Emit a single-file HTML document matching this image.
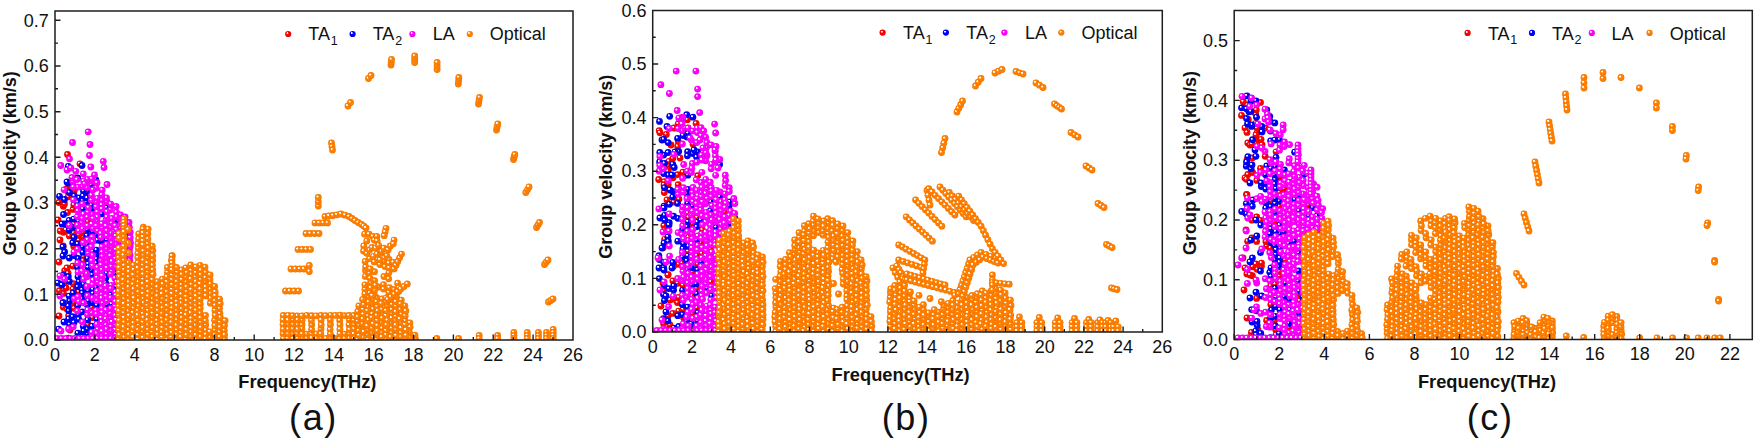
<!DOCTYPE html>
<html><head><meta charset="utf-8"><title>Group velocity</title><style>
html,body{margin:0;padding:0;background:#fff;}
svg{display:block}
.r{fill:url(#gr)} .b{fill:url(#gb)} .m{fill:url(#gm)} .o{fill:url(#go)}
.Lr{fill:url(#gr)} .Lb{fill:url(#gb)} .Lm{fill:url(#gm)} .Lo{fill:url(#go)}
text{font-family:'Liberation Sans',Arial,sans-serif;fill:#111}
.t{font-size:18px}
.ax{font-size:18.3px;font-weight:bold} .ay{font-size:18px;font-weight:bold}
.lg{font-size:18px}
.sub{font-size:12.5px}
.pl{font-size:36px;letter-spacing:1.6px}
</style></head>
<body><svg width="1756" height="441" viewBox="0 0 1756 441">
<defs><radialGradient id="gr" cx=".5" cy=".5" r=".5" fx=".32" fy=".3"><stop offset="0" stop-color="#fff"/><stop offset=".18" stop-color="#fff"/><stop offset=".4" stop-color="#ff0000"/><stop offset=".78" stop-color="#ff0000"/><stop offset="1" stop-color="#d80000"/></radialGradient><radialGradient id="gb" cx=".5" cy=".5" r=".5" fx=".32" fy=".3"><stop offset="0" stop-color="#fff"/><stop offset=".18" stop-color="#fff"/><stop offset=".4" stop-color="#0000ff"/><stop offset=".78" stop-color="#0000ff"/><stop offset="1" stop-color="#0000cc"/></radialGradient><radialGradient id="gm" cx=".5" cy=".5" r=".5" fx=".32" fy=".3"><stop offset="0" stop-color="#fff"/><stop offset=".18" stop-color="#fff"/><stop offset=".4" stop-color="#ff00ff"/><stop offset=".78" stop-color="#ff00ff"/><stop offset="1" stop-color="#dd00dd"/></radialGradient><radialGradient id="go" cx=".5" cy=".5" r=".5" fx=".32" fy=".3"><stop offset="0" stop-color="#fff"/><stop offset=".18" stop-color="#fff"/><stop offset=".4" stop-color="#ff8000"/><stop offset=".78" stop-color="#ff8000"/><stop offset="1" stop-color="#ec7000"/></radialGradient><clipPath id="c0"><rect x="55" y="11" width="518.0" height="329.0"/></clipPath><clipPath id="c1"><rect x="652.7" y="10.5" width="509.6" height="321.5"/></clipPath><clipPath id="c2"><rect x="1234.2" y="10.5" width="518.1" height="329.1"/></clipPath></defs>
<g clip-path="url(#c0)"><g class="r"><circle cx="91.6" cy="307.5" r="3.4"/><circle cx="92.4" cy="317.6" r="3.4"/><circle cx="82.7" cy="275.6" r="3.4"/><circle cx="69.3" cy="235.9" r="3.4"/><circle cx="72.9" cy="289.2" r="3.4"/><circle cx="68.3" cy="196.8" r="3.4"/><circle cx="63.4" cy="293.4" r="3.4"/><circle cx="64.7" cy="270.7" r="3.4"/><circle cx="82.5" cy="237.2" r="3.4"/><circle cx="73.3" cy="283.6" r="3.4"/><circle cx="83.6" cy="256.5" r="3.4"/><circle cx="64.0" cy="283.7" r="3.4"/><circle cx="73.1" cy="209.4" r="3.4"/><circle cx="74.1" cy="308.3" r="3.4"/><circle cx="68.1" cy="192.0" r="3.4"/><circle cx="63.3" cy="307.2" r="3.4"/><circle cx="69.2" cy="187.7" r="3.4"/><circle cx="73.8" cy="246.4" r="3.4"/><circle cx="63.2" cy="302.4" r="3.4"/><circle cx="78.9" cy="235.1" r="3.4"/><circle cx="88.1" cy="324.5" r="3.4"/><circle cx="73.9" cy="224.2" r="3.4"/><circle cx="88.0" cy="221.5" r="3.4"/><circle cx="73.8" cy="204.9" r="3.4"/><circle cx="68.7" cy="315.4" r="3.4"/><circle cx="83.3" cy="232.3" r="3.4"/><circle cx="63.5" cy="232.3" r="3.4"/><circle cx="60.2" cy="231.0" r="3.4"/><circle cx="59.4" cy="290.7" r="3.4"/><circle cx="63.2" cy="246.0" r="3.4"/><circle cx="78.8" cy="240.5" r="3.4"/><circle cx="73.5" cy="232.8" r="3.4"/><circle cx="67.5" cy="154.5" r="3.4"/><circle cx="83.2" cy="260.6" r="3.4"/><circle cx="59.0" cy="202.5" r="3.4"/><circle cx="72.8" cy="266.1" r="3.4"/><circle cx="66.5" cy="188.8" r="3.4"/><circle cx="58.0" cy="220.0" r="3.4"/><circle cx="68.1" cy="273.1" r="3.4"/><circle cx="63.3" cy="206.3" r="3.4"/><circle cx="64.5" cy="204.0" r="3.4"/><circle cx="78.6" cy="291.8" r="3.4"/><circle cx="80.0" cy="163.8" r="3.4"/><circle cx="74.3" cy="190.4" r="3.4"/><circle cx="73.4" cy="302.6" r="3.4"/><circle cx="67.5" cy="212.5" r="3.4"/><circle cx="60.0" cy="240.0" r="3.4"/><circle cx="66.0" cy="230.0" r="3.4"/><circle cx="59.0" cy="262.0" r="3.4"/><circle cx="67.0" cy="268.0" r="3.4"/><circle cx="66.0" cy="288.0" r="3.4"/><circle cx="59.0" cy="316.0" r="3.4"/><circle cx="67.0" cy="309.0" r="3.4"/><circle cx="70.0" cy="330.0" r="3.4"/></g><g class="b"><circle cx="87.3" cy="305.1" r="3.4"/><circle cx="87.1" cy="334.0" r="3.4"/><circle cx="92.9" cy="289.7" r="3.4"/><circle cx="69.5" cy="324.4" r="3.4"/><circle cx="92.5" cy="208.5" r="3.4"/><circle cx="91.5" cy="205.3" r="3.4"/><circle cx="87.0" cy="192.4" r="3.4"/><circle cx="78.3" cy="314.7" r="3.4"/><circle cx="58.6" cy="329.1" r="3.4"/><circle cx="69.4" cy="281.4" r="3.4"/><circle cx="73.8" cy="219.1" r="3.4"/><circle cx="77.5" cy="267.4" r="3.4"/><circle cx="87.5" cy="229.7" r="3.4"/><circle cx="107.1" cy="304.8" r="3.4"/><circle cx="83.5" cy="191.2" r="3.4"/><circle cx="115.0" cy="220.9" r="3.4"/><circle cx="96.6" cy="259.0" r="3.4"/><circle cx="68.6" cy="319.1" r="3.4"/><circle cx="87.1" cy="235.6" r="3.4"/><circle cx="83.3" cy="326.4" r="3.4"/><circle cx="96.3" cy="263.2" r="3.4"/><circle cx="91.4" cy="270.4" r="3.4"/><circle cx="111.6" cy="304.1" r="3.4"/><circle cx="87.2" cy="329.4" r="3.4"/><circle cx="87.8" cy="338.0" r="3.4"/><circle cx="73.0" cy="227.3" r="3.4"/><circle cx="82.3" cy="336.7" r="3.4"/><circle cx="83.7" cy="331.1" r="3.4"/><circle cx="92.7" cy="251.5" r="3.4"/><circle cx="79.0" cy="197.8" r="3.4"/><circle cx="83.0" cy="209.0" r="3.4"/><circle cx="68.8" cy="310.8" r="3.4"/><circle cx="82.8" cy="252.4" r="3.4"/><circle cx="72.6" cy="316.7" r="3.4"/><circle cx="68.3" cy="338.1" r="3.4"/><circle cx="96.2" cy="287.5" r="3.4"/><circle cx="96.5" cy="253.6" r="3.4"/><circle cx="82.0" cy="298.8" r="3.4"/><circle cx="78.0" cy="258.4" r="3.4"/><circle cx="69.3" cy="258.0" r="3.4"/><circle cx="74.0" cy="322.4" r="3.4"/><circle cx="120.5" cy="293.6" r="3.4"/><circle cx="64.6" cy="252.0" r="3.4"/><circle cx="83.4" cy="284.3" r="3.4"/><circle cx="96.2" cy="234.6" r="3.4"/><circle cx="88.2" cy="263.9" r="3.4"/><circle cx="88.1" cy="267.4" r="3.4"/><circle cx="69.1" cy="220.3" r="3.4"/><circle cx="78.1" cy="337.6" r="3.4"/><circle cx="77.7" cy="202.4" r="3.4"/><circle cx="101.2" cy="241.5" r="3.4"/><circle cx="73.2" cy="293.0" r="3.4"/><circle cx="88.3" cy="290.8" r="3.4"/><circle cx="69.5" cy="300.8" r="3.4"/><circle cx="67.9" cy="183.0" r="3.4"/><circle cx="78.5" cy="221.3" r="3.4"/><circle cx="106.7" cy="207.6" r="3.4"/><circle cx="79.0" cy="281.7" r="3.4"/><circle cx="92.0" cy="302.5" r="3.4"/><circle cx="111.0" cy="294.7" r="3.4"/><circle cx="72.7" cy="242.8" r="3.4"/><circle cx="106.7" cy="273.3" r="3.4"/><circle cx="97.5" cy="240.2" r="3.4"/><circle cx="93.0" cy="293.4" r="3.4"/><circle cx="87.2" cy="244.4" r="3.4"/><circle cx="77.7" cy="177.9" r="3.4"/><circle cx="87.6" cy="320.0" r="3.4"/><circle cx="115.3" cy="273.3" r="3.4"/><circle cx="101.7" cy="213.9" r="3.4"/><circle cx="105.6" cy="282.8" r="3.4"/><circle cx="87.6" cy="258.4" r="3.4"/><circle cx="77.5" cy="286.7" r="3.4"/><circle cx="92.9" cy="231.9" r="3.4"/><circle cx="73.8" cy="237.4" r="3.4"/><circle cx="68.3" cy="306.1" r="3.4"/><circle cx="125.4" cy="254.5" r="3.4"/><circle cx="105.9" cy="277.8" r="3.4"/><circle cx="92.3" cy="274.9" r="3.4"/><circle cx="68.3" cy="166.3" r="3.4"/><circle cx="59.5" cy="196.3" r="3.4"/><circle cx="82.7" cy="246.8" r="3.4"/><circle cx="82.7" cy="200.7" r="3.4"/><circle cx="83.1" cy="196.0" r="3.4"/><circle cx="97.0" cy="319.2" r="3.4"/><circle cx="92.1" cy="326.2" r="3.4"/><circle cx="74.3" cy="195.9" r="3.4"/><circle cx="82.2" cy="290.0" r="3.4"/><circle cx="74.0" cy="255.6" r="3.4"/><circle cx="67.0" cy="182.0" r="3.4"/><circle cx="77.8" cy="333.2" r="3.4"/><circle cx="91.5" cy="185.2" r="3.4"/><circle cx="116.1" cy="286.6" r="3.4"/><circle cx="64.5" cy="199.5" r="3.4"/><circle cx="88.3" cy="300.8" r="3.4"/><circle cx="86.8" cy="201.9" r="3.4"/><circle cx="68.3" cy="276.6" r="3.4"/><circle cx="82.2" cy="311.8" r="3.4"/><circle cx="78.0" cy="276.8" r="3.4"/><circle cx="64.3" cy="223.9" r="3.4"/><circle cx="69.3" cy="230.0" r="3.4"/><circle cx="69.5" cy="192.5" r="3.4"/><circle cx="87.1" cy="198.1" r="3.4"/><circle cx="125.0" cy="235.3" r="3.4"/><circle cx="62.0" cy="224.0" r="3.4"/><circle cx="69.1" cy="296.1" r="3.4"/><circle cx="96.9" cy="305.3" r="3.4"/><circle cx="72.9" cy="185.9" r="3.4"/><circle cx="77.7" cy="244.0" r="3.4"/><circle cx="82.3" cy="293.0" r="3.4"/><circle cx="77.7" cy="305.6" r="3.4"/><circle cx="96.4" cy="250.1" r="3.4"/><circle cx="82.0" cy="165.5" r="3.4"/><circle cx="63.5" cy="214.5" r="3.4"/><circle cx="106.9" cy="239.9" r="3.4"/><circle cx="63.4" cy="275.1" r="3.4"/><circle cx="78.9" cy="319.3" r="3.4"/><circle cx="63.0" cy="247.0" r="3.4"/><circle cx="70.0" cy="226.0" r="3.4"/><circle cx="63.0" cy="256.0" r="3.4"/><circle cx="58.0" cy="283.0" r="3.4"/><circle cx="62.0" cy="285.0" r="3.4"/><circle cx="95.8" cy="180.0" r="3.4"/><circle cx="95.8" cy="185.0" r="3.4"/><circle cx="63.0" cy="303.0" r="3.4"/><circle cx="64.0" cy="322.0" r="3.4"/></g><g class="m"><circle cx="121.3" cy="222.8" r="3.4"/><circle cx="110.5" cy="251.1" r="3.4"/><circle cx="101.4" cy="326.0" r="3.4"/><circle cx="106.9" cy="301.0" r="3.4"/><circle cx="110.4" cy="317.5" r="3.4"/><circle cx="97.4" cy="338.0" r="3.4"/><circle cx="130.5" cy="242.8" r="3.4"/><circle cx="83.6" cy="279.2" r="3.4"/><circle cx="97.8" cy="329.1" r="3.4"/><circle cx="88.3" cy="253.1" r="3.4"/><circle cx="93.0" cy="280.2" r="3.4"/><circle cx="111.2" cy="326.6" r="3.4"/><circle cx="116.1" cy="262.6" r="3.4"/><circle cx="115.0" cy="315.4" r="3.4"/><circle cx="101.9" cy="279.5" r="3.4"/><circle cx="121.3" cy="284.1" r="3.4"/><circle cx="102.3" cy="227.8" r="3.4"/><circle cx="115.2" cy="329.6" r="3.4"/><circle cx="87.4" cy="225.7" r="3.4"/><circle cx="105.8" cy="324.7" r="3.4"/><circle cx="114.9" cy="278.2" r="3.4"/><circle cx="86.9" cy="286.4" r="3.4"/><circle cx="96.6" cy="300.4" r="3.4"/><circle cx="115.1" cy="258.6" r="3.4"/><circle cx="129.5" cy="250.8" r="3.4"/><circle cx="92.4" cy="298.0" r="3.4"/><circle cx="115.6" cy="334.5" r="3.4"/><circle cx="110.8" cy="233.3" r="3.4"/><circle cx="110.5" cy="227.3" r="3.4"/><circle cx="82.4" cy="321.9" r="3.4"/><circle cx="115.6" cy="253.2" r="3.4"/><circle cx="106.2" cy="290.8" r="3.4"/><circle cx="101.4" cy="260.3" r="3.4"/><circle cx="92.4" cy="265.7" r="3.4"/><circle cx="96.1" cy="310.3" r="3.4"/><circle cx="115.1" cy="337.6" r="3.4"/><circle cx="73.4" cy="199.8" r="3.4"/><circle cx="116.0" cy="320.1" r="3.4"/><circle cx="115.0" cy="324.6" r="3.4"/><circle cx="102.2" cy="336.2" r="3.4"/><circle cx="92.1" cy="214.4" r="3.4"/><circle cx="130.0" cy="274.8" r="3.4"/><circle cx="77.5" cy="249.2" r="3.4"/><circle cx="92.3" cy="237.0" r="3.4"/><circle cx="101.2" cy="317.8" r="3.4"/><circle cx="111.4" cy="246.3" r="3.4"/><circle cx="120.7" cy="298.5" r="3.4"/><circle cx="102.2" cy="308.2" r="3.4"/><circle cx="96.8" cy="221.1" r="3.4"/><circle cx="97.7" cy="282.1" r="3.4"/><circle cx="106.9" cy="201.7" r="3.4"/><circle cx="125.3" cy="226.5" r="3.4"/><circle cx="78.9" cy="231.0" r="3.4"/><circle cx="77.4" cy="310.9" r="3.4"/><circle cx="101.4" cy="294.5" r="3.4"/><circle cx="106.5" cy="197.8" r="3.4"/><circle cx="106.1" cy="315.6" r="3.4"/><circle cx="82.6" cy="265.2" r="3.4"/><circle cx="102.1" cy="246.7" r="3.4"/><circle cx="82.5" cy="228.9" r="3.4"/><circle cx="101.5" cy="321.9" r="3.4"/><circle cx="116.4" cy="212.3" r="3.4"/><circle cx="125.5" cy="272.2" r="3.4"/><circle cx="114.9" cy="306.3" r="3.4"/><circle cx="124.8" cy="249.6" r="3.4"/><circle cx="130.5" cy="269.7" r="3.4"/><circle cx="111.7" cy="222.9" r="3.4"/><circle cx="101.5" cy="288.6" r="3.4"/><circle cx="121.1" cy="288.7" r="3.4"/><circle cx="92.8" cy="181.3" r="3.4"/><circle cx="83.5" cy="214.2" r="3.4"/><circle cx="129.0" cy="222.5" r="3.4"/><circle cx="125.8" cy="230.1" r="3.4"/><circle cx="125.4" cy="281.3" r="3.4"/><circle cx="74.3" cy="298.6" r="3.4"/><circle cx="130.3" cy="265.4" r="3.4"/><circle cx="87.4" cy="314.6" r="3.4"/><circle cx="111.7" cy="218.4" r="3.4"/><circle cx="96.5" cy="333.4" r="3.4"/><circle cx="115.1" cy="291.9" r="3.4"/><circle cx="129.7" cy="260.2" r="3.4"/><circle cx="82.4" cy="203.9" r="3.4"/><circle cx="83.3" cy="242.7" r="3.4"/><circle cx="93.1" cy="228.5" r="3.4"/><circle cx="116.5" cy="240.3" r="3.4"/><circle cx="73.3" cy="326.8" r="3.4"/><circle cx="125.1" cy="216.8" r="3.4"/><circle cx="110.5" cy="330.9" r="3.4"/><circle cx="115.2" cy="301.5" r="3.4"/><circle cx="82.3" cy="186.6" r="3.4"/><circle cx="120.9" cy="241.8" r="3.4"/><circle cx="77.5" cy="206.1" r="3.4"/><circle cx="115.5" cy="244.4" r="3.4"/><circle cx="101.7" cy="200.4" r="3.4"/><circle cx="96.5" cy="202.1" r="3.4"/><circle cx="77.8" cy="187.2" r="3.4"/><circle cx="68.5" cy="329.0" r="3.4"/><circle cx="101.7" cy="205.0" r="3.4"/><circle cx="106.3" cy="253.1" r="3.4"/><circle cx="121.1" cy="279.6" r="3.4"/><circle cx="92.5" cy="284.6" r="3.4"/><circle cx="120.1" cy="238.0" r="3.4"/><circle cx="82.1" cy="222.6" r="3.4"/><circle cx="111.8" cy="242.8" r="3.4"/><circle cx="111.3" cy="285.3" r="3.4"/><circle cx="124.4" cy="245.2" r="3.4"/><circle cx="78.1" cy="272.2" r="3.4"/><circle cx="78.2" cy="296.6" r="3.4"/><circle cx="110.3" cy="238.2" r="3.4"/><circle cx="121.1" cy="247.0" r="3.4"/><circle cx="97.5" cy="230.7" r="3.4"/><circle cx="92.6" cy="255.4" r="3.4"/><circle cx="101.9" cy="209.0" r="3.4"/><circle cx="106.1" cy="296.4" r="3.4"/><circle cx="110.3" cy="210.0" r="3.4"/><circle cx="110.3" cy="255.9" r="3.4"/><circle cx="87.0" cy="276.7" r="3.4"/><circle cx="87.5" cy="239.7" r="3.4"/><circle cx="88.0" cy="212.2" r="3.4"/><circle cx="116.3" cy="310.0" r="3.4"/><circle cx="130.1" cy="255.5" r="3.4"/><circle cx="115.9" cy="295.3" r="3.4"/><circle cx="115.2" cy="267.1" r="3.4"/><circle cx="64.6" cy="279.1" r="3.4"/><circle cx="102.2" cy="252.2" r="3.4"/><circle cx="115.3" cy="225.6" r="3.4"/><circle cx="116.6" cy="282.1" r="3.4"/><circle cx="120.7" cy="302.7" r="3.4"/><circle cx="110.9" cy="288.5" r="3.4"/><circle cx="110.2" cy="313.5" r="3.4"/><circle cx="69.3" cy="225.3" r="3.4"/><circle cx="97.4" cy="267.4" r="3.4"/><circle cx="119.9" cy="232.4" r="3.4"/><circle cx="119.8" cy="256.9" r="3.4"/><circle cx="125.5" cy="276.5" r="3.4"/><circle cx="102.2" cy="190.1" r="3.4"/><circle cx="106.0" cy="220.1" r="3.4"/><circle cx="111.8" cy="336.8" r="3.4"/><circle cx="106.5" cy="334.1" r="3.4"/><circle cx="119.8" cy="270.1" r="3.4"/><circle cx="86.7" cy="273.5" r="3.4"/><circle cx="116.1" cy="206.5" r="3.4"/><circle cx="88.2" cy="248.5" r="3.4"/><circle cx="97.3" cy="211.9" r="3.4"/><circle cx="130.2" cy="232.3" r="3.4"/><circle cx="96.2" cy="206.8" r="3.4"/><circle cx="87.0" cy="183.9" r="3.4"/><circle cx="101.2" cy="284.1" r="3.4"/><circle cx="87.5" cy="295.6" r="3.4"/><circle cx="106.0" cy="310.2" r="3.4"/><circle cx="106.7" cy="248.6" r="3.4"/><circle cx="77.3" cy="216.8" r="3.4"/><circle cx="96.9" cy="277.5" r="3.4"/><circle cx="64.1" cy="189.8" r="3.4"/><circle cx="101.7" cy="194.7" r="3.4"/><circle cx="105.8" cy="318.9" r="3.4"/><circle cx="101.9" cy="269.5" r="3.4"/><circle cx="130.2" cy="237.7" r="3.4"/><circle cx="96.7" cy="272.4" r="3.4"/><circle cx="91.8" cy="224.1" r="3.4"/><circle cx="100.8" cy="233.4" r="3.4"/><circle cx="106.6" cy="329.3" r="3.4"/><circle cx="101.9" cy="223.6" r="3.4"/><circle cx="74.0" cy="252.1" r="3.4"/><circle cx="120.5" cy="214.8" r="3.4"/><circle cx="60.8" cy="165.5" r="3.4"/><circle cx="77.8" cy="210.9" r="3.4"/><circle cx="72.8" cy="181.6" r="3.4"/><circle cx="96.8" cy="324.3" r="3.4"/><circle cx="111.8" cy="271.0" r="3.4"/><circle cx="129.3" cy="227.4" r="3.4"/><circle cx="97.0" cy="182.7" r="3.4"/><circle cx="91.4" cy="200.2" r="3.4"/><circle cx="120.9" cy="274.3" r="3.4"/><circle cx="121.1" cy="266.2" r="3.4"/><circle cx="83.6" cy="302.9" r="3.4"/><circle cx="82.4" cy="218.5" r="3.4"/><circle cx="77.7" cy="262.9" r="3.4"/><circle cx="111.3" cy="266.5" r="3.4"/><circle cx="72.5" cy="142.5" r="3.4"/><circle cx="111.8" cy="261.3" r="3.4"/><circle cx="125.3" cy="263.1" r="3.4"/><circle cx="91.8" cy="332.3" r="3.4"/><circle cx="110.6" cy="308.5" r="3.4"/><circle cx="119.6" cy="218.8" r="3.4"/><circle cx="130.2" cy="246.5" r="3.4"/><circle cx="101.2" cy="264.9" r="3.4"/><circle cx="102.2" cy="312.5" r="3.4"/><circle cx="97.3" cy="198.3" r="3.4"/><circle cx="69.5" cy="158.8" r="3.4"/><circle cx="91.9" cy="260.6" r="3.4"/><circle cx="120.4" cy="252.4" r="3.4"/><circle cx="97.2" cy="295.4" r="3.4"/><circle cx="111.9" cy="321.8" r="3.4"/><circle cx="92.6" cy="241.7" r="3.4"/><circle cx="67.0" cy="170.0" r="3.4"/><circle cx="91.5" cy="337.0" r="3.4"/><circle cx="107.0" cy="211.7" r="3.4"/><circle cx="106.1" cy="226.0" r="3.4"/><circle cx="116.6" cy="216.8" r="3.4"/><circle cx="106.9" cy="217.0" r="3.4"/><circle cx="115.6" cy="236.0" r="3.4"/><circle cx="102.5" cy="303.0" r="3.4"/><circle cx="106.7" cy="262.4" r="3.4"/><circle cx="91.5" cy="195.3" r="3.4"/><circle cx="124.4" cy="257.9" r="3.4"/><circle cx="102.2" cy="275.8" r="3.4"/><circle cx="101.6" cy="298.2" r="3.4"/><circle cx="70.8" cy="168.0" r="3.4"/><circle cx="119.7" cy="228.8" r="3.4"/><circle cx="91.4" cy="246.6" r="3.4"/><circle cx="97.3" cy="217.0" r="3.4"/><circle cx="93.1" cy="218.6" r="3.4"/><circle cx="105.6" cy="258.3" r="3.4"/><circle cx="101.0" cy="237.4" r="3.4"/><circle cx="110.5" cy="297.8" r="3.4"/><circle cx="125.0" cy="221.4" r="3.4"/><circle cx="87.3" cy="179.4" r="3.4"/><circle cx="72.0" cy="177.5" r="3.4"/><circle cx="106.9" cy="230.6" r="3.4"/><circle cx="97.2" cy="291.2" r="3.4"/><circle cx="102.4" cy="256.4" r="3.4"/><circle cx="87.0" cy="187.5" r="3.4"/><circle cx="91.6" cy="312.9" r="3.4"/><circle cx="82.1" cy="271.1" r="3.4"/><circle cx="110.5" cy="274.2" r="3.4"/><circle cx="96.3" cy="225.9" r="3.4"/><circle cx="75.8" cy="171.3" r="3.4"/><circle cx="120.9" cy="260.9" r="3.4"/><circle cx="88.2" cy="131.8" r="3.4"/><circle cx="105.5" cy="338.1" r="3.4"/><circle cx="88.4" cy="207.6" r="3.4"/><circle cx="116.4" cy="229.6" r="3.4"/><circle cx="115.9" cy="249.6" r="3.4"/><circle cx="73.3" cy="187.0" r="3.4"/><circle cx="96.1" cy="188.2" r="3.4"/><circle cx="78.8" cy="301.5" r="3.4"/><circle cx="77.4" cy="225.1" r="3.4"/><circle cx="93.0" cy="189.7" r="3.4"/><circle cx="106.6" cy="244.4" r="3.4"/><circle cx="83.5" cy="181.0" r="3.4"/><circle cx="77.0" cy="179.5" r="3.4"/><circle cx="124.9" cy="239.0" r="3.4"/><circle cx="106.7" cy="267.9" r="3.4"/><circle cx="105.5" cy="285.9" r="3.4"/><circle cx="106.7" cy="235.7" r="3.4"/><circle cx="96.4" cy="314.1" r="3.4"/><circle cx="102.0" cy="331.3" r="3.4"/><circle cx="110.7" cy="204.1" r="3.4"/><circle cx="90.0" cy="144.5" r="3.4"/><circle cx="124.6" cy="287.0" r="3.4"/><circle cx="87.3" cy="217.1" r="3.4"/><circle cx="87.7" cy="310.0" r="3.4"/><circle cx="83.3" cy="173.8" r="3.4"/><circle cx="89.5" cy="155.5" r="3.4"/><circle cx="84.5" cy="183.8" r="3.4"/><circle cx="90.8" cy="167.0" r="3.4"/><circle cx="60.0" cy="276.0" r="3.4"/><circle cx="92.0" cy="178.8" r="3.4"/><circle cx="94.5" cy="175.0" r="3.4"/><circle cx="60.0" cy="296.0" r="3.4"/><circle cx="103.3" cy="161.3" r="3.4"/><circle cx="104.0" cy="167.5" r="3.4"/><circle cx="57.0" cy="338.5" r="3.4"/><circle cx="61.0" cy="331.0" r="3.4"/><circle cx="107.0" cy="184.5" r="3.4"/><circle cx="61.5" cy="338.5" r="3.4"/><circle cx="66.0" cy="338.5" r="3.4"/><circle cx="70.5" cy="338.5" r="3.4"/><circle cx="75.0" cy="338.5" r="3.4"/><circle cx="79.5" cy="338.5" r="3.4"/><circle cx="84.0" cy="338.5" r="3.4"/><circle cx="88.5" cy="338.5" r="3.4"/><circle cx="93.0" cy="338.5" r="3.4"/><circle cx="97.5" cy="338.5" r="3.4"/><circle cx="102.0" cy="338.5" r="3.4"/><circle cx="106.5" cy="338.5" r="3.4"/><circle cx="111.0" cy="338.5" r="3.4"/><circle cx="115.5" cy="338.5" r="3.4"/></g><g class="o"><circle cx="219.7" cy="332.0" r="3.4"/><circle cx="147.8" cy="257.7" r="3.4"/><circle cx="185.8" cy="267.8" r="3.4"/><circle cx="133.5" cy="308.2" r="3.4"/><circle cx="224.6" cy="339.7" r="3.4"/><circle cx="210.3" cy="303.2" r="3.4"/><circle cx="167.4" cy="272.3" r="3.4"/><circle cx="128.2" cy="296.0" r="3.4"/><circle cx="147.5" cy="339.4" r="3.4"/><circle cx="219.7" cy="336.9" r="3.4"/><circle cx="191.0" cy="336.6" r="3.4"/><circle cx="167.3" cy="315.6" r="3.4"/><circle cx="176.9" cy="319.9" r="3.4"/><circle cx="161.9" cy="303.1" r="3.4"/><circle cx="191.1" cy="270.4" r="3.4"/><circle cx="157.5" cy="291.5" r="3.4"/><circle cx="219.6" cy="299.1" r="3.4"/><circle cx="157.6" cy="315.7" r="3.4"/><circle cx="157.0" cy="320.6" r="3.4"/><circle cx="138.1" cy="282.1" r="3.4"/><circle cx="152.1" cy="288.8" r="3.4"/><circle cx="143.1" cy="298.6" r="3.4"/><circle cx="142.6" cy="331.8" r="3.4"/><circle cx="191.4" cy="284.5" r="3.4"/><circle cx="143.4" cy="303.1" r="3.4"/><circle cx="138.5" cy="325.0" r="3.4"/><circle cx="195.3" cy="320.7" r="3.4"/><circle cx="119.0" cy="248.2" r="3.4"/><circle cx="133.3" cy="323.1" r="3.4"/><circle cx="138.0" cy="335.1" r="3.4"/><circle cx="214.7" cy="330.3" r="3.4"/><circle cx="176.9" cy="330.0" r="3.4"/><circle cx="123.5" cy="289.0" r="3.4"/><circle cx="171.9" cy="299.0" r="3.4"/><circle cx="162.3" cy="279.2" r="3.4"/><circle cx="161.8" cy="318.3" r="3.4"/><circle cx="157.1" cy="324.7" r="3.4"/><circle cx="128.2" cy="311.2" r="3.4"/><circle cx="152.2" cy="317.6" r="3.4"/><circle cx="205.8" cy="330.2" r="3.4"/><circle cx="143.5" cy="245.7" r="3.4"/><circle cx="128.3" cy="339.9" r="3.4"/><circle cx="128.2" cy="262.7" r="3.4"/><circle cx="157.5" cy="330.2" r="3.4"/><circle cx="148.3" cy="334.5" r="3.4"/><circle cx="220.0" cy="322.3" r="3.4"/><circle cx="195.7" cy="305.5" r="3.4"/><circle cx="186.5" cy="291.6" r="3.4"/><circle cx="167.0" cy="310.3" r="3.4"/><circle cx="186.2" cy="320.5" r="3.4"/><circle cx="195.7" cy="335.0" r="3.4"/><circle cx="181.7" cy="313.4" r="3.4"/><circle cx="167.3" cy="296.7" r="3.4"/><circle cx="143.5" cy="240.6" r="3.4"/><circle cx="124.2" cy="298.7" r="3.4"/><circle cx="142.8" cy="265.1" r="3.4"/><circle cx="191.1" cy="274.5" r="3.4"/><circle cx="167.0" cy="286.3" r="3.4"/><circle cx="128.7" cy="282.3" r="3.4"/><circle cx="119.3" cy="272.3" r="3.4"/><circle cx="176.3" cy="296.3" r="3.4"/><circle cx="147.8" cy="329.5" r="3.4"/><circle cx="128.1" cy="243.1" r="3.4"/><circle cx="181.3" cy="299.2" r="3.4"/><circle cx="138.6" cy="296.1" r="3.4"/><circle cx="190.7" cy="303.4" r="3.4"/><circle cx="123.7" cy="260.4" r="3.4"/><circle cx="118.7" cy="257.5" r="3.4"/><circle cx="191.2" cy="298.7" r="3.4"/><circle cx="167.0" cy="281.9" r="3.4"/><circle cx="171.5" cy="317.7" r="3.4"/><circle cx="147.9" cy="272.2" r="3.4"/><circle cx="172.2" cy="303.8" r="3.4"/><circle cx="181.3" cy="284.8" r="3.4"/><circle cx="214.6" cy="320.3" r="3.4"/><circle cx="205.2" cy="281.4" r="3.4"/><circle cx="118.7" cy="339.1" r="3.4"/><circle cx="143.1" cy="279.3" r="3.4"/><circle cx="128.4" cy="329.9" r="3.4"/><circle cx="195.4" cy="276.8" r="3.4"/><circle cx="172.1" cy="264.9" r="3.4"/><circle cx="224.3" cy="330.4" r="3.4"/><circle cx="219.9" cy="313.5" r="3.4"/><circle cx="143.4" cy="227.2" r="3.4"/><circle cx="214.6" cy="335.1" r="3.4"/><circle cx="166.9" cy="276.8" r="3.4"/><circle cx="124.2" cy="337.3" r="3.4"/><circle cx="166.6" cy="329.7" r="3.4"/><circle cx="210.1" cy="289.1" r="3.4"/><circle cx="205.6" cy="286.9" r="3.4"/><circle cx="177.0" cy="291.5" r="3.4"/><circle cx="210.4" cy="293.5" r="3.4"/><circle cx="147.3" cy="277.2" r="3.4"/><circle cx="138.2" cy="320.7" r="3.4"/><circle cx="118.5" cy="306.1" r="3.4"/><circle cx="133.2" cy="293.7" r="3.4"/><circle cx="143.1" cy="288.8" r="3.4"/><circle cx="148.0" cy="310.5" r="3.4"/><circle cx="147.8" cy="233.6" r="3.4"/><circle cx="185.8" cy="282.0" r="3.4"/><circle cx="157.4" cy="300.6" r="3.4"/><circle cx="186.4" cy="286.9" r="3.4"/><circle cx="118.9" cy="330.1" r="3.4"/><circle cx="142.8" cy="270.2" r="3.4"/><circle cx="124.1" cy="265.5" r="3.4"/><circle cx="181.1" cy="303.3" r="3.4"/><circle cx="167.2" cy="324.8" r="3.4"/><circle cx="118.9" cy="282.3" r="3.4"/><circle cx="205.6" cy="272.4" r="3.4"/><circle cx="181.2" cy="294.3" r="3.4"/><circle cx="142.8" cy="308.6" r="3.4"/><circle cx="152.3" cy="284.5" r="3.4"/><circle cx="119.2" cy="253.0" r="3.4"/><circle cx="137.8" cy="262.8" r="3.4"/><circle cx="152.8" cy="250.6" r="3.4"/><circle cx="166.7" cy="300.8" r="3.4"/><circle cx="119.4" cy="276.7" r="3.4"/><circle cx="157.7" cy="306.3" r="3.4"/><circle cx="138.1" cy="276.6" r="3.4"/><circle cx="191.2" cy="308.5" r="3.4"/><circle cx="123.8" cy="236.4" r="3.4"/><circle cx="200.2" cy="304.0" r="3.4"/><circle cx="176.6" cy="334.5" r="3.4"/><circle cx="137.9" cy="330.0" r="3.4"/><circle cx="143.4" cy="255.2" r="3.4"/><circle cx="119.3" cy="262.3" r="3.4"/><circle cx="205.0" cy="267.1" r="3.4"/><circle cx="133.7" cy="279.6" r="3.4"/><circle cx="210.6" cy="298.3" r="3.4"/><circle cx="205.7" cy="324.9" r="3.4"/><circle cx="123.6" cy="313.0" r="3.4"/><circle cx="123.7" cy="226.3" r="3.4"/><circle cx="195.3" cy="329.6" r="3.4"/><circle cx="162.7" cy="284.2" r="3.4"/><circle cx="152.3" cy="293.8" r="3.4"/><circle cx="209.9" cy="279.2" r="3.4"/><circle cx="152.7" cy="260.6" r="3.4"/><circle cx="147.6" cy="286.6" r="3.4"/><circle cx="172.2" cy="255.7" r="3.4"/><circle cx="181.3" cy="288.7" r="3.4"/><circle cx="148.3" cy="291.9" r="3.4"/><circle cx="186.6" cy="310.9" r="3.4"/><circle cx="171.3" cy="327.9" r="3.4"/><circle cx="200.7" cy="279.5" r="3.4"/><circle cx="205.5" cy="315.5" r="3.4"/><circle cx="152.5" cy="265.3" r="3.4"/><circle cx="147.4" cy="305.4" r="3.4"/><circle cx="219.5" cy="308.4" r="3.4"/><circle cx="224.5" cy="325.6" r="3.4"/><circle cx="118.7" cy="295.9" r="3.4"/><circle cx="161.8" cy="313.4" r="3.4"/><circle cx="119.0" cy="315.1" r="3.4"/><circle cx="200.2" cy="308.5" r="3.4"/><circle cx="200.1" cy="265.3" r="3.4"/><circle cx="119.1" cy="233.5" r="3.4"/><circle cx="128.2" cy="320.2" r="3.4"/><circle cx="152.7" cy="269.8" r="3.4"/><circle cx="176.8" cy="276.7" r="3.4"/><circle cx="152.5" cy="313.4" r="3.4"/><circle cx="190.6" cy="313.1" r="3.4"/><circle cx="200.1" cy="313.4" r="3.4"/><circle cx="133.5" cy="303.3" r="3.4"/><circle cx="152.3" cy="332.0" r="3.4"/><circle cx="138.2" cy="272.4" r="3.4"/><circle cx="195.3" cy="325.4" r="3.4"/><circle cx="132.9" cy="312.8" r="3.4"/><circle cx="195.6" cy="315.6" r="3.4"/><circle cx="171.5" cy="260.3" r="3.4"/><circle cx="166.6" cy="291.9" r="3.4"/><circle cx="148.0" cy="324.7" r="3.4"/><circle cx="186.0" cy="315.1" r="3.4"/><circle cx="191.2" cy="327.6" r="3.4"/><circle cx="123.7" cy="274.5" r="3.4"/><circle cx="119.2" cy="286.4" r="3.4"/><circle cx="152.2" cy="298.9" r="3.4"/><circle cx="148.2" cy="229.1" r="3.4"/><circle cx="220.3" cy="317.5" r="3.4"/><circle cx="138.7" cy="233.9" r="3.4"/><circle cx="152.2" cy="246.2" r="3.4"/><circle cx="147.7" cy="243.7" r="3.4"/><circle cx="129.0" cy="334.5" r="3.4"/><circle cx="205.4" cy="320.8" r="3.4"/><circle cx="186.0" cy="324.8" r="3.4"/><circle cx="157.2" cy="281.6" r="3.4"/><circle cx="137.8" cy="253.4" r="3.4"/><circle cx="119.0" cy="301.6" r="3.4"/><circle cx="181.2" cy="332.6" r="3.4"/><circle cx="200.9" cy="322.3" r="3.4"/><circle cx="133.4" cy="265.2" r="3.4"/><circle cx="166.6" cy="320.4" r="3.4"/><circle cx="201.0" cy="331.8" r="3.4"/><circle cx="191.2" cy="293.6" r="3.4"/><circle cx="219.9" cy="327.3" r="3.4"/><circle cx="123.9" cy="221.8" r="3.4"/><circle cx="124.1" cy="308.0" r="3.4"/><circle cx="167.4" cy="267.5" r="3.4"/><circle cx="181.6" cy="317.7" r="3.4"/><circle cx="143.2" cy="260.4" r="3.4"/><circle cx="162.5" cy="298.5" r="3.4"/><circle cx="128.7" cy="324.7" r="3.4"/><circle cx="133.2" cy="317.6" r="3.4"/><circle cx="205.2" cy="277.6" r="3.4"/><circle cx="148.0" cy="253.5" r="3.4"/><circle cx="200.9" cy="327.5" r="3.4"/><circle cx="166.7" cy="339.9" r="3.4"/><circle cx="195.8" cy="281.5" r="3.4"/><circle cx="138.3" cy="248.4" r="3.4"/><circle cx="137.9" cy="310.6" r="3.4"/><circle cx="129.0" cy="267.7" r="3.4"/><circle cx="176.2" cy="339.8" r="3.4"/><circle cx="215.0" cy="300.8" r="3.4"/><circle cx="176.5" cy="310.4" r="3.4"/><circle cx="119.2" cy="320.5" r="3.4"/><circle cx="147.9" cy="238.9" r="3.4"/><circle cx="191.0" cy="332.2" r="3.4"/><circle cx="177.1" cy="272.2" r="3.4"/><circle cx="195.7" cy="272.6" r="3.4"/><circle cx="186.0" cy="339.6" r="3.4"/><circle cx="142.7" cy="313.6" r="3.4"/><circle cx="152.3" cy="279.8" r="3.4"/><circle cx="195.5" cy="301.1" r="3.4"/><circle cx="181.8" cy="279.5" r="3.4"/><circle cx="180.9" cy="337.0" r="3.4"/><circle cx="147.3" cy="262.9" r="3.4"/><circle cx="224.6" cy="334.9" r="3.4"/><circle cx="124.0" cy="219.0" r="3.4"/><circle cx="137.9" cy="286.5" r="3.4"/><circle cx="215.0" cy="310.4" r="3.4"/><circle cx="167.5" cy="334.5" r="3.4"/><circle cx="124.0" cy="222.2" r="3.4"/><circle cx="176.4" cy="325.3" r="3.4"/><circle cx="167.1" cy="305.8" r="3.4"/><circle cx="124.0" cy="225.5" r="3.4"/><circle cx="123.7" cy="269.7" r="3.4"/><circle cx="157.4" cy="339.5" r="3.4"/><circle cx="209.9" cy="337.5" r="3.4"/><circle cx="133.9" cy="298.2" r="3.4"/><circle cx="195.4" cy="291.5" r="3.4"/><circle cx="162.3" cy="327.8" r="3.4"/><circle cx="124.0" cy="228.8" r="3.4"/><circle cx="185.9" cy="276.8" r="3.4"/><circle cx="123.9" cy="246.2" r="3.4"/><circle cx="124.2" cy="231.0" r="3.4"/><circle cx="171.4" cy="322.4" r="3.4"/><circle cx="132.9" cy="332.0" r="3.4"/><circle cx="157.6" cy="334.6" r="3.4"/><circle cx="128.8" cy="276.9" r="3.4"/><circle cx="124.0" cy="232.0" r="3.4"/><circle cx="143.2" cy="235.9" r="3.4"/><circle cx="162.4" cy="308.1" r="3.4"/><circle cx="205.9" cy="291.2" r="3.4"/><circle cx="123.6" cy="294.0" r="3.4"/><circle cx="147.9" cy="301.0" r="3.4"/><circle cx="128.2" cy="229.5" r="3.4"/><circle cx="148.0" cy="296.3" r="3.4"/><circle cx="196.0" cy="286.4" r="3.4"/><circle cx="200.1" cy="283.9" r="3.4"/><circle cx="119.4" cy="334.9" r="3.4"/><circle cx="152.2" cy="308.2" r="3.4"/><circle cx="186.7" cy="272.6" r="3.4"/><circle cx="137.7" cy="315.2" r="3.4"/><circle cx="118.7" cy="291.3" r="3.4"/><circle cx="128.7" cy="291.2" r="3.4"/><circle cx="181.6" cy="322.6" r="3.4"/><circle cx="138.0" cy="243.7" r="3.4"/><circle cx="205.8" cy="295.8" r="3.4"/><circle cx="142.6" cy="231.3" r="3.4"/><circle cx="200.9" cy="270.3" r="3.4"/><circle cx="190.7" cy="279.0" r="3.4"/><circle cx="123.3" cy="284.2" r="3.4"/><circle cx="196.0" cy="296.2" r="3.4"/><circle cx="214.8" cy="325.5" r="3.4"/><circle cx="196.2" cy="340.0" r="3.4"/><circle cx="200.7" cy="274.8" r="3.4"/><circle cx="138.6" cy="306.0" r="3.4"/><circle cx="225.1" cy="320.7" r="3.4"/><circle cx="128.9" cy="271.9" r="3.4"/><circle cx="142.9" cy="322.3" r="3.4"/><circle cx="181.4" cy="308.7" r="3.4"/><circle cx="133.6" cy="269.7" r="3.4"/><circle cx="215.0" cy="305.4" r="3.4"/><circle cx="186.2" cy="296.7" r="3.4"/><circle cx="148.3" cy="248.0" r="3.4"/><circle cx="200.4" cy="317.8" r="3.4"/><circle cx="181.4" cy="270.0" r="3.4"/><circle cx="186.5" cy="300.8" r="3.4"/><circle cx="142.9" cy="337.6" r="3.4"/><circle cx="129.0" cy="315.6" r="3.4"/><circle cx="181.7" cy="274.5" r="3.4"/><circle cx="152.5" cy="303.5" r="3.4"/><circle cx="142.9" cy="284.0" r="3.4"/><circle cx="119.0" cy="311.1" r="3.4"/><circle cx="200.2" cy="293.8" r="3.4"/><circle cx="210.5" cy="284.1" r="3.4"/><circle cx="119.2" cy="267.6" r="3.4"/><circle cx="137.8" cy="257.6" r="3.4"/><circle cx="200.2" cy="289.2" r="3.4"/><circle cx="138.5" cy="239.0" r="3.4"/><circle cx="205.8" cy="334.5" r="3.4"/><circle cx="128.7" cy="301.4" r="3.4"/><circle cx="143.4" cy="317.6" r="3.4"/><circle cx="172.1" cy="308.3" r="3.4"/><circle cx="123.3" cy="279.8" r="3.4"/><circle cx="186.3" cy="305.7" r="3.4"/><circle cx="153.0" cy="274.4" r="3.4"/><circle cx="162.0" cy="289.4" r="3.4"/><circle cx="133.1" cy="337.1" r="3.4"/><circle cx="190.7" cy="265.0" r="3.4"/><circle cx="181.3" cy="328.0" r="3.4"/><circle cx="186.4" cy="329.7" r="3.4"/><circle cx="138.7" cy="301.2" r="3.4"/><circle cx="152.6" cy="337.1" r="3.4"/><circle cx="171.3" cy="337.2" r="3.4"/><circle cx="152.1" cy="322.6" r="3.4"/><circle cx="172.1" cy="279.6" r="3.4"/><circle cx="124.0" cy="317.7" r="3.4"/><circle cx="172.0" cy="289.3" r="3.4"/><circle cx="124.2" cy="322.4" r="3.4"/><circle cx="176.6" cy="301.6" r="3.4"/><circle cx="172.2" cy="284.7" r="3.4"/><circle cx="128.4" cy="252.8" r="3.4"/><circle cx="162.4" cy="322.5" r="3.4"/><circle cx="123.4" cy="331.8" r="3.4"/><circle cx="143.0" cy="229.0" r="3.4"/><circle cx="133.3" cy="327.5" r="3.4"/><circle cx="123.6" cy="327.2" r="3.4"/><circle cx="200.2" cy="298.9" r="3.4"/><circle cx="143.0" cy="233.0" r="3.4"/><circle cx="157.2" cy="287.1" r="3.4"/><circle cx="215.1" cy="339.9" r="3.4"/><circle cx="157.2" cy="296.1" r="3.4"/><circle cx="176.5" cy="286.3" r="3.4"/><circle cx="162.1" cy="337.2" r="3.4"/><circle cx="143.3" cy="251.1" r="3.4"/><circle cx="143.0" cy="237.0" r="3.4"/><circle cx="152.7" cy="327.8" r="3.4"/><circle cx="143.1" cy="274.4" r="3.4"/><circle cx="210.1" cy="274.8" r="3.4"/><circle cx="128.5" cy="287.1" r="3.4"/><circle cx="132.9" cy="284.4" r="3.4"/><circle cx="143.0" cy="241.0" r="3.4"/><circle cx="147.6" cy="315.2" r="3.4"/><circle cx="143.0" cy="245.0" r="3.4"/><circle cx="205.3" cy="339.0" r="3.4"/><circle cx="200.6" cy="336.7" r="3.4"/><circle cx="176.6" cy="281.8" r="3.4"/><circle cx="214.7" cy="286.4" r="3.4"/><circle cx="215.2" cy="291.9" r="3.4"/><circle cx="210.0" cy="331.8" r="3.4"/><circle cx="123.9" cy="303.8" r="3.4"/><circle cx="195.9" cy="310.4" r="3.4"/><circle cx="176.5" cy="267.5" r="3.4"/><circle cx="147.4" cy="267.8" r="3.4"/><circle cx="162.0" cy="294.0" r="3.4"/><circle cx="147.4" cy="320.2" r="3.4"/><circle cx="171.6" cy="332.6" r="3.4"/><circle cx="161.8" cy="332.4" r="3.4"/><circle cx="138.2" cy="291.9" r="3.4"/><circle cx="118.6" cy="325.5" r="3.4"/><circle cx="138.0" cy="339.7" r="3.4"/><circle cx="133.2" cy="275.0" r="3.4"/><circle cx="143.0" cy="327.6" r="3.4"/><circle cx="186.4" cy="335.0" r="3.4"/><circle cx="143.1" cy="293.8" r="3.4"/><circle cx="215.2" cy="295.9" r="3.4"/><circle cx="191.2" cy="289.6" r="3.4"/><circle cx="123.9" cy="240.9" r="3.4"/><circle cx="177.0" cy="305.8" r="3.4"/><circle cx="220.2" cy="303.7" r="3.4"/><circle cx="176.9" cy="315.2" r="3.4"/><circle cx="128.9" cy="305.8" r="3.4"/><circle cx="172.1" cy="275.1" r="3.4"/><circle cx="124.2" cy="251.1" r="3.4"/><circle cx="172.0" cy="293.7" r="3.4"/><circle cx="171.8" cy="270.3" r="3.4"/><circle cx="123.4" cy="255.3" r="3.4"/><circle cx="152.7" cy="255.9" r="3.4"/><circle cx="196.0" cy="267.0" r="3.4"/><circle cx="119.3" cy="238.3" r="3.4"/><circle cx="215.2" cy="315.4" r="3.4"/><circle cx="191.3" cy="318.4" r="3.4"/><circle cx="137.7" cy="267.9" r="3.4"/><circle cx="133.5" cy="289.1" r="3.4"/><circle cx="191.1" cy="322.4" r="3.4"/><circle cx="171.5" cy="312.9" r="3.4"/><circle cx="157.6" cy="310.6" r="3.4"/><circle cx="147.7" cy="281.8" r="3.4"/><circle cx="172.0" cy="256.0" r="3.4"/><circle cx="172.0" cy="259.5" r="3.4"/><circle cx="172.0" cy="263.0" r="3.4"/><circle cx="172.0" cy="266.5" r="3.4"/><circle cx="172.0" cy="270.0" r="3.4"/><circle cx="283.1" cy="333.7" r="3.4"/><circle cx="353.9" cy="324.7" r="3.4"/><circle cx="283.3" cy="315.5" r="3.4"/><circle cx="297.3" cy="324.6" r="3.4"/><circle cx="283.4" cy="338.6" r="3.4"/><circle cx="306.8" cy="315.3" r="3.4"/><circle cx="311.7" cy="324.7" r="3.4"/><circle cx="339.7" cy="320.4" r="3.4"/><circle cx="306.6" cy="334.2" r="3.4"/><circle cx="292.5" cy="334.0" r="3.4"/><circle cx="349.2" cy="333.9" r="3.4"/><circle cx="311.3" cy="333.7" r="3.4"/><circle cx="311.6" cy="329.5" r="3.4"/><circle cx="349.0" cy="338.4" r="3.4"/><circle cx="288.2" cy="315.3" r="3.4"/><circle cx="316.4" cy="334.0" r="3.4"/><circle cx="344.4" cy="315.6" r="3.4"/><circle cx="349.4" cy="320.0" r="3.4"/><circle cx="292.9" cy="319.8" r="3.4"/><circle cx="344.6" cy="334.1" r="3.4"/><circle cx="320.9" cy="315.4" r="3.4"/><circle cx="292.9" cy="338.7" r="3.4"/><circle cx="353.8" cy="320.2" r="3.4"/><circle cx="358.8" cy="315.4" r="3.4"/><circle cx="330.6" cy="315.3" r="3.4"/><circle cx="311.4" cy="320.4" r="3.4"/><circle cx="358.7" cy="334.0" r="3.4"/><circle cx="306.6" cy="338.5" r="3.4"/><circle cx="339.7" cy="338.7" r="3.4"/><circle cx="302.0" cy="324.8" r="3.4"/><circle cx="283.1" cy="320.0" r="3.4"/><circle cx="320.8" cy="338.3" r="3.4"/><circle cx="340.0" cy="324.8" r="3.4"/><circle cx="302.1" cy="320.2" r="3.4"/><circle cx="321.1" cy="320.0" r="3.4"/><circle cx="339.9" cy="329.3" r="3.4"/><circle cx="353.9" cy="329.2" r="3.4"/><circle cx="353.6" cy="334.0" r="3.4"/><circle cx="340.0" cy="315.2" r="3.4"/><circle cx="297.2" cy="315.8" r="3.4"/><circle cx="316.5" cy="338.6" r="3.4"/><circle cx="311.7" cy="315.7" r="3.4"/><circle cx="301.9" cy="329.0" r="3.4"/><circle cx="297.5" cy="319.9" r="3.4"/><circle cx="302.0" cy="338.3" r="3.4"/><circle cx="344.6" cy="338.5" r="3.4"/><circle cx="292.6" cy="324.6" r="3.4"/><circle cx="330.4" cy="324.4" r="3.4"/><circle cx="354.1" cy="338.5" r="3.4"/><circle cx="340.0" cy="333.9" r="3.4"/><circle cx="353.7" cy="315.5" r="3.4"/><circle cx="321.0" cy="329.0" r="3.4"/><circle cx="292.6" cy="315.6" r="3.4"/><circle cx="302.1" cy="315.8" r="3.4"/><circle cx="287.8" cy="338.3" r="3.4"/><circle cx="292.6" cy="329.3" r="3.4"/><circle cx="358.7" cy="319.9" r="3.4"/><circle cx="297.7" cy="338.3" r="3.4"/><circle cx="330.1" cy="329.6" r="3.4"/><circle cx="288.1" cy="324.4" r="3.4"/><circle cx="358.8" cy="338.3" r="3.4"/><circle cx="288.2" cy="333.8" r="3.4"/><circle cx="349.0" cy="324.9" r="3.4"/><circle cx="311.8" cy="338.2" r="3.4"/><circle cx="297.3" cy="333.7" r="3.4"/><circle cx="302.1" cy="334.0" r="3.4"/><circle cx="330.3" cy="320.0" r="3.4"/><circle cx="297.6" cy="329.4" r="3.4"/><circle cx="349.4" cy="329.6" r="3.4"/><circle cx="334.8" cy="338.4" r="3.4"/><circle cx="358.5" cy="324.5" r="3.4"/><circle cx="288.0" cy="320.2" r="3.4"/><circle cx="330.1" cy="338.5" r="3.4"/><circle cx="325.5" cy="315.6" r="3.4"/><circle cx="321.2" cy="325.0" r="3.4"/><circle cx="316.2" cy="315.8" r="3.4"/><circle cx="320.8" cy="333.9" r="3.4"/><circle cx="330.3" cy="334.1" r="3.4"/><circle cx="325.9" cy="338.4" r="3.4"/><circle cx="335.3" cy="315.4" r="3.4"/><circle cx="348.9" cy="315.5" r="3.4"/><circle cx="288.0" cy="329.3" r="3.4"/><circle cx="373.1" cy="309.1" r="3.4"/><circle cx="377.2" cy="306.5" r="3.4"/><circle cx="405.2" cy="320.9" r="3.4"/><circle cx="358.8" cy="329.6" r="3.4"/><circle cx="367.6" cy="316.1" r="3.4"/><circle cx="391.6" cy="332.6" r="3.4"/><circle cx="283.1" cy="324.5" r="3.4"/><circle cx="382.1" cy="299.0" r="3.4"/><circle cx="373.2" cy="336.7" r="3.4"/><circle cx="283.2" cy="329.2" r="3.4"/><circle cx="358.9" cy="305.9" r="3.4"/><circle cx="381.2" cy="322.4" r="3.4"/><circle cx="392.0" cy="313.6" r="3.4"/><circle cx="376.7" cy="297.7" r="3.4"/><circle cx="363.1" cy="309.5" r="3.4"/><circle cx="372.0" cy="303.7" r="3.4"/><circle cx="376.5" cy="340.0" r="3.4"/><circle cx="409.9" cy="322.8" r="3.4"/><circle cx="369.5" cy="292.7" r="3.4"/><circle cx="383.6" cy="261.4" r="3.4"/><circle cx="391.6" cy="309.5" r="3.4"/><circle cx="365.5" cy="270.4" r="3.4"/><circle cx="365.0" cy="289.3" r="3.4"/><circle cx="368.0" cy="339.6" r="3.4"/><circle cx="379.8" cy="264.5" r="3.4"/><circle cx="381.9" cy="328.4" r="3.4"/><circle cx="396.5" cy="297.2" r="3.4"/><circle cx="384.9" cy="266.6" r="3.4"/><circle cx="364.9" cy="284.8" r="3.4"/><circle cx="385.9" cy="330.7" r="3.4"/><circle cx="415.5" cy="338.8" r="3.4"/><circle cx="374.2" cy="261.9" r="3.4"/><circle cx="365.3" cy="276.4" r="3.4"/><circle cx="401.1" cy="332.8" r="3.4"/><circle cx="357.8" cy="311.5" r="3.4"/><circle cx="291.0" cy="269.0" r="3.4"/><circle cx="377.2" cy="320.5" r="3.4"/><circle cx="367.2" cy="334.8" r="3.4"/><circle cx="374.6" cy="280.6" r="3.4"/><circle cx="378.9" cy="287.0" r="3.4"/><circle cx="285.5" cy="291.0" r="3.4"/><circle cx="298.0" cy="249.4" r="3.4"/><circle cx="393.7" cy="289.5" r="3.4"/><circle cx="391.6" cy="318.1" r="3.4"/><circle cx="374.5" cy="271.7" r="3.4"/><circle cx="397.6" cy="283.2" r="3.4"/><circle cx="406.1" cy="339.0" r="3.4"/><circle cx="370.7" cy="282.6" r="3.4"/><circle cx="331.5" cy="143.0" r="3.4"/><circle cx="368.0" cy="297.0" r="3.4"/><circle cx="382.5" cy="313.2" r="3.4"/><circle cx="332.0" cy="146.5" r="3.4"/><circle cx="410.1" cy="327.1" r="3.4"/><circle cx="375.4" cy="285.3" r="3.4"/><circle cx="332.5" cy="150.0" r="3.4"/><circle cx="409.6" cy="337.3" r="3.4"/><circle cx="391.6" cy="328.2" r="3.4"/><circle cx="295.3" cy="269.0" r="3.4"/><circle cx="306.0" cy="233.5" r="3.4"/><circle cx="365.7" cy="267.0" r="3.4"/><circle cx="362.4" cy="327.2" r="3.4"/><circle cx="401.4" cy="314.1" r="3.4"/><circle cx="302.2" cy="249.4" r="3.4"/><circle cx="289.8" cy="291.0" r="3.4"/><circle cx="388.9" cy="272.8" r="3.4"/><circle cx="363.0" cy="337.5" r="3.4"/><circle cx="383.9" cy="276.5" r="3.4"/><circle cx="365.2" cy="261.4" r="3.4"/><circle cx="318.3" cy="206.0" r="3.4"/><circle cx="390.5" cy="323.2" r="3.4"/><circle cx="318.3" cy="201.8" r="3.4"/><circle cx="318.3" cy="197.5" r="3.4"/><circle cx="391.5" cy="298.8" r="3.4"/><circle cx="389.1" cy="259.4" r="3.4"/><circle cx="400.6" cy="336.9" r="3.4"/><circle cx="388.9" cy="263.2" r="3.4"/><circle cx="401.0" cy="322.7" r="3.4"/><circle cx="367.9" cy="307.3" r="3.4"/><circle cx="377.5" cy="334.4" r="3.4"/><circle cx="348.0" cy="106.0" r="3.4"/><circle cx="357.9" cy="339.7" r="3.4"/><circle cx="405.2" cy="315.8" r="3.4"/><circle cx="388.9" cy="292.4" r="3.4"/><circle cx="391.8" cy="304.6" r="3.4"/><circle cx="299.7" cy="269.0" r="3.4"/><circle cx="310.3" cy="233.5" r="3.4"/><circle cx="393.7" cy="265.8" r="3.4"/><circle cx="306.3" cy="249.4" r="3.4"/><circle cx="350.5" cy="102.5" r="3.4"/><circle cx="374.0" cy="294.2" r="3.4"/><circle cx="294.2" cy="291.0" r="3.4"/><circle cx="372.2" cy="313.8" r="3.4"/><circle cx="315.0" cy="222.9" r="3.4"/><circle cx="359.0" cy="335.5" r="3.4"/><circle cx="381.6" cy="309.6" r="3.4"/><circle cx="374.5" cy="290.4" r="3.4"/><circle cx="386.1" cy="315.8" r="3.4"/><circle cx="401.3" cy="300.1" r="3.4"/><circle cx="405.1" cy="324.8" r="3.4"/><circle cx="381.4" cy="332.7" r="3.4"/><circle cx="398.7" cy="291.6" r="3.4"/><circle cx="358.5" cy="330.6" r="3.4"/><circle cx="304.0" cy="269.0" r="3.4"/><circle cx="314.7" cy="233.5" r="3.4"/><circle cx="358.9" cy="325.2" r="3.4"/><circle cx="310.5" cy="249.4" r="3.4"/><circle cx="386.2" cy="297.9" r="3.4"/><circle cx="383.5" cy="284.6" r="3.4"/><circle cx="298.5" cy="291.0" r="3.4"/><circle cx="364.9" cy="294.0" r="3.4"/><circle cx="396.1" cy="329.6" r="3.4"/><circle cx="319.2" cy="222.9" r="3.4"/><circle cx="400.0" cy="309.4" r="3.4"/><circle cx="387.2" cy="306.0" r="3.4"/><circle cx="370.6" cy="287.8" r="3.4"/><circle cx="383.5" cy="289.0" r="3.4"/><circle cx="395.5" cy="320.3" r="3.4"/><circle cx="371.7" cy="332.5" r="3.4"/><circle cx="385.9" cy="339.9" r="3.4"/><circle cx="396.0" cy="306.2" r="3.4"/><circle cx="382.1" cy="318.2" r="3.4"/><circle cx="373.1" cy="299.2" r="3.4"/><circle cx="309.3" cy="265.5" r="3.4"/><circle cx="395.8" cy="316.3" r="3.4"/><circle cx="319.0" cy="233.5" r="3.4"/><circle cx="325.0" cy="216.5" r="3.4"/><circle cx="414.9" cy="335.2" r="3.4"/><circle cx="323.3" cy="222.9" r="3.4"/><circle cx="309.3" cy="271.5" r="3.4"/><circle cx="368.5" cy="78.5" r="3.4"/><circle cx="377.6" cy="310.8" r="3.4"/><circle cx="389.2" cy="267.9" r="3.4"/><circle cx="369.5" cy="273.1" r="3.4"/><circle cx="395.7" cy="325.2" r="3.4"/><circle cx="376.6" cy="315.5" r="3.4"/><circle cx="367.5" cy="330.2" r="3.4"/><circle cx="369.5" cy="258.6" r="3.4"/><circle cx="409.3" cy="332.2" r="3.4"/><circle cx="371.0" cy="75.5" r="3.4"/><circle cx="329.0" cy="216.0" r="3.4"/><circle cx="404.9" cy="305.8" r="3.4"/><circle cx="327.5" cy="222.9" r="3.4"/><circle cx="405.8" cy="311.0" r="3.4"/><circle cx="367.3" cy="310.7" r="3.4"/><circle cx="363.2" cy="314.4" r="3.4"/><circle cx="401.1" cy="328.0" r="3.4"/><circle cx="389.3" cy="287.6" r="3.4"/><circle cx="388.7" cy="278.8" r="3.4"/><circle cx="386.0" cy="335.1" r="3.4"/><circle cx="393.2" cy="262.3" r="3.4"/><circle cx="398.9" cy="287.6" r="3.4"/><circle cx="399.9" cy="319.1" r="3.4"/><circle cx="387.3" cy="320.4" r="3.4"/><circle cx="333.0" cy="215.5" r="3.4"/><circle cx="370.2" cy="268.9" r="3.4"/><circle cx="370.1" cy="278.3" r="3.4"/><circle cx="357.7" cy="321.1" r="3.4"/><circle cx="371.8" cy="328.3" r="3.4"/><circle cx="390.7" cy="337.1" r="3.4"/><circle cx="386.4" cy="324.9" r="3.4"/><circle cx="380.0" cy="259.7" r="3.4"/><circle cx="372.2" cy="295.6" r="3.4"/><circle cx="395.8" cy="301.6" r="3.4"/><circle cx="400.4" cy="303.9" r="3.4"/><circle cx="373.1" cy="323.8" r="3.4"/><circle cx="377.3" cy="325.6" r="3.4"/><circle cx="337.0" cy="214.8" r="3.4"/><circle cx="357.6" cy="316.8" r="3.4"/><circle cx="363.7" cy="304.7" r="3.4"/><circle cx="376.4" cy="301.8" r="3.4"/><circle cx="381.8" cy="337.0" r="3.4"/><circle cx="406.0" cy="330.0" r="3.4"/><circle cx="395.6" cy="311.7" r="3.4"/><circle cx="362.5" cy="323.7" r="3.4"/><circle cx="341.0" cy="214.0" r="3.4"/><circle cx="386.1" cy="302.2" r="3.4"/><circle cx="363.7" cy="331.9" r="3.4"/><circle cx="381.3" cy="303.5" r="3.4"/><circle cx="406.0" cy="335.4" r="3.4"/><circle cx="391.0" cy="65.0" r="3.4"/><circle cx="391.2" cy="62.2" r="3.4"/><circle cx="391.5" cy="59.5" r="3.4"/><circle cx="368.5" cy="302.1" r="3.4"/><circle cx="345.0" cy="215.2" r="3.4"/><circle cx="395.7" cy="340.2" r="3.4"/><circle cx="362.7" cy="319.0" r="3.4"/><circle cx="349.0" cy="216.5" r="3.4"/><circle cx="396.1" cy="335.6" r="3.4"/><circle cx="367.2" cy="326.0" r="3.4"/><circle cx="362.6" cy="299.5" r="3.4"/><circle cx="368.5" cy="320.1" r="3.4"/><circle cx="371.7" cy="317.6" r="3.4"/><circle cx="386.0" cy="310.6" r="3.4"/><circle cx="352.0" cy="218.5" r="3.4"/><circle cx="377.4" cy="330.8" r="3.4"/><circle cx="355.0" cy="220.5" r="3.4"/><circle cx="358.2" cy="222.5" r="3.4"/><circle cx="361.5" cy="224.5" r="3.4"/><circle cx="414.7" cy="62.5" r="3.4"/><circle cx="414.7" cy="59.2" r="3.4"/><circle cx="414.7" cy="56.0" r="3.4"/><circle cx="363.8" cy="226.2" r="3.4"/><circle cx="366.0" cy="228.0" r="3.4"/><circle cx="364.6" cy="234.2" r="3.4"/><circle cx="363.8" cy="246.0" r="3.4"/><circle cx="363.5" cy="251.0" r="3.4"/><circle cx="366.8" cy="240.9" r="3.4"/><circle cx="369.0" cy="234.2" r="3.4"/><circle cx="366.8" cy="253.4" r="3.4"/><circle cx="372.7" cy="236.4" r="3.4"/><circle cx="369.5" cy="250.0" r="3.4"/><circle cx="374.2" cy="240.1" r="3.4"/><circle cx="372.0" cy="247.5" r="3.4"/><circle cx="376.8" cy="236.4" r="3.4"/><circle cx="377.1" cy="240.9" r="3.4"/><circle cx="375.6" cy="248.2" r="3.4"/><circle cx="373.4" cy="256.3" r="3.4"/><circle cx="378.6" cy="245.3" r="3.4"/><circle cx="377.1" cy="254.1" r="3.4"/><circle cx="386.0" cy="228.3" r="3.4"/><circle cx="385.1" cy="232.0" r="3.4"/><circle cx="384.2" cy="235.7" r="3.4"/><circle cx="437.1" cy="69.5" r="3.4"/><circle cx="437.1" cy="66.0" r="3.4"/><circle cx="437.1" cy="62.5" r="3.4"/><circle cx="380.8" cy="253.4" r="3.4"/><circle cx="381.5" cy="251.2" r="3.4"/><circle cx="383.8" cy="248.2" r="3.4"/><circle cx="388.2" cy="249.7" r="3.4"/><circle cx="386.7" cy="255.6" r="3.4"/><circle cx="390.4" cy="246.0" r="3.4"/><circle cx="394.0" cy="240.1" r="3.4"/><circle cx="393.3" cy="243.8" r="3.4"/><circle cx="394.1" cy="268.9" r="3.4"/><circle cx="396.0" cy="265.2" r="3.4"/><circle cx="397.8" cy="261.5" r="3.4"/><circle cx="399.6" cy="257.8" r="3.4"/><circle cx="387.7" cy="299.4" r="3.4"/><circle cx="401.5" cy="254.1" r="3.4"/><circle cx="391.0" cy="296.8" r="3.4"/><circle cx="458.3" cy="84.0" r="3.4"/><circle cx="458.6" cy="80.8" r="3.4"/><circle cx="458.8" cy="77.5" r="3.4"/><circle cx="394.2" cy="294.2" r="3.4"/><circle cx="397.5" cy="291.6" r="3.4"/><circle cx="400.8" cy="289.1" r="3.4"/><circle cx="404.0" cy="286.5" r="3.4"/><circle cx="407.3" cy="283.9" r="3.4"/><circle cx="478.5" cy="104.0" r="3.4"/><circle cx="479.0" cy="100.8" r="3.4"/><circle cx="479.5" cy="97.5" r="3.4"/><circle cx="496.5" cy="130.0" r="3.4"/><circle cx="497.1" cy="127.0" r="3.4"/><circle cx="497.8" cy="124.0" r="3.4"/><circle cx="436.8" cy="338.5" r="3.4"/><circle cx="513.5" cy="159.5" r="3.4"/><circle cx="458.6" cy="338.5" r="3.4"/><circle cx="514.1" cy="157.0" r="3.4"/><circle cx="514.8" cy="154.5" r="3.4"/><circle cx="479.2" cy="335.5" r="3.4"/><circle cx="479.2" cy="338.5" r="3.4"/><circle cx="525.8" cy="192.5" r="3.4"/><circle cx="527.4" cy="189.8" r="3.4"/><circle cx="529.0" cy="187.0" r="3.4"/><circle cx="497.6" cy="335.5" r="3.4"/><circle cx="497.6" cy="338.5" r="3.4"/><circle cx="536.5" cy="227.5" r="3.4"/><circle cx="538.0" cy="225.0" r="3.4"/><circle cx="539.5" cy="222.5" r="3.4"/><circle cx="513.9" cy="332.5" r="3.4"/><circle cx="513.9" cy="335.5" r="3.4"/><circle cx="513.9" cy="338.5" r="3.4"/><circle cx="544.5" cy="264.5" r="3.4"/><circle cx="546.2" cy="262.2" r="3.4"/><circle cx="548.0" cy="260.0" r="3.4"/><circle cx="527.3" cy="332.5" r="3.4"/><circle cx="527.3" cy="335.5" r="3.4"/><circle cx="527.3" cy="338.5" r="3.4"/><circle cx="538.4" cy="332.5" r="3.4"/><circle cx="548.5" cy="302.0" r="3.4"/><circle cx="538.4" cy="335.5" r="3.4"/><circle cx="538.4" cy="338.5" r="3.4"/><circle cx="550.8" cy="300.5" r="3.4"/><circle cx="553.0" cy="299.0" r="3.4"/><circle cx="546.5" cy="332.5" r="3.4"/><circle cx="546.5" cy="335.5" r="3.4"/><circle cx="546.5" cy="338.5" r="3.4"/><circle cx="553.2" cy="329.5" r="3.4"/><circle cx="553.2" cy="332.5" r="3.4"/><circle cx="553.2" cy="335.5" r="3.4"/><circle cx="553.2" cy="338.5" r="3.4"/></g></g><g clip-path="url(#c1)"><g class="r"><circle cx="664.6" cy="239.3" r="3.4"/><circle cx="720.9" cy="322.8" r="3.4"/><circle cx="697.7" cy="175.7" r="3.4"/><circle cx="724.5" cy="212.5" r="3.4"/><circle cx="672.9" cy="280.9" r="3.4"/><circle cx="710.4" cy="248.9" r="3.4"/><circle cx="679.0" cy="199.1" r="3.4"/><circle cx="663.9" cy="225.5" r="3.4"/><circle cx="663.2" cy="247.8" r="3.4"/><circle cx="696.8" cy="255.5" r="3.4"/><circle cx="668.0" cy="274.6" r="3.4"/><circle cx="687.8" cy="213.2" r="3.4"/><circle cx="692.4" cy="224.0" r="3.4"/><circle cx="692.3" cy="313.5" r="3.4"/><circle cx="663.5" cy="291.2" r="3.4"/><circle cx="678.4" cy="142.1" r="3.4"/><circle cx="734.9" cy="236.0" r="3.4"/><circle cx="668.1" cy="315.9" r="3.4"/><circle cx="687.3" cy="119.7" r="3.4"/><circle cx="678.2" cy="123.9" r="3.4"/><circle cx="702.3" cy="229.9" r="3.4"/><circle cx="692.3" cy="272.3" r="3.4"/><circle cx="701.0" cy="242.7" r="3.4"/><circle cx="693.1" cy="144.3" r="3.4"/><circle cx="664.3" cy="192.5" r="3.4"/><circle cx="672.7" cy="158.6" r="3.4"/><circle cx="678.8" cy="297.4" r="3.4"/><circle cx="697.4" cy="331.4" r="3.4"/><circle cx="711.0" cy="281.9" r="3.4"/><circle cx="688.4" cy="217.4" r="3.4"/><circle cx="672.9" cy="299.2" r="3.4"/><circle cx="678.2" cy="184.7" r="3.4"/><circle cx="678.8" cy="264.3" r="3.4"/><circle cx="659.2" cy="130.6" r="3.4"/><circle cx="697.6" cy="264.2" r="3.4"/><circle cx="683.7" cy="317.9" r="3.4"/><circle cx="663.6" cy="323.7" r="3.4"/><circle cx="688.3" cy="237.3" r="3.4"/><circle cx="688.1" cy="251.3" r="3.4"/><circle cx="664.3" cy="181.6" r="3.4"/><circle cx="673.6" cy="266.2" r="3.4"/><circle cx="735.3" cy="301.6" r="3.4"/><circle cx="666.3" cy="134.4" r="3.4"/><circle cx="677.4" cy="302.6" r="3.4"/><circle cx="691.9" cy="295.9" r="3.4"/><circle cx="674.0" cy="128.0" r="3.4"/><circle cx="668.3" cy="165.6" r="3.4"/><circle cx="668.0" cy="326.6" r="3.4"/><circle cx="668.2" cy="184.5" r="3.4"/><circle cx="671.0" cy="145.0" r="3.4"/><circle cx="660.0" cy="132.8" r="3.4"/><circle cx="677.7" cy="146.4" r="3.4"/><circle cx="677.5" cy="283.3" r="3.4"/><circle cx="697.2" cy="217.6" r="3.4"/><circle cx="683.0" cy="285.3" r="3.4"/><circle cx="664.6" cy="230.3" r="3.4"/><circle cx="682.9" cy="309.8" r="3.4"/><circle cx="677.6" cy="174.6" r="3.4"/><circle cx="668.0" cy="170.0" r="3.4"/><circle cx="664.0" cy="185.0" r="3.4"/><circle cx="673.0" cy="177.8" r="3.4"/><circle cx="682.9" cy="172.2" r="3.4"/><circle cx="673.8" cy="202.1" r="3.4"/><circle cx="688.0" cy="128.0" r="3.4"/><circle cx="678.7" cy="311.1" r="3.4"/><circle cx="667.0" cy="200.0" r="3.4"/><circle cx="680.0" cy="158.0" r="3.4"/><circle cx="662.0" cy="218.0" r="3.4"/><circle cx="682.0" cy="263.0" r="3.4"/><circle cx="658.7" cy="179.5" r="3.4"/><circle cx="696.5" cy="288.6" r="3.4"/><circle cx="697.0" cy="307.8" r="3.4"/><circle cx="672.8" cy="313.4" r="3.4"/><circle cx="667.9" cy="171.4" r="3.4"/><circle cx="668.9" cy="161.3" r="3.4"/><circle cx="696.1" cy="123.4" r="3.4"/><circle cx="701.8" cy="253.5" r="3.4"/><circle cx="692.6" cy="327.8" r="3.4"/><circle cx="668.0" cy="240.0" r="3.4"/><circle cx="663.0" cy="283.0" r="3.4"/><circle cx="668.0" cy="275.0" r="3.4"/><circle cx="661.0" cy="306.0" r="3.4"/><circle cx="670.0" cy="300.0" r="3.4"/><circle cx="670.0" cy="325.0" r="3.4"/></g><g class="b"><circle cx="720.7" cy="276.5" r="3.4"/><circle cx="687.5" cy="269.6" r="3.4"/><circle cx="667.9" cy="320.9" r="3.4"/><circle cx="659.9" cy="218.0" r="3.4"/><circle cx="688.4" cy="246.3" r="3.4"/><circle cx="696.2" cy="283.9" r="3.4"/><circle cx="729.9" cy="201.8" r="3.4"/><circle cx="697.3" cy="222.1" r="3.4"/><circle cx="716.1" cy="227.4" r="3.4"/><circle cx="682.4" cy="257.1" r="3.4"/><circle cx="692.8" cy="153.5" r="3.4"/><circle cx="683.4" cy="243.7" r="3.4"/><circle cx="678.3" cy="330.1" r="3.4"/><circle cx="663.5" cy="294.5" r="3.4"/><circle cx="658.9" cy="255.6" r="3.4"/><circle cx="668.9" cy="288.6" r="3.4"/><circle cx="668.1" cy="142.6" r="3.4"/><circle cx="711.6" cy="295.6" r="3.4"/><circle cx="663.7" cy="155.1" r="3.4"/><circle cx="687.9" cy="255.8" r="3.4"/><circle cx="663.5" cy="318.6" r="3.4"/><circle cx="686.8" cy="260.7" r="3.4"/><circle cx="692.9" cy="117.2" r="3.4"/><circle cx="710.4" cy="210.6" r="3.4"/><circle cx="687.6" cy="151.6" r="3.4"/><circle cx="701.1" cy="261.9" r="3.4"/><circle cx="674.0" cy="328.1" r="3.4"/><circle cx="701.0" cy="220.1" r="3.4"/><circle cx="696.5" cy="157.1" r="3.4"/><circle cx="687.6" cy="307.2" r="3.4"/><circle cx="677.6" cy="138.4" r="3.4"/><circle cx="664.0" cy="243.1" r="3.4"/><circle cx="668.3" cy="175.2" r="3.4"/><circle cx="691.6" cy="285.2" r="3.4"/><circle cx="673.6" cy="290.1" r="3.4"/><circle cx="687.0" cy="193.5" r="3.4"/><circle cx="659.8" cy="152.5" r="3.4"/><circle cx="696.6" cy="226.8" r="3.4"/><circle cx="672.7" cy="262.4" r="3.4"/><circle cx="719.9" cy="196.9" r="3.4"/><circle cx="686.7" cy="320.8" r="3.4"/><circle cx="691.4" cy="323.7" r="3.4"/><circle cx="687.1" cy="226.8" r="3.4"/><circle cx="664.2" cy="285.3" r="3.4"/><circle cx="659.3" cy="278.6" r="3.4"/><circle cx="659.6" cy="162.0" r="3.4"/><circle cx="677.8" cy="315.7" r="3.4"/><circle cx="677.8" cy="241.2" r="3.4"/><circle cx="677.9" cy="218.3" r="3.4"/><circle cx="707.1" cy="330.4" r="3.4"/><circle cx="669.4" cy="204.3" r="3.4"/><circle cx="659.5" cy="121.4" r="3.4"/><circle cx="664.5" cy="163.4" r="3.4"/><circle cx="725.1" cy="311.7" r="3.4"/><circle cx="669.2" cy="222.7" r="3.4"/><circle cx="734.8" cy="218.2" r="3.4"/><circle cx="686.9" cy="137.0" r="3.4"/><circle cx="673.0" cy="191.6" r="3.4"/><circle cx="691.5" cy="267.7" r="3.4"/><circle cx="673.6" cy="216.2" r="3.4"/><circle cx="697.4" cy="269.7" r="3.4"/><circle cx="696.8" cy="293.7" r="3.4"/><circle cx="696.7" cy="240.3" r="3.4"/><circle cx="662.0" cy="140.0" r="3.4"/><circle cx="669.7" cy="116.3" r="3.4"/><circle cx="667.0" cy="126.5" r="3.4"/><circle cx="697.6" cy="151.9" r="3.4"/><circle cx="682.6" cy="229.4" r="3.4"/><circle cx="663.7" cy="267.5" r="3.4"/><circle cx="668.0" cy="236.8" r="3.4"/><circle cx="678.7" cy="151.5" r="3.4"/><circle cx="664.4" cy="187.6" r="3.4"/><circle cx="682.3" cy="304.6" r="3.4"/><circle cx="678.8" cy="326.5" r="3.4"/><circle cx="663.8" cy="262.3" r="3.4"/><circle cx="720.4" cy="257.5" r="3.4"/><circle cx="659.3" cy="259.5" r="3.4"/><circle cx="711.0" cy="201.9" r="3.4"/><circle cx="668.6" cy="331.2" r="3.4"/><circle cx="668.3" cy="241.4" r="3.4"/><circle cx="682.5" cy="290.3" r="3.4"/><circle cx="707.2" cy="288.3" r="3.4"/><circle cx="719.6" cy="164.5" r="3.4"/><circle cx="664.9" cy="220.1" r="3.4"/><circle cx="688.0" cy="189.3" r="3.4"/><circle cx="735.3" cy="222.3" r="3.4"/><circle cx="687.6" cy="203.2" r="3.4"/><circle cx="682.6" cy="314.5" r="3.4"/><circle cx="729.2" cy="205.7" r="3.4"/><circle cx="672.7" cy="197.1" r="3.4"/><circle cx="729.1" cy="328.7" r="3.4"/><circle cx="675.0" cy="152.0" r="3.4"/><circle cx="663.7" cy="173.6" r="3.4"/><circle cx="668.1" cy="152.5" r="3.4"/><circle cx="686.7" cy="114.6" r="3.4"/><circle cx="687.4" cy="155.8" r="3.4"/><circle cx="725.5" cy="284.1" r="3.4"/><circle cx="684.0" cy="132.0" r="3.4"/><circle cx="725.6" cy="330.6" r="3.4"/><circle cx="672.0" cy="175.0" r="3.4"/><circle cx="664.0" cy="206.1" r="3.4"/><circle cx="663.7" cy="139.4" r="3.4"/><circle cx="734.0" cy="231.5" r="3.4"/><circle cx="664.0" cy="208.0" r="3.4"/><circle cx="720.4" cy="271.0" r="3.4"/><circle cx="687.9" cy="175.2" r="3.4"/><circle cx="670.0" cy="190.0" r="3.4"/><circle cx="730.1" cy="305.0" r="3.4"/><circle cx="677.6" cy="203.4" r="3.4"/><circle cx="664.6" cy="215.3" r="3.4"/><circle cx="733.8" cy="292.9" r="3.4"/><circle cx="682.9" cy="248.7" r="3.4"/><circle cx="672.8" cy="164.3" r="3.4"/><circle cx="674.2" cy="167.5" r="3.4"/><circle cx="688.1" cy="221.8" r="3.4"/><circle cx="683.1" cy="135.6" r="3.4"/><circle cx="664.4" cy="300.5" r="3.4"/><circle cx="692.7" cy="205.8" r="3.4"/><circle cx="697.7" cy="320.8" r="3.4"/><circle cx="730.7" cy="224.1" r="3.4"/><circle cx="688.1" cy="133.3" r="3.4"/><circle cx="673.7" cy="285.9" r="3.4"/><circle cx="697.8" cy="312.5" r="3.4"/><circle cx="662.0" cy="248.0" r="3.4"/><circle cx="669.0" cy="225.0" r="3.4"/><circle cx="694.0" cy="150.0" r="3.4"/><circle cx="659.0" cy="268.0" r="3.4"/><circle cx="664.0" cy="270.0" r="3.4"/><circle cx="672.0" cy="268.0" r="3.4"/><circle cx="666.0" cy="296.0" r="3.4"/><circle cx="666.0" cy="312.0" r="3.4"/></g><g class="m"><circle cx="729.9" cy="294.8" r="3.4"/><circle cx="692.4" cy="192.4" r="3.4"/><circle cx="720.8" cy="229.2" r="3.4"/><circle cx="683.0" cy="271.3" r="3.4"/><circle cx="697.8" cy="298.3" r="3.4"/><circle cx="693.0" cy="304.6" r="3.4"/><circle cx="701.3" cy="234.0" r="3.4"/><circle cx="734.4" cy="279.1" r="3.4"/><circle cx="663.4" cy="168.8" r="3.4"/><circle cx="720.2" cy="328.3" r="3.4"/><circle cx="706.6" cy="293.1" r="3.4"/><circle cx="691.9" cy="233.4" r="3.4"/><circle cx="682.7" cy="225.6" r="3.4"/><circle cx="668.6" cy="306.6" r="3.4"/><circle cx="707.1" cy="198.4" r="3.4"/><circle cx="733.8" cy="264.7" r="3.4"/><circle cx="700.9" cy="280.4" r="3.4"/><circle cx="706.3" cy="259.6" r="3.4"/><circle cx="706.4" cy="325.5" r="3.4"/><circle cx="714.9" cy="316.9" r="3.4"/><circle cx="707.2" cy="273.4" r="3.4"/><circle cx="716.6" cy="282.7" r="3.4"/><circle cx="730.5" cy="323.7" r="3.4"/><circle cx="711.9" cy="205.5" r="3.4"/><circle cx="692.3" cy="281.2" r="3.4"/><circle cx="715.5" cy="204.4" r="3.4"/><circle cx="715.6" cy="208.5" r="3.4"/><circle cx="663.5" cy="328.6" r="3.4"/><circle cx="721.2" cy="253.4" r="3.4"/><circle cx="706.7" cy="188.7" r="3.4"/><circle cx="683.3" cy="192.0" r="3.4"/><circle cx="682.0" cy="130.6" r="3.4"/><circle cx="711.2" cy="244.4" r="3.4"/><circle cx="725.5" cy="235.8" r="3.4"/><circle cx="697.8" cy="236.0" r="3.4"/><circle cx="725.2" cy="296.7" r="3.4"/><circle cx="721.2" cy="210.6" r="3.4"/><circle cx="735.4" cy="326.0" r="3.4"/><circle cx="706.2" cy="269.9" r="3.4"/><circle cx="730.5" cy="281.2" r="3.4"/><circle cx="687.4" cy="231.3" r="3.4"/><circle cx="734.9" cy="203.5" r="3.4"/><circle cx="683.4" cy="214.6" r="3.4"/><circle cx="691.9" cy="299.3" r="3.4"/><circle cx="716.3" cy="264.6" r="3.4"/><circle cx="729.6" cy="263.0" r="3.4"/><circle cx="716.5" cy="217.2" r="3.4"/><circle cx="682.0" cy="121.7" r="3.4"/><circle cx="701.1" cy="182.5" r="3.4"/><circle cx="693.0" cy="187.5" r="3.4"/><circle cx="705.7" cy="256.0" r="3.4"/><circle cx="691.4" cy="214.5" r="3.4"/><circle cx="730.6" cy="211.2" r="3.4"/><circle cx="686.9" cy="198.5" r="3.4"/><circle cx="734.6" cy="330.9" r="3.4"/><circle cx="729.0" cy="215.4" r="3.4"/><circle cx="682.4" cy="219.4" r="3.4"/><circle cx="669.3" cy="246.0" r="3.4"/><circle cx="716.3" cy="293.5" r="3.4"/><circle cx="720.9" cy="201.5" r="3.4"/><circle cx="711.3" cy="196.5" r="3.4"/><circle cx="719.7" cy="248.3" r="3.4"/><circle cx="697.1" cy="259.4" r="3.4"/><circle cx="720.9" cy="244.1" r="3.4"/><circle cx="682.3" cy="295.3" r="3.4"/><circle cx="664.1" cy="281.8" r="3.4"/><circle cx="700.9" cy="206.4" r="3.4"/><circle cx="688.0" cy="312.2" r="3.4"/><circle cx="721.3" cy="224.4" r="3.4"/><circle cx="687.3" cy="171.1" r="3.4"/><circle cx="688.3" cy="325.8" r="3.4"/><circle cx="719.9" cy="304.5" r="3.4"/><circle cx="735.3" cy="287.9" r="3.4"/><circle cx="711.0" cy="214.9" r="3.4"/><circle cx="724.7" cy="307.2" r="3.4"/><circle cx="715.2" cy="151.3" r="3.4"/><circle cx="706.5" cy="240.4" r="3.4"/><circle cx="669.2" cy="213.9" r="3.4"/><circle cx="730.3" cy="220.6" r="3.4"/><circle cx="701.4" cy="238.3" r="3.4"/><circle cx="710.6" cy="310.0" r="3.4"/><circle cx="688.0" cy="128.1" r="3.4"/><circle cx="724.3" cy="246.4" r="3.4"/><circle cx="729.2" cy="187.6" r="3.4"/><circle cx="716.4" cy="259.2" r="3.4"/><circle cx="707.0" cy="155.7" r="3.4"/><circle cx="725.6" cy="180.4" r="3.4"/><circle cx="725.9" cy="302.1" r="3.4"/><circle cx="682.2" cy="280.4" r="3.4"/><circle cx="715.6" cy="175.3" r="3.4"/><circle cx="716.0" cy="274.0" r="3.4"/><circle cx="700.9" cy="192.4" r="3.4"/><circle cx="659.9" cy="156.5" r="3.4"/><circle cx="711.1" cy="286.6" r="3.4"/><circle cx="692.6" cy="131.1" r="3.4"/><circle cx="715.5" cy="287.9" r="3.4"/><circle cx="729.4" cy="276.1" r="3.4"/><circle cx="714.9" cy="241.5" r="3.4"/><circle cx="682.6" cy="178.3" r="3.4"/><circle cx="720.2" cy="238.9" r="3.4"/><circle cx="668.3" cy="180.7" r="3.4"/><circle cx="725.4" cy="287.4" r="3.4"/><circle cx="682.3" cy="252.5" r="3.4"/><circle cx="719.6" cy="214.9" r="3.4"/><circle cx="701.5" cy="291.0" r="3.4"/><circle cx="720.5" cy="206.2" r="3.4"/><circle cx="724.9" cy="199.8" r="3.4"/><circle cx="692.8" cy="290.4" r="3.4"/><circle cx="691.4" cy="172.4" r="3.4"/><circle cx="688.2" cy="265.5" r="3.4"/><circle cx="701.7" cy="318.3" r="3.4"/><circle cx="715.9" cy="321.1" r="3.4"/><circle cx="724.3" cy="316.6" r="3.4"/><circle cx="701.6" cy="295.6" r="3.4"/><circle cx="682.3" cy="211.1" r="3.4"/><circle cx="696.7" cy="326.0" r="3.4"/><circle cx="715.1" cy="221.8" r="3.4"/><circle cx="711.6" cy="252.2" r="3.4"/><circle cx="700.9" cy="305.1" r="3.4"/><circle cx="692.4" cy="163.5" r="3.4"/><circle cx="682.4" cy="328.5" r="3.4"/><circle cx="705.6" cy="193.4" r="3.4"/><circle cx="711.1" cy="313.6" r="3.4"/><circle cx="719.8" cy="159.4" r="3.4"/><circle cx="711.5" cy="164.3" r="3.4"/><circle cx="733.8" cy="198.5" r="3.4"/><circle cx="710.8" cy="299.8" r="3.4"/><circle cx="706.1" cy="283.8" r="3.4"/><circle cx="706.9" cy="306.1" r="3.4"/><circle cx="730.6" cy="253.7" r="3.4"/><circle cx="660.9" cy="84.7" r="3.4"/><circle cx="669.3" cy="128.5" r="3.4"/><circle cx="687.7" cy="278.6" r="3.4"/><circle cx="691.9" cy="257.0" r="3.4"/><circle cx="701.9" cy="215.7" r="3.4"/><circle cx="683.3" cy="323.6" r="3.4"/><circle cx="734.7" cy="250.2" r="3.4"/><circle cx="734.6" cy="241.7" r="3.4"/><circle cx="701.2" cy="196.7" r="3.4"/><circle cx="669.1" cy="231.0" r="3.4"/><circle cx="702.2" cy="272.0" r="3.4"/><circle cx="688.4" cy="273.4" r="3.4"/><circle cx="734.7" cy="245.2" r="3.4"/><circle cx="715.6" cy="255.8" r="3.4"/><circle cx="734.6" cy="268.6" r="3.4"/><circle cx="725.2" cy="326.0" r="3.4"/><circle cx="692.8" cy="229.5" r="3.4"/><circle cx="720.0" cy="266.4" r="3.4"/><circle cx="683.4" cy="187.6" r="3.4"/><circle cx="678.2" cy="194.3" r="3.4"/><circle cx="682.9" cy="117.2" r="3.4"/><circle cx="696.9" cy="208.3" r="3.4"/><circle cx="730.1" cy="229.5" r="3.4"/><circle cx="705.5" cy="203.8" r="3.4"/><circle cx="715.0" cy="326.6" r="3.4"/><circle cx="687.7" cy="282.8" r="3.4"/><circle cx="692.8" cy="196.3" r="3.4"/><circle cx="711.2" cy="238.3" r="3.4"/><circle cx="705.7" cy="236.5" r="3.4"/><circle cx="688.0" cy="240.4" r="3.4"/><circle cx="720.4" cy="310.0" r="3.4"/><circle cx="729.0" cy="247.7" r="3.4"/><circle cx="678.6" cy="259.4" r="3.4"/><circle cx="721.1" cy="234.0" r="3.4"/><circle cx="692.8" cy="201.6" r="3.4"/><circle cx="705.9" cy="279.5" r="3.4"/><circle cx="710.3" cy="230.1" r="3.4"/><circle cx="706.0" cy="311.4" r="3.4"/><circle cx="716.0" cy="146.4" r="3.4"/><circle cx="725.3" cy="269.8" r="3.4"/><circle cx="715.8" cy="269.4" r="3.4"/><circle cx="673.8" cy="154.4" r="3.4"/><circle cx="729.9" cy="291.2" r="3.4"/><circle cx="715.3" cy="193.7" r="3.4"/><circle cx="711.0" cy="319.0" r="3.4"/><circle cx="669.4" cy="93.5" r="3.4"/><circle cx="716.2" cy="199.6" r="3.4"/><circle cx="676.2" cy="71.1" r="3.4"/><circle cx="719.7" cy="219.5" r="3.4"/><circle cx="658.9" cy="208.9" r="3.4"/><circle cx="733.9" cy="274.7" r="3.4"/><circle cx="725.5" cy="226.5" r="3.4"/><circle cx="701.9" cy="172.3" r="3.4"/><circle cx="705.8" cy="321.0" r="3.4"/><circle cx="697.2" cy="128.1" r="3.4"/><circle cx="716.6" cy="278.5" r="3.4"/><circle cx="710.3" cy="225.1" r="3.4"/><circle cx="720.6" cy="262.4" r="3.4"/><circle cx="701.4" cy="155.1" r="3.4"/><circle cx="696.8" cy="162.1" r="3.4"/><circle cx="711.2" cy="168.8" r="3.4"/><circle cx="725.9" cy="241.0" r="3.4"/><circle cx="711.2" cy="261.5" r="3.4"/><circle cx="705.6" cy="137.1" r="3.4"/><circle cx="716.3" cy="298.1" r="3.4"/><circle cx="659.8" cy="165.5" r="3.4"/><circle cx="711.1" cy="187.5" r="3.4"/><circle cx="715.3" cy="161.9" r="3.4"/><circle cx="715.6" cy="232.2" r="3.4"/><circle cx="691.5" cy="140.2" r="3.4"/><circle cx="724.9" cy="217.0" r="3.4"/><circle cx="702.3" cy="286.3" r="3.4"/><circle cx="711.4" cy="191.2" r="3.4"/><circle cx="687.1" cy="330.0" r="3.4"/><circle cx="734.7" cy="316.9" r="3.4"/><circle cx="725.3" cy="175.2" r="3.4"/><circle cx="677.9" cy="189.4" r="3.4"/><circle cx="711.5" cy="271.0" r="3.4"/><circle cx="697.6" cy="245.3" r="3.4"/><circle cx="669.6" cy="256.1" r="3.4"/><circle cx="706.5" cy="147.4" r="3.4"/><circle cx="725.7" cy="203.3" r="3.4"/><circle cx="705.7" cy="160.8" r="3.4"/><circle cx="696.2" cy="179.8" r="3.4"/><circle cx="705.7" cy="179.4" r="3.4"/><circle cx="701.7" cy="257.6" r="3.4"/><circle cx="677.6" cy="278.5" r="3.4"/><circle cx="678.1" cy="232.6" r="3.4"/><circle cx="734.8" cy="306.6" r="3.4"/><circle cx="710.4" cy="258.0" r="3.4"/><circle cx="706.8" cy="142.5" r="3.4"/><circle cx="693.0" cy="318.3" r="3.4"/><circle cx="702.2" cy="247.6" r="3.4"/><circle cx="719.8" cy="319.0" r="3.4"/><circle cx="729.0" cy="313.3" r="3.4"/><circle cx="725.5" cy="260.3" r="3.4"/><circle cx="683.3" cy="300.2" r="3.4"/><circle cx="715.6" cy="236.2" r="3.4"/><circle cx="711.1" cy="144.8" r="3.4"/><circle cx="678.0" cy="128.5" r="3.4"/><circle cx="697.3" cy="132.5" r="3.4"/><circle cx="677.2" cy="110.5" r="3.4"/><circle cx="716.1" cy="213.1" r="3.4"/><circle cx="721.3" cy="286.7" r="3.4"/><circle cx="710.3" cy="304.9" r="3.4"/><circle cx="729.2" cy="243.8" r="3.4"/><circle cx="730.0" cy="286.0" r="3.4"/><circle cx="725.0" cy="193.9" r="3.4"/><circle cx="724.4" cy="223.0" r="3.4"/><circle cx="706.5" cy="184.7" r="3.4"/><circle cx="683.5" cy="277.2" r="3.4"/><circle cx="686.7" cy="317.2" r="3.4"/><circle cx="729.3" cy="191.5" r="3.4"/><circle cx="701.1" cy="131.1" r="3.4"/><circle cx="733.9" cy="255.4" r="3.4"/><circle cx="711.8" cy="220.0" r="3.4"/><circle cx="720.8" cy="299.4" r="3.4"/><circle cx="710.5" cy="328.3" r="3.4"/><circle cx="715.2" cy="245.2" r="3.4"/><circle cx="702.0" cy="276.9" r="3.4"/><circle cx="734.7" cy="311.1" r="3.4"/><circle cx="691.8" cy="309.4" r="3.4"/><circle cx="683.7" cy="164.5" r="3.4"/><circle cx="730.4" cy="257.5" r="3.4"/><circle cx="697.1" cy="317.0" r="3.4"/><circle cx="697.1" cy="198.6" r="3.4"/><circle cx="715.2" cy="307.2" r="3.4"/><circle cx="682.4" cy="144.0" r="3.4"/><circle cx="705.6" cy="222.2" r="3.4"/><circle cx="720.1" cy="191.8" r="3.4"/><circle cx="686.9" cy="297.1" r="3.4"/><circle cx="680.6" cy="118.0" r="3.4"/><circle cx="725.1" cy="207.6" r="3.4"/><circle cx="725.5" cy="321.3" r="3.4"/><circle cx="701.9" cy="187.4" r="3.4"/><circle cx="729.0" cy="319.6" r="3.4"/><circle cx="730.4" cy="300.0" r="3.4"/><circle cx="734.7" cy="320.9" r="3.4"/><circle cx="687.8" cy="288.5" r="3.4"/><circle cx="697.3" cy="212.8" r="3.4"/><circle cx="692.0" cy="243.9" r="3.4"/><circle cx="695.9" cy="71.1" r="3.4"/><circle cx="691.9" cy="277.2" r="3.4"/><circle cx="710.2" cy="234.4" r="3.4"/><circle cx="734.0" cy="259.2" r="3.4"/><circle cx="673.3" cy="296.1" r="3.4"/><circle cx="701.1" cy="135.6" r="3.4"/><circle cx="678.8" cy="118.1" r="3.4"/><circle cx="706.3" cy="212.3" r="3.4"/><circle cx="725.2" cy="185.4" r="3.4"/><circle cx="682.0" cy="124.0" r="3.4"/><circle cx="701.0" cy="328.6" r="3.4"/><circle cx="721.1" cy="281.7" r="3.4"/><circle cx="692.3" cy="238.6" r="3.4"/><circle cx="700.8" cy="314.9" r="3.4"/><circle cx="659.2" cy="171.2" r="3.4"/><circle cx="692.0" cy="252.3" r="3.4"/><circle cx="715.4" cy="155.8" r="3.4"/><circle cx="710.2" cy="323.5" r="3.4"/><circle cx="724.6" cy="250.5" r="3.4"/><circle cx="701.0" cy="322.6" r="3.4"/><circle cx="705.7" cy="232.2" r="3.4"/><circle cx="682.0" cy="234.5" r="3.4"/><circle cx="711.3" cy="267.1" r="3.4"/><circle cx="716.6" cy="190.3" r="3.4"/><circle cx="691.8" cy="168.3" r="3.4"/><circle cx="733.8" cy="227.9" r="3.4"/><circle cx="725.2" cy="264.2" r="3.4"/><circle cx="697.6" cy="89.1" r="3.4"/><circle cx="715.3" cy="331.3" r="3.4"/><circle cx="697.3" cy="249.9" r="3.4"/><circle cx="696.8" cy="190.3" r="3.4"/><circle cx="734.6" cy="296.8" r="3.4"/><circle cx="730.2" cy="308.9" r="3.4"/><circle cx="729.5" cy="238.0" r="3.4"/><circle cx="697.6" cy="96.6" r="3.4"/><circle cx="691.5" cy="262.7" r="3.4"/><circle cx="692.0" cy="247.9" r="3.4"/><circle cx="683.5" cy="239.0" r="3.4"/><circle cx="707.1" cy="217.0" r="3.4"/><circle cx="682.7" cy="206.8" r="3.4"/><circle cx="707.1" cy="264.4" r="3.4"/><circle cx="702.4" cy="224.7" r="3.4"/><circle cx="721.3" cy="294.9" r="3.4"/><circle cx="705.9" cy="152.6" r="3.4"/><circle cx="682.5" cy="266.7" r="3.4"/><circle cx="687.7" cy="207.7" r="3.4"/><circle cx="692.3" cy="211.1" r="3.4"/><circle cx="724.7" cy="279.3" r="3.4"/><circle cx="700.9" cy="209.8" r="3.4"/><circle cx="721.0" cy="291.0" r="3.4"/><circle cx="710.2" cy="182.2" r="3.4"/><circle cx="725.2" cy="292.9" r="3.4"/><circle cx="687.8" cy="293.4" r="3.4"/><circle cx="706.3" cy="250.5" r="3.4"/><circle cx="710.6" cy="289.7" r="3.4"/><circle cx="730.7" cy="272.2" r="3.4"/><circle cx="710.5" cy="276.7" r="3.4"/><circle cx="692.6" cy="220.3" r="3.4"/><circle cx="701.2" cy="266.4" r="3.4"/><circle cx="696.5" cy="302.4" r="3.4"/><circle cx="702.3" cy="201.8" r="3.4"/><circle cx="690.0" cy="138.0" r="3.4"/><circle cx="734.4" cy="283.9" r="3.4"/><circle cx="706.8" cy="245.9" r="3.4"/><circle cx="663.0" cy="232.0" r="3.4"/><circle cx="701.8" cy="310.2" r="3.4"/><circle cx="729.5" cy="233.7" r="3.4"/><circle cx="699.7" cy="112.6" r="3.4"/><circle cx="734.7" cy="213.3" r="3.4"/><circle cx="697.8" cy="279.3" r="3.4"/><circle cx="706.1" cy="315.7" r="3.4"/><circle cx="715.0" cy="312.4" r="3.4"/><circle cx="697.7" cy="274.2" r="3.4"/><circle cx="696.8" cy="142.5" r="3.4"/><circle cx="658.0" cy="258.0" r="3.4"/><circle cx="696.4" cy="203.5" r="3.4"/><circle cx="702.5" cy="299.2" r="3.4"/><circle cx="701.0" cy="127.6" r="3.4"/><circle cx="700.0" cy="140.0" r="3.4"/><circle cx="703.7" cy="131.0" r="3.4"/><circle cx="666.0" cy="262.0" r="3.4"/><circle cx="660.0" cy="290.0" r="3.4"/><circle cx="703.0" cy="148.0" r="3.4"/><circle cx="702.0" cy="160.0" r="3.4"/><circle cx="714.6" cy="124.1" r="3.4"/><circle cx="715.6" cy="133.0" r="3.4"/><circle cx="657.0" cy="330.5" r="3.4"/><circle cx="662.0" cy="320.0" r="3.4"/><circle cx="715.0" cy="150.0" r="3.4"/><circle cx="661.5" cy="330.5" r="3.4"/><circle cx="716.0" cy="160.0" r="3.4"/><circle cx="666.0" cy="330.5" r="3.4"/><circle cx="718.0" cy="168.0" r="3.4"/><circle cx="670.5" cy="330.5" r="3.4"/><circle cx="675.0" cy="330.5" r="3.4"/><circle cx="679.5" cy="330.5" r="3.4"/><circle cx="684.0" cy="330.5" r="3.4"/><circle cx="688.5" cy="330.5" r="3.4"/><circle cx="693.0" cy="330.5" r="3.4"/><circle cx="697.5" cy="330.5" r="3.4"/><circle cx="702.0" cy="330.5" r="3.4"/><circle cx="706.5" cy="330.5" r="3.4"/><circle cx="711.0" cy="330.5" r="3.4"/><circle cx="715.5" cy="330.5" r="3.4"/></g><g class="o"><circle cx="724.2" cy="252.0" r="3.4"/><circle cx="738.5" cy="274.1" r="3.4"/><circle cx="729.4" cy="273.6" r="3.4"/><circle cx="719.8" cy="302.2" r="3.4"/><circle cx="729.0" cy="307.8" r="3.4"/><circle cx="747.8" cy="302.9" r="3.4"/><circle cx="748.6" cy="259.4" r="3.4"/><circle cx="738.9" cy="259.8" r="3.4"/><circle cx="719.4" cy="287.9" r="3.4"/><circle cx="748.1" cy="240.9" r="3.4"/><circle cx="743.1" cy="247.2" r="3.4"/><circle cx="757.7" cy="292.9" r="3.4"/><circle cx="757.4" cy="269.6" r="3.4"/><circle cx="743.6" cy="319.1" r="3.4"/><circle cx="734.3" cy="329.3" r="3.4"/><circle cx="723.6" cy="248.1" r="3.4"/><circle cx="753.6" cy="252.8" r="3.4"/><circle cx="763.0" cy="290.8" r="3.4"/><circle cx="734.0" cy="271.7" r="3.4"/><circle cx="752.6" cy="291.2" r="3.4"/><circle cx="757.7" cy="326.3" r="3.4"/><circle cx="762.4" cy="266.7" r="3.4"/><circle cx="738.4" cy="230.4" r="3.4"/><circle cx="758.1" cy="321.6" r="3.4"/><circle cx="743.1" cy="286.0" r="3.4"/><circle cx="752.5" cy="266.4" r="3.4"/><circle cx="742.9" cy="329.2" r="3.4"/><circle cx="719.0" cy="283.5" r="3.4"/><circle cx="747.6" cy="317.5" r="3.4"/><circle cx="752.6" cy="243.0" r="3.4"/><circle cx="757.6" cy="331.7" r="3.4"/><circle cx="729.6" cy="249.5" r="3.4"/><circle cx="738.3" cy="225.9" r="3.4"/><circle cx="738.8" cy="332.1" r="3.4"/><circle cx="757.3" cy="288.7" r="3.4"/><circle cx="743.2" cy="295.4" r="3.4"/><circle cx="763.0" cy="305.0" r="3.4"/><circle cx="719.8" cy="263.8" r="3.4"/><circle cx="729.1" cy="297.9" r="3.4"/><circle cx="748.2" cy="292.5" r="3.4"/><circle cx="723.7" cy="305.2" r="3.4"/><circle cx="762.5" cy="272.1" r="3.4"/><circle cx="728.5" cy="259.2" r="3.4"/><circle cx="729.0" cy="317.5" r="3.4"/><circle cx="762.6" cy="299.9" r="3.4"/><circle cx="738.9" cy="288.4" r="3.4"/><circle cx="733.6" cy="280.5" r="3.4"/><circle cx="747.8" cy="254.3" r="3.4"/><circle cx="728.5" cy="239.7" r="3.4"/><circle cx="763.0" cy="319.2" r="3.4"/><circle cx="724.0" cy="281.7" r="3.4"/><circle cx="753.1" cy="305.5" r="3.4"/><circle cx="743.1" cy="276.0" r="3.4"/><circle cx="748.3" cy="308.0" r="3.4"/><circle cx="758.2" cy="307.6" r="3.4"/><circle cx="738.4" cy="297.8" r="3.4"/><circle cx="734.3" cy="247.8" r="3.4"/><circle cx="729.0" cy="279.0" r="3.4"/><circle cx="738.3" cy="220.9" r="3.4"/><circle cx="724.1" cy="295.4" r="3.4"/><circle cx="738.4" cy="264.0" r="3.4"/><circle cx="743.9" cy="243.0" r="3.4"/><circle cx="738.9" cy="321.7" r="3.4"/><circle cx="728.8" cy="326.8" r="3.4"/><circle cx="738.8" cy="307.9" r="3.4"/><circle cx="743.9" cy="271.9" r="3.4"/><circle cx="762.1" cy="295.6" r="3.4"/><circle cx="734.4" cy="300.3" r="3.4"/><circle cx="747.7" cy="287.8" r="3.4"/><circle cx="763.1" cy="262.1" r="3.4"/><circle cx="738.7" cy="239.7" r="3.4"/><circle cx="753.3" cy="309.8" r="3.4"/><circle cx="748.0" cy="250.5" r="3.4"/><circle cx="762.5" cy="257.0" r="3.4"/><circle cx="723.9" cy="309.4" r="3.4"/><circle cx="747.8" cy="297.5" r="3.4"/><circle cx="758.1" cy="254.9" r="3.4"/><circle cx="757.9" cy="312.4" r="3.4"/><circle cx="743.2" cy="291.0" r="3.4"/><circle cx="747.7" cy="274.1" r="3.4"/><circle cx="734.2" cy="261.9" r="3.4"/><circle cx="728.8" cy="293.3" r="3.4"/><circle cx="718.8" cy="322.2" r="3.4"/><circle cx="729.4" cy="269.0" r="3.4"/><circle cx="738.9" cy="283.9" r="3.4"/><circle cx="719.8" cy="307.9" r="3.4"/><circle cx="743.7" cy="310.1" r="3.4"/><circle cx="748.7" cy="264.7" r="3.4"/><circle cx="758.3" cy="302.2" r="3.4"/><circle cx="734.1" cy="223.2" r="3.4"/><circle cx="728.7" cy="288.4" r="3.4"/><circle cx="757.6" cy="283.0" r="3.4"/><circle cx="719.3" cy="316.5" r="3.4"/><circle cx="738.3" cy="311.7" r="3.4"/><circle cx="729.2" cy="322.4" r="3.4"/><circle cx="733.8" cy="285.8" r="3.4"/><circle cx="724.1" cy="271.2" r="3.4"/><circle cx="719.5" cy="240.3" r="3.4"/><circle cx="753.4" cy="257.4" r="3.4"/><circle cx="738.4" cy="269.2" r="3.4"/><circle cx="752.6" cy="319.0" r="3.4"/><circle cx="733.7" cy="242.8" r="3.4"/><circle cx="753.5" cy="272.0" r="3.4"/><circle cx="723.6" cy="256.7" r="3.4"/><circle cx="734.2" cy="267.0" r="3.4"/><circle cx="738.9" cy="326.6" r="3.4"/><circle cx="762.2" cy="329.4" r="3.4"/><circle cx="752.8" cy="276.8" r="3.4"/><circle cx="734.3" cy="237.4" r="3.4"/><circle cx="718.9" cy="259.2" r="3.4"/><circle cx="747.9" cy="321.9" r="3.4"/><circle cx="748.6" cy="331.3" r="3.4"/><circle cx="762.9" cy="309.7" r="3.4"/><circle cx="724.7" cy="314.8" r="3.4"/><circle cx="758.4" cy="264.2" r="3.4"/><circle cx="719.0" cy="331.4" r="3.4"/><circle cx="728.8" cy="264.0" r="3.4"/><circle cx="758.0" cy="317.3" r="3.4"/><circle cx="719.0" cy="244.8" r="3.4"/><circle cx="724.2" cy="266.5" r="3.4"/><circle cx="738.3" cy="278.4" r="3.4"/><circle cx="729.6" cy="231.3" r="3.4"/><circle cx="752.4" cy="300.5" r="3.4"/><circle cx="729.3" cy="283.6" r="3.4"/><circle cx="753.5" cy="247.0" r="3.4"/><circle cx="723.7" cy="320.0" r="3.4"/><circle cx="762.2" cy="281.2" r="3.4"/><circle cx="757.9" cy="273.4" r="3.4"/><circle cx="743.4" cy="280.7" r="3.4"/><circle cx="739.0" cy="254.8" r="3.4"/><circle cx="762.9" cy="324.8" r="3.4"/><circle cx="743.2" cy="257.1" r="3.4"/><circle cx="724.5" cy="291.2" r="3.4"/><circle cx="728.5" cy="331.5" r="3.4"/><circle cx="733.7" cy="305.0" r="3.4"/><circle cx="728.6" cy="235.4" r="3.4"/><circle cx="753.5" cy="329.0" r="3.4"/><circle cx="747.8" cy="283.5" r="3.4"/><circle cx="757.3" cy="259.3" r="3.4"/><circle cx="748.6" cy="312.4" r="3.4"/><circle cx="743.4" cy="252.7" r="3.4"/><circle cx="734.4" cy="233.4" r="3.4"/><circle cx="719.3" cy="293.1" r="3.4"/><circle cx="733.7" cy="295.9" r="3.4"/><circle cx="753.2" cy="323.7" r="3.4"/><circle cx="723.9" cy="285.3" r="3.4"/><circle cx="734.1" cy="257.4" r="3.4"/><circle cx="734.3" cy="275.7" r="3.4"/><circle cx="733.9" cy="323.7" r="3.4"/><circle cx="733.9" cy="314.5" r="3.4"/><circle cx="724.7" cy="300.4" r="3.4"/><circle cx="748.1" cy="327.1" r="3.4"/><circle cx="753.4" cy="295.9" r="3.4"/><circle cx="753.2" cy="261.7" r="3.4"/><circle cx="739.2" cy="302.6" r="3.4"/><circle cx="743.6" cy="305.1" r="3.4"/><circle cx="724.4" cy="242.7" r="3.4"/><circle cx="757.7" cy="297.3" r="3.4"/><circle cx="738.7" cy="235.9" r="3.4"/><circle cx="742.9" cy="261.8" r="3.4"/><circle cx="719.2" cy="312.9" r="3.4"/><circle cx="718.8" cy="273.6" r="3.4"/><circle cx="762.4" cy="285.3" r="3.4"/><circle cx="724.5" cy="262.1" r="3.4"/><circle cx="733.7" cy="227.8" r="3.4"/><circle cx="763.1" cy="314.8" r="3.4"/><circle cx="728.9" cy="244.8" r="3.4"/><circle cx="738.7" cy="245.0" r="3.4"/><circle cx="733.7" cy="252.5" r="3.4"/><circle cx="748.7" cy="268.7" r="3.4"/><circle cx="742.9" cy="314.5" r="3.4"/><circle cx="724.5" cy="276.7" r="3.4"/><circle cx="724.4" cy="238.4" r="3.4"/><circle cx="723.7" cy="233.5" r="3.4"/><circle cx="724.6" cy="324.1" r="3.4"/><circle cx="719.1" cy="326.4" r="3.4"/><circle cx="742.9" cy="324.5" r="3.4"/><circle cx="719.0" cy="254.4" r="3.4"/><circle cx="719.1" cy="279.0" r="3.4"/><circle cx="719.4" cy="297.8" r="3.4"/><circle cx="752.6" cy="286.1" r="3.4"/><circle cx="752.7" cy="281.1" r="3.4"/><circle cx="728.8" cy="254.8" r="3.4"/><circle cx="747.7" cy="244.9" r="3.4"/><circle cx="743.3" cy="266.3" r="3.4"/><circle cx="734.0" cy="291.1" r="3.4"/><circle cx="743.2" cy="300.2" r="3.4"/><circle cx="748.7" cy="278.5" r="3.4"/><circle cx="763.0" cy="276.7" r="3.4"/><circle cx="738.7" cy="250.4" r="3.4"/><circle cx="718.9" cy="269.3" r="3.4"/><circle cx="724.8" cy="329.2" r="3.4"/><circle cx="719.7" cy="249.9" r="3.4"/><circle cx="728.9" cy="312.5" r="3.4"/><circle cx="728.9" cy="302.8" r="3.4"/><circle cx="733.6" cy="218.7" r="3.4"/><circle cx="738.5" cy="293.5" r="3.4"/><circle cx="752.5" cy="315.1" r="3.4"/><circle cx="734.4" cy="309.7" r="3.4"/><circle cx="738.9" cy="317.1" r="3.4"/><circle cx="758.1" cy="278.7" r="3.4"/><circle cx="733.6" cy="318.9" r="3.4"/><circle cx="809.4" cy="271.6" r="3.4"/><circle cx="813.2" cy="221.1" r="3.4"/><circle cx="862.2" cy="316.7" r="3.4"/><circle cx="842.6" cy="255.4" r="3.4"/><circle cx="847.6" cy="275.7" r="3.4"/><circle cx="785.6" cy="302.6" r="3.4"/><circle cx="861.4" cy="268.7" r="3.4"/><circle cx="857.6" cy="324.1" r="3.4"/><circle cx="785.5" cy="297.9" r="3.4"/><circle cx="856.6" cy="267.3" r="3.4"/><circle cx="851.5" cy="288.2" r="3.4"/><circle cx="804.3" cy="231.3" r="3.4"/><circle cx="784.4" cy="292.4" r="3.4"/><circle cx="857.2" cy="304.5" r="3.4"/><circle cx="799.8" cy="272.1" r="3.4"/><circle cx="818.7" cy="286.0" r="3.4"/><circle cx="852.4" cy="326.9" r="3.4"/><circle cx="861.4" cy="274.0" r="3.4"/><circle cx="794.6" cy="288.3" r="3.4"/><circle cx="857.4" cy="251.6" r="3.4"/><circle cx="857.5" cy="310.1" r="3.4"/><circle cx="862.2" cy="264.8" r="3.4"/><circle cx="789.3" cy="294.9" r="3.4"/><circle cx="846.9" cy="285.7" r="3.4"/><circle cx="861.8" cy="287.8" r="3.4"/><circle cx="837.7" cy="228.4" r="3.4"/><circle cx="813.6" cy="283.1" r="3.4"/><circle cx="809.5" cy="304.8" r="3.4"/><circle cx="785.2" cy="283.7" r="3.4"/><circle cx="775.9" cy="306.9" r="3.4"/><circle cx="866.1" cy="309.4" r="3.4"/><circle cx="813.1" cy="326.5" r="3.4"/><circle cx="837.5" cy="242.6" r="3.4"/><circle cx="823.3" cy="250.3" r="3.4"/><circle cx="813.5" cy="235.7" r="3.4"/><circle cx="818.3" cy="300.3" r="3.4"/><circle cx="862.0" cy="302.6" r="3.4"/><circle cx="780.4" cy="314.1" r="3.4"/><circle cx="779.6" cy="286.1" r="3.4"/><circle cx="813.4" cy="258.8" r="3.4"/><circle cx="847.4" cy="271.0" r="3.4"/><circle cx="813.7" cy="269.5" r="3.4"/><circle cx="823.7" cy="297.8" r="3.4"/><circle cx="847.4" cy="281.6" r="3.4"/><circle cx="842.8" cy="249.4" r="3.4"/><circle cx="803.8" cy="245.6" r="3.4"/><circle cx="871.8" cy="326.3" r="3.4"/><circle cx="804.8" cy="327.2" r="3.4"/><circle cx="847.7" cy="256.5" r="3.4"/><circle cx="799.0" cy="299.9" r="3.4"/><circle cx="790.4" cy="309.7" r="3.4"/><circle cx="803.6" cy="283.0" r="3.4"/><circle cx="794.7" cy="298.2" r="3.4"/><circle cx="789.7" cy="314.7" r="3.4"/><circle cx="799.3" cy="237.4" r="3.4"/><circle cx="833.1" cy="255.1" r="3.4"/><circle cx="843.2" cy="284.0" r="3.4"/><circle cx="847.8" cy="310.6" r="3.4"/><circle cx="842.0" cy="326.8" r="3.4"/><circle cx="823.1" cy="312.1" r="3.4"/><circle cx="809.6" cy="281.0" r="3.4"/><circle cx="813.4" cy="302.1" r="3.4"/><circle cx="846.8" cy="296.0" r="3.4"/><circle cx="862.1" cy="327.2" r="3.4"/><circle cx="775.2" cy="312.4" r="3.4"/><circle cx="837.3" cy="314.1" r="3.4"/><circle cx="828.0" cy="290.9" r="3.4"/><circle cx="808.4" cy="251.9" r="3.4"/><circle cx="775.9" cy="297.6" r="3.4"/><circle cx="856.4" cy="315.0" r="3.4"/><circle cx="799.8" cy="252.2" r="3.4"/><circle cx="852.6" cy="302.2" r="3.4"/><circle cx="828.1" cy="276.1" r="3.4"/><circle cx="803.5" cy="317.1" r="3.4"/><circle cx="784.7" cy="278.1" r="3.4"/><circle cx="857.1" cy="257.3" r="3.4"/><circle cx="828.7" cy="285.8" r="3.4"/><circle cx="861.4" cy="307.4" r="3.4"/><circle cx="784.8" cy="288.3" r="3.4"/><circle cx="794.8" cy="321.4" r="3.4"/><circle cx="774.8" cy="316.9" r="3.4"/><circle cx="798.9" cy="329.3" r="3.4"/><circle cx="794.0" cy="254.8" r="3.4"/><circle cx="832.8" cy="321.8" r="3.4"/><circle cx="842.1" cy="269.6" r="3.4"/><circle cx="804.1" cy="322.4" r="3.4"/><circle cx="871.4" cy="330.9" r="3.4"/><circle cx="818.8" cy="295.8" r="3.4"/><circle cx="789.8" cy="261.7" r="3.4"/><circle cx="842.6" cy="260.1" r="3.4"/><circle cx="857.0" cy="285.5" r="3.4"/><circle cx="857.4" cy="328.5" r="3.4"/><circle cx="866.2" cy="285.9" r="3.4"/><circle cx="842.5" cy="264.6" r="3.4"/><circle cx="833.7" cy="308.1" r="3.4"/><circle cx="817.9" cy="252.9" r="3.4"/><circle cx="780.5" cy="261.4" r="3.4"/><circle cx="827.6" cy="309.9" r="3.4"/><circle cx="828.8" cy="319.8" r="3.4"/><circle cx="795.0" cy="249.6" r="3.4"/><circle cx="803.6" cy="331.2" r="3.4"/><circle cx="837.2" cy="309.3" r="3.4"/><circle cx="809.6" cy="257.5" r="3.4"/><circle cx="790.0" cy="286.4" r="3.4"/><circle cx="828.3" cy="223.0" r="3.4"/><circle cx="867.2" cy="324.7" r="3.4"/><circle cx="808.7" cy="329.7" r="3.4"/><circle cx="867.0" cy="280.9" r="3.4"/><circle cx="852.9" cy="240.9" r="3.4"/><circle cx="819.3" cy="310.3" r="3.4"/><circle cx="794.3" cy="312.2" r="3.4"/><circle cx="856.3" cy="276.7" r="3.4"/><circle cx="838.5" cy="251.7" r="3.4"/><circle cx="813.8" cy="322.0" r="3.4"/><circle cx="828.0" cy="233.2" r="3.4"/><circle cx="833.6" cy="250.5" r="3.4"/><circle cx="780.8" cy="271.8" r="3.4"/><circle cx="813.7" cy="331.6" r="3.4"/><circle cx="847.3" cy="305.8" r="3.4"/><circle cx="780.0" cy="276.4" r="3.4"/><circle cx="799.3" cy="305.7" r="3.4"/><circle cx="861.1" cy="260.0" r="3.4"/><circle cx="866.7" cy="329.5" r="3.4"/><circle cx="814.0" cy="307.3" r="3.4"/><circle cx="866.7" cy="314.7" r="3.4"/><circle cx="780.6" cy="295.5" r="3.4"/><circle cx="808.6" cy="324.6" r="3.4"/><circle cx="799.0" cy="285.2" r="3.4"/><circle cx="780.2" cy="266.5" r="3.4"/><circle cx="842.6" cy="245.8" r="3.4"/><circle cx="808.7" cy="262.5" r="3.4"/><circle cx="798.9" cy="266.9" r="3.4"/><circle cx="813.9" cy="264.0" r="3.4"/><circle cx="789.8" cy="276.2" r="3.4"/><circle cx="833.5" cy="245.3" r="3.4"/><circle cx="790.3" cy="323.9" r="3.4"/><circle cx="842.7" cy="317.6" r="3.4"/><circle cx="832.7" cy="259.1" r="3.4"/><circle cx="779.7" cy="324.4" r="3.4"/><circle cx="828.5" cy="271.2" r="3.4"/><circle cx="775.9" cy="293.2" r="3.4"/><circle cx="819.0" cy="266.6" r="3.4"/><circle cx="852.1" cy="264.8" r="3.4"/><circle cx="827.6" cy="315.1" r="3.4"/><circle cx="804.3" cy="225.7" r="3.4"/><circle cx="828.9" cy="262.2" r="3.4"/><circle cx="813.5" cy="231.2" r="3.4"/><circle cx="871.0" cy="316.6" r="3.4"/><circle cx="785.0" cy="312.7" r="3.4"/><circle cx="814.5" cy="293.1" r="3.4"/><circle cx="851.7" cy="331.5" r="3.4"/><circle cx="828.1" cy="267.4" r="3.4"/><circle cx="828.0" cy="247.7" r="3.4"/><circle cx="794.6" cy="279.4" r="3.4"/><circle cx="789.4" cy="252.6" r="3.4"/><circle cx="813.5" cy="255.3" r="3.4"/><circle cx="852.5" cy="297.6" r="3.4"/><circle cx="818.0" cy="290.7" r="3.4"/><circle cx="842.7" cy="273.5" r="3.4"/><circle cx="847.4" cy="318.8" r="3.4"/><circle cx="775.8" cy="331.2" r="3.4"/><circle cx="813.5" cy="297.6" r="3.4"/><circle cx="799.7" cy="261.5" r="3.4"/><circle cx="794.9" cy="264.3" r="3.4"/><circle cx="866.6" cy="299.9" r="3.4"/><circle cx="851.8" cy="284.2" r="3.4"/><circle cx="861.5" cy="331.8" r="3.4"/><circle cx="866.6" cy="290.6" r="3.4"/><circle cx="785.5" cy="264.5" r="3.4"/><circle cx="809.5" cy="309.3" r="3.4"/><circle cx="818.2" cy="305.0" r="3.4"/><circle cx="828.0" cy="228.6" r="3.4"/><circle cx="789.3" cy="305.2" r="3.4"/><circle cx="818.6" cy="281.7" r="3.4"/><circle cx="847.7" cy="247.3" r="3.4"/><circle cx="838.4" cy="328.8" r="3.4"/><circle cx="867.3" cy="305.2" r="3.4"/><circle cx="794.4" cy="273.8" r="3.4"/><circle cx="804.0" cy="293.2" r="3.4"/><circle cx="808.3" cy="238.0" r="3.4"/><circle cx="799.3" cy="291.0" r="3.4"/><circle cx="818.0" cy="256.8" r="3.4"/><circle cx="823.9" cy="279.1" r="3.4"/><circle cx="824.0" cy="283.9" r="3.4"/><circle cx="842.6" cy="230.7" r="3.4"/><circle cx="779.8" cy="309.6" r="3.4"/><circle cx="790.5" cy="266.6" r="3.4"/><circle cx="818.7" cy="315.4" r="3.4"/><circle cx="785.5" cy="259.5" r="3.4"/><circle cx="837.9" cy="247.2" r="3.4"/><circle cx="832.3" cy="231.1" r="3.4"/><circle cx="785.6" cy="322.1" r="3.4"/><circle cx="846.8" cy="290.7" r="3.4"/><circle cx="775.7" cy="326.4" r="3.4"/><circle cx="775.0" cy="321.8" r="3.4"/><circle cx="823.8" cy="332.1" r="3.4"/><circle cx="837.9" cy="256.9" r="3.4"/><circle cx="813.9" cy="288.7" r="3.4"/><circle cx="794.9" cy="269.8" r="3.4"/><circle cx="852.4" cy="245.2" r="3.4"/><circle cx="857.7" cy="280.8" r="3.4"/><circle cx="827.7" cy="218.7" r="3.4"/><circle cx="823.6" cy="269.0" r="3.4"/><circle cx="832.6" cy="220.7" r="3.4"/><circle cx="780.1" cy="281.6" r="3.4"/><circle cx="832.9" cy="311.8" r="3.4"/><circle cx="843.0" cy="226.0" r="3.4"/><circle cx="804.0" cy="254.0" r="3.4"/><circle cx="799.1" cy="281.7" r="3.4"/><circle cx="804.3" cy="288.0" r="3.4"/><circle cx="799.6" cy="323.8" r="3.4"/><circle cx="804.8" cy="269.2" r="3.4"/><circle cx="808.5" cy="319.6" r="3.4"/><circle cx="808.8" cy="242.0" r="3.4"/><circle cx="794.6" cy="239.9" r="3.4"/><circle cx="795.2" cy="260.2" r="3.4"/><circle cx="803.9" cy="302.1" r="3.4"/><circle cx="798.9" cy="247.8" r="3.4"/><circle cx="861.3" cy="283.3" r="3.4"/><circle cx="833.4" cy="317.6" r="3.4"/><circle cx="814.0" cy="317.7" r="3.4"/><circle cx="823.7" cy="221.0" r="3.4"/><circle cx="804.7" cy="307.4" r="3.4"/><circle cx="813.5" cy="278.1" r="3.4"/><circle cx="808.6" cy="285.7" r="3.4"/><circle cx="818.8" cy="232.5" r="3.4"/><circle cx="818.5" cy="324.9" r="3.4"/><circle cx="785.4" cy="269.5" r="3.4"/><circle cx="784.4" cy="317.6" r="3.4"/><circle cx="862.0" cy="293.5" r="3.4"/><circle cx="828.5" cy="305.5" r="3.4"/><circle cx="828.2" cy="280.7" r="3.4"/><circle cx="852.3" cy="273.9" r="3.4"/><circle cx="827.6" cy="252.3" r="3.4"/><circle cx="843.2" cy="322.1" r="3.4"/><circle cx="784.7" cy="307.7" r="3.4"/><circle cx="799.0" cy="295.8" r="3.4"/><circle cx="852.8" cy="322.2" r="3.4"/><circle cx="813.2" cy="225.3" r="3.4"/><circle cx="846.9" cy="299.8" r="3.4"/><circle cx="866.6" cy="319.4" r="3.4"/><circle cx="828.0" cy="242.1" r="3.4"/><circle cx="813.3" cy="274.3" r="3.4"/><circle cx="780.8" cy="304.5" r="3.4"/><circle cx="828.2" cy="295.3" r="3.4"/><circle cx="775.5" cy="302.8" r="3.4"/><circle cx="818.9" cy="329.0" r="3.4"/><circle cx="794.7" cy="307.7" r="3.4"/><circle cx="789.2" cy="281.4" r="3.4"/><circle cx="837.1" cy="318.9" r="3.4"/><circle cx="852.4" cy="317.6" r="3.4"/><circle cx="780.6" cy="290.6" r="3.4"/><circle cx="827.8" cy="256.6" r="3.4"/><circle cx="823.2" cy="235.2" r="3.4"/><circle cx="856.7" cy="295.9" r="3.4"/><circle cx="847.1" cy="324.1" r="3.4"/><circle cx="828.2" cy="324.2" r="3.4"/><circle cx="847.4" cy="251.9" r="3.4"/><circle cx="823.0" cy="292.9" r="3.4"/><circle cx="824.1" cy="322.5" r="3.4"/><circle cx="852.4" cy="255.3" r="3.4"/><circle cx="818.8" cy="319.5" r="3.4"/><circle cx="838.3" cy="324.7" r="3.4"/><circle cx="780.2" cy="319.2" r="3.4"/><circle cx="838.4" cy="237.3" r="3.4"/><circle cx="803.6" cy="235.0" r="3.4"/><circle cx="784.7" cy="332.2" r="3.4"/><circle cx="813.6" cy="312.5" r="3.4"/><circle cx="789.4" cy="300.6" r="3.4"/><circle cx="828.6" cy="329.5" r="3.4"/><circle cx="823.3" cy="259.9" r="3.4"/><circle cx="832.6" cy="326.0" r="3.4"/><circle cx="866.1" cy="276.7" r="3.4"/><circle cx="817.9" cy="261.5" r="3.4"/><circle cx="818.4" cy="270.9" r="3.4"/><circle cx="847.8" cy="232.6" r="3.4"/><circle cx="804.1" cy="263.8" r="3.4"/><circle cx="871.4" cy="321.6" r="3.4"/><circle cx="861.4" cy="322.3" r="3.4"/><circle cx="842.2" cy="307.2" r="3.4"/><circle cx="804.6" cy="249.5" r="3.4"/><circle cx="852.7" cy="279.3" r="3.4"/><circle cx="794.5" cy="303.2" r="3.4"/><circle cx="800.0" cy="319.7" r="3.4"/><circle cx="837.8" cy="223.8" r="3.4"/><circle cx="813.5" cy="216.2" r="3.4"/><circle cx="847.6" cy="238.5" r="3.4"/><circle cx="823.5" cy="273.2" r="3.4"/><circle cx="857.6" cy="319.7" r="3.4"/><circle cx="784.3" cy="274.3" r="3.4"/><circle cx="824.1" cy="303.1" r="3.4"/><circle cx="790.1" cy="328.6" r="3.4"/><circle cx="794.5" cy="330.9" r="3.4"/><circle cx="852.9" cy="268.7" r="3.4"/><circle cx="799.6" cy="314.5" r="3.4"/><circle cx="799.2" cy="242.4" r="3.4"/><circle cx="856.3" cy="272.1" r="3.4"/><circle cx="818.3" cy="275.8" r="3.4"/><circle cx="848.0" cy="242.8" r="3.4"/><circle cx="842.5" cy="331.5" r="3.4"/><circle cx="794.4" cy="292.9" r="3.4"/><circle cx="823.2" cy="263.7" r="3.4"/><circle cx="799.0" cy="232.6" r="3.4"/><circle cx="823.0" cy="287.9" r="3.4"/><circle cx="803.9" cy="312.5" r="3.4"/><circle cx="808.8" cy="223.6" r="3.4"/><circle cx="832.9" cy="225.3" r="3.4"/><circle cx="775.7" cy="279.3" r="3.4"/><circle cx="833.3" cy="240.4" r="3.4"/><circle cx="861.6" cy="312.4" r="3.4"/><circle cx="824.0" cy="317.0" r="3.4"/><circle cx="798.9" cy="257.5" r="3.4"/><circle cx="843.2" cy="279.1" r="3.4"/><circle cx="823.1" cy="231.0" r="3.4"/><circle cx="848.0" cy="266.2" r="3.4"/><circle cx="847.9" cy="328.9" r="3.4"/><circle cx="790.1" cy="290.8" r="3.4"/><circle cx="847.3" cy="262.0" r="3.4"/><circle cx="809.2" cy="314.0" r="3.4"/><circle cx="798.9" cy="276.2" r="3.4"/><circle cx="790.5" cy="256.7" r="3.4"/><circle cx="862.3" cy="278.4" r="3.4"/><circle cx="809.2" cy="233.2" r="3.4"/><circle cx="852.7" cy="250.4" r="3.4"/><circle cx="794.7" cy="245.5" r="3.4"/><circle cx="847.0" cy="314.5" r="3.4"/><circle cx="852.0" cy="307.1" r="3.4"/><circle cx="851.6" cy="311.6" r="3.4"/><circle cx="852.3" cy="260.2" r="3.4"/><circle cx="862.0" cy="298.4" r="3.4"/><circle cx="818.5" cy="227.9" r="3.4"/><circle cx="794.1" cy="283.8" r="3.4"/><circle cx="780.1" cy="329.1" r="3.4"/><circle cx="818.8" cy="223.2" r="3.4"/><circle cx="804.4" cy="274.3" r="3.4"/><circle cx="809.1" cy="247.2" r="3.4"/><circle cx="795.0" cy="317.0" r="3.4"/><circle cx="851.8" cy="293.0" r="3.4"/><circle cx="804.3" cy="278.8" r="3.4"/><circle cx="779.9" cy="300.1" r="3.4"/><circle cx="857.7" cy="262.2" r="3.4"/><circle cx="794.3" cy="326.3" r="3.4"/><circle cx="789.3" cy="272.1" r="3.4"/><circle cx="808.7" cy="276.8" r="3.4"/><circle cx="842.3" cy="236.2" r="3.4"/><circle cx="843.2" cy="240.6" r="3.4"/><circle cx="818.1" cy="218.9" r="3.4"/><circle cx="833.5" cy="236.2" r="3.4"/><circle cx="823.1" cy="307.1" r="3.4"/><circle cx="799.7" cy="309.5" r="3.4"/><circle cx="775.2" cy="288.6" r="3.4"/><circle cx="828.6" cy="237.4" r="3.4"/><circle cx="803.9" cy="297.5" r="3.4"/><circle cx="809.6" cy="290.4" r="3.4"/><circle cx="842.2" cy="312.4" r="3.4"/><circle cx="857.1" cy="290.2" r="3.4"/><circle cx="823.8" cy="255.4" r="3.4"/><circle cx="804.6" cy="260.1" r="3.4"/><circle cx="790.1" cy="319.8" r="3.4"/><circle cx="809.3" cy="296.1" r="3.4"/><circle cx="785.5" cy="327.0" r="3.4"/><circle cx="804.2" cy="240.7" r="3.4"/><circle cx="837.2" cy="233.7" r="3.4"/><circle cx="808.5" cy="267.2" r="3.4"/><circle cx="827.8" cy="300.5" r="3.4"/><circle cx="823.2" cy="326.5" r="3.4"/><circle cx="809.7" cy="228.7" r="3.4"/><circle cx="809.6" cy="299.7" r="3.4"/><circle cx="833.5" cy="283.5" r="3.4"/><circle cx="813.7" cy="250.2" r="3.4"/><circle cx="833.0" cy="331.7" r="3.4"/><circle cx="823.5" cy="226.3" r="3.4"/><circle cx="856.5" cy="300.6" r="3.4"/><circle cx="866.5" cy="295.8" r="3.4"/><circle cx="928.8" cy="322.0" r="3.4"/><circle cx="952.3" cy="315.0" r="3.4"/><circle cx="905.1" cy="309.5" r="3.4"/><circle cx="977.3" cy="330.8" r="3.4"/><circle cx="987.0" cy="312.3" r="3.4"/><circle cx="900.4" cy="293.0" r="3.4"/><circle cx="924.0" cy="319.3" r="3.4"/><circle cx="985.9" cy="298.0" r="3.4"/><circle cx="1011.0" cy="305.5" r="3.4"/><circle cx="1010.7" cy="315.2" r="3.4"/><circle cx="962.1" cy="328.5" r="3.4"/><circle cx="976.8" cy="312.0" r="3.4"/><circle cx="909.7" cy="298.3" r="3.4"/><circle cx="1005.1" cy="292.9" r="3.4"/><circle cx="900.3" cy="288.1" r="3.4"/><circle cx="1005.4" cy="326.4" r="3.4"/><circle cx="928.3" cy="326.6" r="3.4"/><circle cx="1005.2" cy="306.9" r="3.4"/><circle cx="915.0" cy="319.0" r="3.4"/><circle cx="952.7" cy="309.4" r="3.4"/><circle cx="996.7" cy="307.8" r="3.4"/><circle cx="972.2" cy="299.7" r="3.4"/><circle cx="982.3" cy="310.1" r="3.4"/><circle cx="966.7" cy="297.5" r="3.4"/><circle cx="1000.2" cy="304.6" r="3.4"/><circle cx="995.8" cy="311.9" r="3.4"/><circle cx="982.3" cy="329.4" r="3.4"/><circle cx="909.9" cy="302.0" r="3.4"/><circle cx="914.5" cy="309.4" r="3.4"/><circle cx="1006.1" cy="303.2" r="3.4"/><circle cx="895.1" cy="323.7" r="3.4"/><circle cx="976.2" cy="302.4" r="3.4"/><circle cx="952.9" cy="300.5" r="3.4"/><circle cx="923.4" cy="309.8" r="3.4"/><circle cx="928.6" cy="316.5" r="3.4"/><circle cx="947.7" cy="308.1" r="3.4"/><circle cx="899.6" cy="326.4" r="3.4"/><circle cx="914.1" cy="305.2" r="3.4"/><circle cx="904.4" cy="301.0" r="3.4"/><circle cx="957.5" cy="303.2" r="3.4"/><circle cx="962.0" cy="309.7" r="3.4"/><circle cx="899.8" cy="302.1" r="3.4"/><circle cx="890.3" cy="326.6" r="3.4"/><circle cx="1005.8" cy="317.3" r="3.4"/><circle cx="933.1" cy="328.7" r="3.4"/><circle cx="1000.8" cy="314.2" r="3.4"/><circle cx="899.4" cy="307.0" r="3.4"/><circle cx="894.8" cy="285.5" r="3.4"/><circle cx="982.3" cy="291.0" r="3.4"/><circle cx="976.8" cy="297.4" r="3.4"/><circle cx="836.0" cy="262.0" r="3.4"/><circle cx="981.5" cy="300.1" r="3.4"/><circle cx="947.3" cy="326.1" r="3.4"/><circle cx="971.7" cy="314.2" r="3.4"/><circle cx="995.5" cy="321.3" r="3.4"/><circle cx="948.2" cy="303.4" r="3.4"/><circle cx="948.5" cy="316.8" r="3.4"/><circle cx="919.8" cy="312.7" r="3.4"/><circle cx="938.2" cy="326.4" r="3.4"/><circle cx="962.3" cy="324.8" r="3.4"/><circle cx="909.7" cy="293.3" r="3.4"/><circle cx="977.4" cy="293.7" r="3.4"/><circle cx="995.6" cy="317.8" r="3.4"/><circle cx="1000.5" cy="323.9" r="3.4"/><circle cx="953.1" cy="323.8" r="3.4"/><circle cx="1001.1" cy="309.4" r="3.4"/><circle cx="838.5" cy="294.0" r="3.4"/><circle cx="1005.9" cy="331.4" r="3.4"/><circle cx="953.4" cy="328.8" r="3.4"/><circle cx="899.7" cy="312.2" r="3.4"/><circle cx="966.9" cy="307.8" r="3.4"/><circle cx="972.7" cy="309.5" r="3.4"/><circle cx="923.4" cy="328.4" r="3.4"/><circle cx="957.4" cy="322.3" r="3.4"/><circle cx="919.4" cy="307.1" r="3.4"/><circle cx="890.2" cy="317.0" r="3.4"/><circle cx="962.2" cy="299.6" r="3.4"/><circle cx="942.9" cy="318.9" r="3.4"/><circle cx="904.5" cy="296.2" r="3.4"/><circle cx="1001.1" cy="329.7" r="3.4"/><circle cx="991.4" cy="295.4" r="3.4"/><circle cx="957.3" cy="326.3" r="3.4"/><circle cx="961.9" cy="314.7" r="3.4"/><circle cx="991.5" cy="314.8" r="3.4"/><circle cx="1000.5" cy="301.0" r="3.4"/><circle cx="939.0" cy="331.4" r="3.4"/><circle cx="889.9" cy="321.4" r="3.4"/><circle cx="933.6" cy="325.0" r="3.4"/><circle cx="996.1" cy="298.6" r="3.4"/><circle cx="909.5" cy="322.2" r="3.4"/><circle cx="986.2" cy="307.5" r="3.4"/><circle cx="991.0" cy="310.1" r="3.4"/><circle cx="938.7" cy="322.3" r="3.4"/><circle cx="894.5" cy="318.9" r="3.4"/><circle cx="943.2" cy="328.4" r="3.4"/><circle cx="958.2" cy="312.0" r="3.4"/><circle cx="904.4" cy="319.6" r="3.4"/><circle cx="967.9" cy="312.9" r="3.4"/><circle cx="918.9" cy="322.2" r="3.4"/><circle cx="987.1" cy="322.1" r="3.4"/><circle cx="942.5" cy="323.8" r="3.4"/><circle cx="962.1" cy="305.1" r="3.4"/><circle cx="996.4" cy="331.0" r="3.4"/><circle cx="938.5" cy="312.2" r="3.4"/><circle cx="890.6" cy="308.1" r="3.4"/><circle cx="948.1" cy="331.9" r="3.4"/><circle cx="1000.5" cy="320.0" r="3.4"/><circle cx="947.9" cy="321.4" r="3.4"/><circle cx="909.8" cy="332.0" r="3.4"/><circle cx="1011.0" cy="329.7" r="3.4"/><circle cx="986.9" cy="331.1" r="3.4"/><circle cx="976.9" cy="307.5" r="3.4"/><circle cx="942.6" cy="314.8" r="3.4"/><circle cx="895.8" cy="295.1" r="3.4"/><circle cx="890.2" cy="297.4" r="3.4"/><circle cx="894.5" cy="314.2" r="3.4"/><circle cx="981.4" cy="319.9" r="3.4"/><circle cx="1010.6" cy="324.1" r="3.4"/><circle cx="914.8" cy="328.9" r="3.4"/><circle cx="991.1" cy="319.8" r="3.4"/><circle cx="986.5" cy="317.2" r="3.4"/><circle cx="986.1" cy="293.1" r="3.4"/><circle cx="890.4" cy="292.6" r="3.4"/><circle cx="948.1" cy="312.6" r="3.4"/><circle cx="914.1" cy="300.9" r="3.4"/><circle cx="966.6" cy="330.9" r="3.4"/><circle cx="899.4" cy="317.1" r="3.4"/><circle cx="967.1" cy="321.9" r="3.4"/><circle cx="990.8" cy="300.5" r="3.4"/><circle cx="943.5" cy="309.2" r="3.4"/><circle cx="981.6" cy="305.7" r="3.4"/><circle cx="895.4" cy="300.0" r="3.4"/><circle cx="972.1" cy="329.5" r="3.4"/><circle cx="991.2" cy="290.9" r="3.4"/><circle cx="981.4" cy="314.1" r="3.4"/><circle cx="929.2" cy="330.9" r="3.4"/><circle cx="943.8" cy="305.4" r="3.4"/><circle cx="899.6" cy="331.4" r="3.4"/><circle cx="928.6" cy="313.0" r="3.4"/><circle cx="972.1" cy="324.9" r="3.4"/><circle cx="972.0" cy="295.5" r="3.4"/><circle cx="899.4" cy="321.3" r="3.4"/><circle cx="918.8" cy="326.6" r="3.4"/><circle cx="906.2" cy="216.8" r="3.4"/><circle cx="898.7" cy="244.9" r="3.4"/><circle cx="919.1" cy="317.4" r="3.4"/><circle cx="957.1" cy="331.1" r="3.4"/><circle cx="972.1" cy="320.0" r="3.4"/><circle cx="895.9" cy="310.0" r="3.4"/><circle cx="893.0" cy="268.0" r="3.4"/><circle cx="976.2" cy="322.5" r="3.4"/><circle cx="1005.6" cy="298.2" r="3.4"/><circle cx="909.5" cy="219.9" r="3.4"/><circle cx="957.2" cy="307.9" r="3.4"/><circle cx="915.6" cy="200.0" r="3.4"/><circle cx="967.3" cy="326.3" r="3.4"/><circle cx="902.4" cy="247.0" r="3.4"/><circle cx="898.7" cy="259.9" r="3.4"/><circle cx="897.0" cy="266.0" r="3.4"/><circle cx="895.3" cy="272.7" r="3.4"/><circle cx="1010.0" cy="309.9" r="3.4"/><circle cx="923.4" cy="304.7" r="3.4"/><circle cx="900.0" cy="298.2" r="3.4"/><circle cx="1000.6" cy="290.2" r="3.4"/><circle cx="912.8" cy="222.9" r="3.4"/><circle cx="899.0" cy="269.5" r="3.4"/><circle cx="918.9" cy="203.3" r="3.4"/><circle cx="991.7" cy="324.5" r="3.4"/><circle cx="897.7" cy="277.3" r="3.4"/><circle cx="981.2" cy="294.9" r="3.4"/><circle cx="906.2" cy="249.2" r="3.4"/><circle cx="903.2" cy="261.4" r="3.4"/><circle cx="977.2" cy="316.9" r="3.4"/><circle cx="966.7" cy="302.8" r="3.4"/><circle cx="901.0" cy="273.0" r="3.4"/><circle cx="916.0" cy="225.9" r="3.4"/><circle cx="922.1" cy="206.6" r="3.4"/><circle cx="927.0" cy="190.5" r="3.4"/><circle cx="919.4" cy="330.9" r="3.4"/><circle cx="900.0" cy="282.0" r="3.4"/><circle cx="981.0" cy="324.1" r="3.4"/><circle cx="986.0" cy="326.4" r="3.4"/><circle cx="928.7" cy="188.7" r="3.4"/><circle cx="909.9" cy="251.3" r="3.4"/><circle cx="895.0" cy="304.5" r="3.4"/><circle cx="903.0" cy="276.5" r="3.4"/><circle cx="902.5" cy="278.6" r="3.4"/><circle cx="945.0" cy="138.5" r="3.4"/><circle cx="907.7" cy="262.9" r="3.4"/><circle cx="928.0" cy="195.3" r="3.4"/><circle cx="967.2" cy="316.4" r="3.4"/><circle cx="943.8" cy="143.2" r="3.4"/><circle cx="909.2" cy="307.5" r="3.4"/><circle cx="942.7" cy="147.8" r="3.4"/><circle cx="995.6" cy="288.8" r="3.4"/><circle cx="941.5" cy="152.5" r="3.4"/><circle cx="894.9" cy="329.0" r="3.4"/><circle cx="910.2" cy="326.8" r="3.4"/><circle cx="919.3" cy="229.0" r="3.4"/><circle cx="925.4" cy="209.8" r="3.4"/><circle cx="1006.1" cy="313.0" r="3.4"/><circle cx="905.0" cy="280.0" r="3.4"/><circle cx="929.0" cy="200.2" r="3.4"/><circle cx="907.0" cy="274.0" r="3.4"/><circle cx="932.0" cy="192.0" r="3.4"/><circle cx="913.7" cy="253.5" r="3.4"/><circle cx="890.7" cy="288.9" r="3.4"/><circle cx="957.0" cy="112.0" r="3.4"/><circle cx="906.8" cy="279.8" r="3.4"/><circle cx="958.8" cy="108.3" r="3.4"/><circle cx="930.0" cy="205.0" r="3.4"/><circle cx="912.2" cy="264.4" r="3.4"/><circle cx="889.7" cy="302.1" r="3.4"/><circle cx="960.7" cy="104.7" r="3.4"/><circle cx="922.6" cy="232.1" r="3.4"/><circle cx="904.4" cy="329.6" r="3.4"/><circle cx="928.7" cy="213.1" r="3.4"/><circle cx="923.6" cy="324.8" r="3.4"/><circle cx="909.4" cy="312.5" r="3.4"/><circle cx="962.5" cy="101.0" r="3.4"/><circle cx="933.6" cy="314.8" r="3.4"/><circle cx="911.2" cy="275.2" r="3.4"/><circle cx="935.2" cy="195.3" r="3.4"/><circle cx="917.4" cy="255.6" r="3.4"/><circle cx="914.0" cy="324.0" r="3.4"/><circle cx="996.7" cy="303.2" r="3.4"/><circle cx="1001.2" cy="294.9" r="3.4"/><circle cx="911.1" cy="280.9" r="3.4"/><circle cx="991.0" cy="304.8" r="3.4"/><circle cx="940.0" cy="186.9" r="3.4"/><circle cx="995.3" cy="293.2" r="3.4"/><circle cx="925.9" cy="235.1" r="3.4"/><circle cx="916.7" cy="265.9" r="3.4"/><circle cx="932.0" cy="216.4" r="3.4"/><circle cx="905.3" cy="323.9" r="3.4"/><circle cx="890.1" cy="332.0" r="3.4"/><circle cx="910.4" cy="292.0" r="3.4"/><circle cx="938.5" cy="198.6" r="3.4"/><circle cx="915.4" cy="276.4" r="3.4"/><circle cx="904.8" cy="291.2" r="3.4"/><circle cx="921.2" cy="257.8" r="3.4"/><circle cx="962.0" cy="319.6" r="3.4"/><circle cx="890.4" cy="311.7" r="3.4"/><circle cx="1010.4" cy="300.1" r="3.4"/><circle cx="942.9" cy="190.2" r="3.4"/><circle cx="915.5" cy="282.1" r="3.4"/><circle cx="929.1" cy="238.1" r="3.4"/><circle cx="985.9" cy="302.4" r="3.4"/><circle cx="914.0" cy="314.5" r="3.4"/><circle cx="934.3" cy="309.7" r="3.4"/><circle cx="935.2" cy="219.6" r="3.4"/><circle cx="975.5" cy="86.0" r="3.4"/><circle cx="921.2" cy="267.4" r="3.4"/><circle cx="904.7" cy="315.3" r="3.4"/><circle cx="894.8" cy="290.3" r="3.4"/><circle cx="941.8" cy="201.8" r="3.4"/><circle cx="923.9" cy="315.3" r="3.4"/><circle cx="924.9" cy="259.9" r="3.4"/><circle cx="904.6" cy="285.5" r="3.4"/><circle cx="991.4" cy="328.7" r="3.4"/><circle cx="978.2" cy="82.2" r="3.4"/><circle cx="953.0" cy="305.2" r="3.4"/><circle cx="919.7" cy="277.7" r="3.4"/><circle cx="924.3" cy="264.3" r="3.4"/><circle cx="945.8" cy="193.5" r="3.4"/><circle cx="923.6" cy="268.6" r="3.4"/><circle cx="933.2" cy="319.0" r="3.4"/><circle cx="981.0" cy="78.5" r="3.4"/><circle cx="919.8" cy="283.2" r="3.4"/><circle cx="932.4" cy="241.2" r="3.4"/><circle cx="923.0" cy="273.0" r="3.4"/><circle cx="938.5" cy="222.9" r="3.4"/><circle cx="905.4" cy="305.2" r="3.4"/><circle cx="953.5" cy="319.7" r="3.4"/><circle cx="1005.4" cy="322.2" r="3.4"/><circle cx="945.1" cy="205.1" r="3.4"/><circle cx="949.3" cy="192.5" r="3.4"/><circle cx="923.9" cy="278.9" r="3.4"/><circle cx="957.9" cy="316.7" r="3.4"/><circle cx="919.0" cy="295.3" r="3.4"/><circle cx="948.7" cy="196.9" r="3.4"/><circle cx="909.6" cy="317.5" r="3.4"/><circle cx="924.1" cy="284.4" r="3.4"/><circle cx="1010.3" cy="319.4" r="3.4"/><circle cx="941.8" cy="226.2" r="3.4"/><circle cx="977.4" cy="326.7" r="3.4"/><circle cx="971.6" cy="305.2" r="3.4"/><circle cx="995.9" cy="327.0" r="3.4"/><circle cx="938.3" cy="316.7" r="3.4"/><circle cx="948.4" cy="208.4" r="3.4"/><circle cx="952.3" cy="196.0" r="3.4"/><circle cx="951.6" cy="200.2" r="3.4"/><circle cx="928.1" cy="280.1" r="3.4"/><circle cx="928.4" cy="285.5" r="3.4"/><circle cx="951.6" cy="211.7" r="3.4"/><circle cx="955.4" cy="199.5" r="3.4"/><circle cx="954.5" cy="203.5" r="3.4"/><circle cx="932.3" cy="281.3" r="3.4"/><circle cx="995.0" cy="73.0" r="3.4"/><circle cx="958.7" cy="196.2" r="3.4"/><circle cx="932.8" cy="286.7" r="3.4"/><circle cx="958.4" cy="203.0" r="3.4"/><circle cx="954.9" cy="215.0" r="3.4"/><circle cx="957.4" cy="206.8" r="3.4"/><circle cx="930.0" cy="298.5" r="3.4"/><circle cx="998.5" cy="71.2" r="3.4"/><circle cx="936.6" cy="282.6" r="3.4"/><circle cx="961.5" cy="199.9" r="3.4"/><circle cx="1002.0" cy="69.5" r="3.4"/><circle cx="960.3" cy="210.2" r="3.4"/><circle cx="961.5" cy="206.6" r="3.4"/><circle cx="937.1" cy="287.8" r="3.4"/><circle cx="964.3" cy="203.7" r="3.4"/><circle cx="940.8" cy="283.8" r="3.4"/><circle cx="963.2" cy="213.5" r="3.4"/><circle cx="964.5" cy="210.1" r="3.4"/><circle cx="941.4" cy="289.0" r="3.4"/><circle cx="967.1" cy="207.4" r="3.4"/><circle cx="945.0" cy="285.0" r="3.4"/><circle cx="966.1" cy="216.8" r="3.4"/><circle cx="967.5" cy="213.6" r="3.4"/><circle cx="941.3" cy="301.7" r="3.4"/><circle cx="945.7" cy="290.1" r="3.4"/><circle cx="969.9" cy="211.2" r="3.4"/><circle cx="970.6" cy="217.1" r="3.4"/><circle cx="972.7" cy="214.9" r="3.4"/><circle cx="950.1" cy="291.3" r="3.4"/><circle cx="1016.0" cy="71.5" r="3.4"/><circle cx="973.6" cy="220.6" r="3.4"/><circle cx="975.5" cy="218.7" r="3.4"/><circle cx="1019.5" cy="72.8" r="3.4"/><circle cx="954.4" cy="292.4" r="3.4"/><circle cx="954.8" cy="295.3" r="3.4"/><circle cx="978.3" cy="222.4" r="3.4"/><circle cx="1023.0" cy="74.0" r="3.4"/><circle cx="958.7" cy="293.6" r="3.4"/><circle cx="958.7" cy="293.6" r="3.4"/><circle cx="960.1" cy="289.4" r="3.4"/><circle cx="961.5" cy="285.2" r="3.4"/><circle cx="962.9" cy="281.0" r="3.4"/><circle cx="964.3" cy="276.8" r="3.4"/><circle cx="965.7" cy="272.5" r="3.4"/><circle cx="967.1" cy="268.3" r="3.4"/><circle cx="968.5" cy="264.1" r="3.4"/><circle cx="969.9" cy="259.9" r="3.4"/><circle cx="981.1" cy="226.2" r="3.4"/><circle cx="973.6" cy="257.4" r="3.4"/><circle cx="963.0" cy="296.0" r="3.4"/><circle cx="964.4" cy="291.6" r="3.4"/><circle cx="965.9" cy="287.1" r="3.4"/><circle cx="967.3" cy="282.7" r="3.4"/><circle cx="968.7" cy="278.3" r="3.4"/><circle cx="970.1" cy="273.9" r="3.4"/><circle cx="971.6" cy="269.4" r="3.4"/><circle cx="973.0" cy="265.0" r="3.4"/><circle cx="983.4" cy="230.7" r="3.4"/><circle cx="977.4" cy="254.9" r="3.4"/><circle cx="976.3" cy="262.3" r="3.4"/><circle cx="985.6" cy="235.2" r="3.4"/><circle cx="981.1" cy="252.4" r="3.4"/><circle cx="979.7" cy="259.7" r="3.4"/><circle cx="987.9" cy="239.7" r="3.4"/><circle cx="983.0" cy="257.0" r="3.4"/><circle cx="1036.0" cy="83.0" r="3.4"/><circle cx="986.1" cy="254.3" r="3.4"/><circle cx="990.1" cy="244.2" r="3.4"/><circle cx="986.8" cy="258.5" r="3.4"/><circle cx="1039.5" cy="85.2" r="3.4"/><circle cx="992.4" cy="248.7" r="3.4"/><circle cx="1043.0" cy="87.5" r="3.4"/><circle cx="991.1" cy="256.1" r="3.4"/><circle cx="990.5" cy="260.0" r="3.4"/><circle cx="995.2" cy="252.4" r="3.4"/><circle cx="994.2" cy="261.5" r="3.4"/><circle cx="996.1" cy="258.0" r="3.4"/><circle cx="998.0" cy="256.1" r="3.4"/><circle cx="992.4" cy="274.9" r="3.4"/><circle cx="992.4" cy="279.9" r="3.4"/><circle cx="998.0" cy="263.0" r="3.4"/><circle cx="992.4" cy="282.4" r="3.4"/><circle cx="992.4" cy="285.0" r="3.4"/><circle cx="1000.8" cy="259.9" r="3.4"/><circle cx="992.4" cy="290.0" r="3.4"/><circle cx="996.6" cy="282.8" r="3.4"/><circle cx="1003.6" cy="263.6" r="3.4"/><circle cx="1054.5" cy="104.0" r="3.4"/><circle cx="1000.8" cy="283.3" r="3.4"/><circle cx="1056.8" cy="105.7" r="3.4"/><circle cx="1005.0" cy="283.8" r="3.4"/><circle cx="1059.2" cy="107.3" r="3.4"/><circle cx="1061.5" cy="109.0" r="3.4"/><circle cx="1009.2" cy="284.2" r="3.4"/><circle cx="1071.0" cy="132.5" r="3.4"/><circle cx="1017.0" cy="322.6" r="3.4"/><circle cx="1074.5" cy="134.8" r="3.4"/><circle cx="1019.4" cy="317.0" r="3.4"/><circle cx="1017.0" cy="326.8" r="3.4"/><circle cx="1017.0" cy="331.0" r="3.4"/><circle cx="1078.0" cy="137.0" r="3.4"/><circle cx="1021.8" cy="322.6" r="3.4"/><circle cx="1021.8" cy="326.8" r="3.4"/><circle cx="1021.8" cy="331.0" r="3.4"/><circle cx="1036.9" cy="322.6" r="3.4"/><circle cx="1039.3" cy="317.5" r="3.4"/><circle cx="1036.9" cy="326.8" r="3.4"/><circle cx="1086.0" cy="166.0" r="3.4"/><circle cx="1036.9" cy="331.0" r="3.4"/><circle cx="1041.7" cy="322.6" r="3.4"/><circle cx="1089.0" cy="168.0" r="3.4"/><circle cx="1041.7" cy="326.8" r="3.4"/><circle cx="1041.7" cy="331.0" r="3.4"/><circle cx="1092.0" cy="170.0" r="3.4"/><circle cx="1055.3" cy="322.6" r="3.4"/><circle cx="1057.7" cy="318.0" r="3.4"/><circle cx="1055.3" cy="326.8" r="3.4"/><circle cx="1055.3" cy="331.0" r="3.4"/><circle cx="1060.1" cy="322.6" r="3.4"/><circle cx="1060.1" cy="326.8" r="3.4"/><circle cx="1098.0" cy="203.5" r="3.4"/><circle cx="1060.1" cy="331.0" r="3.4"/><circle cx="1101.0" cy="205.5" r="3.4"/><circle cx="1104.0" cy="207.5" r="3.4"/><circle cx="1072.1" cy="322.6" r="3.4"/><circle cx="1074.5" cy="318.5" r="3.4"/><circle cx="1072.1" cy="326.8" r="3.4"/><circle cx="1072.1" cy="331.0" r="3.4"/><circle cx="1076.9" cy="322.6" r="3.4"/><circle cx="1076.9" cy="326.8" r="3.4"/><circle cx="1076.9" cy="331.0" r="3.4"/><circle cx="1106.5" cy="244.5" r="3.4"/><circle cx="1109.2" cy="246.0" r="3.4"/><circle cx="1086.4" cy="322.6" r="3.4"/><circle cx="1086.4" cy="326.8" r="3.4"/><circle cx="1088.8" cy="319.5" r="3.4"/><circle cx="1112.0" cy="247.5" r="3.4"/><circle cx="1086.4" cy="331.0" r="3.4"/><circle cx="1091.2" cy="322.6" r="3.4"/><circle cx="1091.2" cy="326.8" r="3.4"/><circle cx="1091.2" cy="331.0" r="3.4"/><circle cx="1097.6" cy="322.6" r="3.4"/><circle cx="1097.6" cy="326.8" r="3.4"/><circle cx="1100.0" cy="320.0" r="3.4"/><circle cx="1097.6" cy="331.0" r="3.4"/><circle cx="1111.5" cy="288.0" r="3.4"/><circle cx="1102.4" cy="322.6" r="3.4"/><circle cx="1102.4" cy="326.8" r="3.4"/><circle cx="1114.2" cy="288.8" r="3.4"/><circle cx="1102.4" cy="331.0" r="3.4"/><circle cx="1105.8" cy="322.6" r="3.4"/><circle cx="1117.0" cy="289.5" r="3.4"/><circle cx="1105.8" cy="326.8" r="3.4"/><circle cx="1108.2" cy="320.5" r="3.4"/><circle cx="1105.8" cy="331.0" r="3.4"/><circle cx="1110.6" cy="322.6" r="3.4"/><circle cx="1110.6" cy="326.8" r="3.4"/><circle cx="1110.6" cy="331.0" r="3.4"/><circle cx="1113.4" cy="326.8" r="3.4"/><circle cx="1115.8" cy="321.0" r="3.4"/><circle cx="1113.4" cy="331.0" r="3.4"/><circle cx="1118.2" cy="326.8" r="3.4"/><circle cx="1118.2" cy="331.0" r="3.4"/></g></g><g clip-path="url(#c2)"><g class="r"><circle cx="1256.8" cy="133.3" r="3.4"/><circle cx="1299.0" cy="294.3" r="3.4"/><circle cx="1256.2" cy="142.5" r="3.4"/><circle cx="1266.6" cy="320.5" r="3.4"/><circle cx="1284.2" cy="188.9" r="3.4"/><circle cx="1274.5" cy="320.5" r="3.4"/><circle cx="1246.9" cy="273.9" r="3.4"/><circle cx="1257.1" cy="269.3" r="3.4"/><circle cx="1266.6" cy="246.0" r="3.4"/><circle cx="1279.7" cy="177.1" r="3.4"/><circle cx="1270.8" cy="225.2" r="3.4"/><circle cx="1275.7" cy="329.7" r="3.4"/><circle cx="1316.7" cy="233.3" r="3.4"/><circle cx="1260.5" cy="168.4" r="3.4"/><circle cx="1255.8" cy="264.0" r="3.4"/><circle cx="1255.7" cy="114.1" r="3.4"/><circle cx="1322.3" cy="232.6" r="3.4"/><circle cx="1256.6" cy="298.4" r="3.4"/><circle cx="1271.1" cy="200.6" r="3.4"/><circle cx="1261.0" cy="139.3" r="3.4"/><circle cx="1256.8" cy="180.4" r="3.4"/><circle cx="1276.1" cy="151.8" r="3.4"/><circle cx="1276.0" cy="335.0" r="3.4"/><circle cx="1247.8" cy="174.5" r="3.4"/><circle cx="1241.5" cy="115.4" r="3.4"/><circle cx="1279.5" cy="276.0" r="3.4"/><circle cx="1256.7" cy="216.9" r="3.4"/><circle cx="1279.3" cy="192.4" r="3.4"/><circle cx="1308.5" cy="205.2" r="3.4"/><circle cx="1252.6" cy="172.5" r="3.4"/><circle cx="1279.3" cy="206.3" r="3.4"/><circle cx="1260.4" cy="220.3" r="3.4"/><circle cx="1270.8" cy="304.6" r="3.4"/><circle cx="1257.0" cy="128.1" r="3.4"/><circle cx="1274.4" cy="221.7" r="3.4"/><circle cx="1245.0" cy="128.0" r="3.4"/><circle cx="1248.3" cy="119.5" r="3.4"/><circle cx="1255.8" cy="123.3" r="3.4"/><circle cx="1261.4" cy="266.3" r="3.4"/><circle cx="1285.2" cy="259.9" r="3.4"/><circle cx="1256.0" cy="138.4" r="3.4"/><circle cx="1247.0" cy="104.9" r="3.4"/><circle cx="1247.8" cy="143.0" r="3.4"/><circle cx="1250.0" cy="145.0" r="3.4"/><circle cx="1247.0" cy="160.0" r="3.4"/><circle cx="1256.0" cy="135.0" r="3.4"/><circle cx="1246.5" cy="194.3" r="3.4"/><circle cx="1251.8" cy="220.2" r="3.4"/><circle cx="1260.5" cy="102.4" r="3.4"/><circle cx="1245.0" cy="178.0" r="3.4"/><circle cx="1251.8" cy="238.0" r="3.4"/><circle cx="1256.6" cy="241.4" r="3.4"/><circle cx="1265.2" cy="156.3" r="3.4"/><circle cx="1299.6" cy="300.7" r="3.4"/><circle cx="1270.6" cy="285.9" r="3.4"/><circle cx="1246.4" cy="179.3" r="3.4"/><circle cx="1247.0" cy="195.0" r="3.4"/><circle cx="1243.2" cy="101.7" r="3.4"/><circle cx="1308.1" cy="318.8" r="3.4"/><circle cx="1244.0" cy="212.0" r="3.4"/><circle cx="1251.4" cy="332.4" r="3.4"/><circle cx="1279.3" cy="271.4" r="3.4"/><circle cx="1265.6" cy="128.1" r="3.4"/><circle cx="1252.4" cy="158.0" r="3.4"/><circle cx="1289.2" cy="327.4" r="3.4"/><circle cx="1262.0" cy="144.6" r="3.4"/><circle cx="1261.5" cy="263.1" r="3.4"/><circle cx="1252.4" cy="275.7" r="3.4"/><circle cx="1247.6" cy="241.3" r="3.4"/><circle cx="1246.0" cy="230.0" r="3.4"/><circle cx="1265.9" cy="241.5" r="3.4"/><circle cx="1256.3" cy="109.9" r="3.4"/><circle cx="1247.0" cy="132.4" r="3.4"/><circle cx="1270.4" cy="248.0" r="3.4"/><circle cx="1275.2" cy="284.3" r="3.4"/><circle cx="1252.6" cy="266.8" r="3.4"/><circle cx="1243.0" cy="258.0" r="3.4"/><circle cx="1251.2" cy="336.9" r="3.4"/><circle cx="1251.9" cy="144.0" r="3.4"/><circle cx="1245.0" cy="268.0" r="3.4"/><circle cx="1244.0" cy="290.0" r="3.4"/><circle cx="1250.0" cy="275.0" r="3.4"/><circle cx="1247.0" cy="318.0" r="3.4"/><circle cx="1258.0" cy="330.0" r="3.4"/></g><g class="b"><circle cx="1275.2" cy="166.6" r="3.4"/><circle cx="1261.3" cy="186.6" r="3.4"/><circle cx="1274.8" cy="122.9" r="3.4"/><circle cx="1256.0" cy="100.8" r="3.4"/><circle cx="1294.3" cy="241.3" r="3.4"/><circle cx="1260.5" cy="271.1" r="3.4"/><circle cx="1251.7" cy="309.6" r="3.4"/><circle cx="1308.2" cy="281.0" r="3.4"/><circle cx="1269.8" cy="272.3" r="3.4"/><circle cx="1247.0" cy="95.9" r="3.4"/><circle cx="1261.8" cy="126.5" r="3.4"/><circle cx="1271.1" cy="276.4" r="3.4"/><circle cx="1275.3" cy="316.3" r="3.4"/><circle cx="1256.6" cy="310.8" r="3.4"/><circle cx="1276.1" cy="297.3" r="3.4"/><circle cx="1294.6" cy="152.2" r="3.4"/><circle cx="1274.9" cy="212.5" r="3.4"/><circle cx="1246.3" cy="166.2" r="3.4"/><circle cx="1279.3" cy="201.1" r="3.4"/><circle cx="1271.4" cy="310.0" r="3.4"/><circle cx="1271.4" cy="242.7" r="3.4"/><circle cx="1255.9" cy="156.3" r="3.4"/><circle cx="1289.8" cy="309.8" r="3.4"/><circle cx="1274.4" cy="245.6" r="3.4"/><circle cx="1308.9" cy="277.3" r="3.4"/><circle cx="1260.8" cy="333.3" r="3.4"/><circle cx="1252.5" cy="139.7" r="3.4"/><circle cx="1279.8" cy="248.6" r="3.4"/><circle cx="1265.7" cy="184.1" r="3.4"/><circle cx="1285.4" cy="283.1" r="3.4"/><circle cx="1275.3" cy="326.0" r="3.4"/><circle cx="1294.8" cy="199.5" r="3.4"/><circle cx="1298.6" cy="270.9" r="3.4"/><circle cx="1284.3" cy="296.7" r="3.4"/><circle cx="1275.2" cy="179.6" r="3.4"/><circle cx="1251.1" cy="168.9" r="3.4"/><circle cx="1299.4" cy="313.2" r="3.4"/><circle cx="1299.1" cy="291.0" r="3.4"/><circle cx="1312.3" cy="255.5" r="3.4"/><circle cx="1279.5" cy="139.8" r="3.4"/><circle cx="1302.7" cy="315.5" r="3.4"/><circle cx="1260.8" cy="225.1" r="3.4"/><circle cx="1260.5" cy="252.7" r="3.4"/><circle cx="1256.8" cy="235.9" r="3.4"/><circle cx="1255.7" cy="331.2" r="3.4"/><circle cx="1266.7" cy="165.9" r="3.4"/><circle cx="1289.4" cy="299.4" r="3.4"/><circle cx="1316.9" cy="216.1" r="3.4"/><circle cx="1257.2" cy="325.4" r="3.4"/><circle cx="1298.3" cy="281.3" r="3.4"/><circle cx="1241.5" cy="107.8" r="3.4"/><circle cx="1271.0" cy="229.0" r="3.4"/><circle cx="1283.8" cy="232.1" r="3.4"/><circle cx="1308.9" cy="215.7" r="3.4"/><circle cx="1276.0" cy="157.3" r="3.4"/><circle cx="1274.5" cy="174.9" r="3.4"/><circle cx="1270.1" cy="121.3" r="3.4"/><circle cx="1275.7" cy="306.5" r="3.4"/><circle cx="1308.8" cy="290.4" r="3.4"/><circle cx="1251.5" cy="126.4" r="3.4"/><circle cx="1284.4" cy="169.8" r="3.4"/><circle cx="1266.1" cy="202.7" r="3.4"/><circle cx="1251.0" cy="101.2" r="3.4"/><circle cx="1299.1" cy="210.9" r="3.4"/><circle cx="1270.7" cy="206.5" r="3.4"/><circle cx="1248.9" cy="111.8" r="3.4"/><circle cx="1269.8" cy="116.3" r="3.4"/><circle cx="1303.8" cy="174.5" r="3.4"/><circle cx="1270.6" cy="337.6" r="3.4"/><circle cx="1246.2" cy="213.7" r="3.4"/><circle cx="1241.7" cy="211.4" r="3.4"/><circle cx="1261.2" cy="182.9" r="3.4"/><circle cx="1265.7" cy="208.1" r="3.4"/><circle cx="1288.9" cy="323.4" r="3.4"/><circle cx="1252.0" cy="125.0" r="3.4"/><circle cx="1246.4" cy="108.8" r="3.4"/><circle cx="1256.2" cy="334.8" r="3.4"/><circle cx="1275.2" cy="203.5" r="3.4"/><circle cx="1256.5" cy="117.3" r="3.4"/><circle cx="1276.1" cy="254.5" r="3.4"/><circle cx="1303.6" cy="325.4" r="3.4"/><circle cx="1270.9" cy="318.0" r="3.4"/><circle cx="1275.3" cy="198.5" r="3.4"/><circle cx="1298.7" cy="253.2" r="3.4"/><circle cx="1246.5" cy="162.1" r="3.4"/><circle cx="1257.0" cy="321.4" r="3.4"/><circle cx="1279.7" cy="225.2" r="3.4"/><circle cx="1247.9" cy="156.6" r="3.4"/><circle cx="1261.6" cy="296.0" r="3.4"/><circle cx="1266.8" cy="110.0" r="3.4"/><circle cx="1255.0" cy="150.0" r="3.4"/><circle cx="1279.3" cy="333.6" r="3.4"/><circle cx="1252.0" cy="165.0" r="3.4"/><circle cx="1262.0" cy="132.0" r="3.4"/><circle cx="1246.3" cy="203.6" r="3.4"/><circle cx="1250.0" cy="183.0" r="3.4"/><circle cx="1265.5" cy="174.7" r="3.4"/><circle cx="1270.4" cy="131.1" r="3.4"/><circle cx="1279.5" cy="233.9" r="3.4"/><circle cx="1274.9" cy="260.1" r="3.4"/><circle cx="1265.7" cy="189.1" r="3.4"/><circle cx="1276.1" cy="249.8" r="3.4"/><circle cx="1247.5" cy="123.8" r="3.4"/><circle cx="1307.6" cy="299.9" r="3.4"/><circle cx="1256.0" cy="292.2" r="3.4"/><circle cx="1274.9" cy="184.1" r="3.4"/><circle cx="1252.3" cy="206.2" r="3.4"/><circle cx="1270.6" cy="140.8" r="3.4"/><circle cx="1279.9" cy="309.7" r="3.4"/><circle cx="1303.1" cy="297.4" r="3.4"/><circle cx="1280.4" cy="336.6" r="3.4"/><circle cx="1253.0" cy="200.0" r="3.4"/><circle cx="1288.7" cy="243.5" r="3.4"/><circle cx="1279.8" cy="258.1" r="3.4"/><circle cx="1252.4" cy="257.9" r="3.4"/><circle cx="1312.7" cy="207.6" r="3.4"/><circle cx="1275.0" cy="140.0" r="3.4"/><circle cx="1246.5" cy="118.5" r="3.4"/><circle cx="1250.9" cy="111.4" r="3.4"/><circle cx="1270.0" cy="233.9" r="3.4"/><circle cx="1275.2" cy="288.2" r="3.4"/><circle cx="1256.0" cy="220.0" r="3.4"/><circle cx="1275.7" cy="231.7" r="3.4"/><circle cx="1271.1" cy="168.4" r="3.4"/><circle cx="1279.1" cy="266.5" r="3.4"/><circle cx="1251.0" cy="240.0" r="3.4"/><circle cx="1275.8" cy="188.6" r="3.4"/><circle cx="1271.0" cy="267.9" r="3.4"/><circle cx="1298.5" cy="196.1" r="3.4"/><circle cx="1279.6" cy="262.3" r="3.4"/><circle cx="1250.0" cy="262.0" r="3.4"/><circle cx="1250.0" cy="298.0" r="3.4"/><circle cx="1252.0" cy="322.0" r="3.4"/></g><g class="m"><circle cx="1298.1" cy="304.6" r="3.4"/><circle cx="1318.1" cy="224.8" r="3.4"/><circle cx="1317.2" cy="210.0" r="3.4"/><circle cx="1323.0" cy="235.9" r="3.4"/><circle cx="1298.3" cy="285.9" r="3.4"/><circle cx="1280.6" cy="214.8" r="3.4"/><circle cx="1285.3" cy="312.1" r="3.4"/><circle cx="1304.1" cy="250.6" r="3.4"/><circle cx="1283.8" cy="255.5" r="3.4"/><circle cx="1289.2" cy="332.9" r="3.4"/><circle cx="1284.8" cy="325.9" r="3.4"/><circle cx="1280.5" cy="164.3" r="3.4"/><circle cx="1299.4" cy="332.3" r="3.4"/><circle cx="1303.2" cy="302.7" r="3.4"/><circle cx="1270.9" cy="295.0" r="3.4"/><circle cx="1312.6" cy="227.8" r="3.4"/><circle cx="1280.3" cy="281.4" r="3.4"/><circle cx="1318.4" cy="276.0" r="3.4"/><circle cx="1294.1" cy="180.1" r="3.4"/><circle cx="1279.3" cy="295.3" r="3.4"/><circle cx="1307.6" cy="243.9" r="3.4"/><circle cx="1289.9" cy="247.4" r="3.4"/><circle cx="1299.2" cy="177.3" r="3.4"/><circle cx="1251.7" cy="318.1" r="3.4"/><circle cx="1289.5" cy="290.2" r="3.4"/><circle cx="1241.7" cy="258.0" r="3.4"/><circle cx="1317.3" cy="262.0" r="3.4"/><circle cx="1275.7" cy="236.3" r="3.4"/><circle cx="1317.4" cy="248.3" r="3.4"/><circle cx="1284.8" cy="222.8" r="3.4"/><circle cx="1322.7" cy="208.6" r="3.4"/><circle cx="1294.8" cy="321.7" r="3.4"/><circle cx="1322.4" cy="249.7" r="3.4"/><circle cx="1298.3" cy="229.9" r="3.4"/><circle cx="1274.6" cy="194.1" r="3.4"/><circle cx="1270.0" cy="289.9" r="3.4"/><circle cx="1285.0" cy="199.1" r="3.4"/><circle cx="1298.1" cy="327.5" r="3.4"/><circle cx="1266.4" cy="288.7" r="3.4"/><circle cx="1308.1" cy="295.8" r="3.4"/><circle cx="1303.2" cy="180.3" r="3.4"/><circle cx="1298.8" cy="200.5" r="3.4"/><circle cx="1294.5" cy="165.6" r="3.4"/><circle cx="1283.9" cy="302.5" r="3.4"/><circle cx="1303.9" cy="209.0" r="3.4"/><circle cx="1288.7" cy="257.0" r="3.4"/><circle cx="1256.7" cy="283.0" r="3.4"/><circle cx="1303.9" cy="212.6" r="3.4"/><circle cx="1307.7" cy="187.6" r="3.4"/><circle cx="1304.1" cy="242.0" r="3.4"/><circle cx="1289.0" cy="304.7" r="3.4"/><circle cx="1299.1" cy="244.4" r="3.4"/><circle cx="1321.9" cy="218.4" r="3.4"/><circle cx="1302.8" cy="193.9" r="3.4"/><circle cx="1316.7" cy="266.9" r="3.4"/><circle cx="1304.0" cy="320.6" r="3.4"/><circle cx="1294.0" cy="302.2" r="3.4"/><circle cx="1303.4" cy="185.5" r="3.4"/><circle cx="1275.6" cy="278.6" r="3.4"/><circle cx="1303.4" cy="259.5" r="3.4"/><circle cx="1294.3" cy="306.1" r="3.4"/><circle cx="1302.9" cy="255.3" r="3.4"/><circle cx="1260.7" cy="196.3" r="3.4"/><circle cx="1270.1" cy="182.3" r="3.4"/><circle cx="1303.5" cy="311.1" r="3.4"/><circle cx="1299.1" cy="215.0" r="3.4"/><circle cx="1285.2" cy="334.3" r="3.4"/><circle cx="1271.0" cy="239.5" r="3.4"/><circle cx="1303.1" cy="334.5" r="3.4"/><circle cx="1298.4" cy="168.0" r="3.4"/><circle cx="1293.8" cy="335.7" r="3.4"/><circle cx="1312.7" cy="190.0" r="3.4"/><circle cx="1274.4" cy="292.5" r="3.4"/><circle cx="1283.8" cy="269.7" r="3.4"/><circle cx="1265.0" cy="151.3" r="3.4"/><circle cx="1289.5" cy="233.8" r="3.4"/><circle cx="1294.2" cy="255.4" r="3.4"/><circle cx="1289.6" cy="275.5" r="3.4"/><circle cx="1308.9" cy="234.4" r="3.4"/><circle cx="1298.6" cy="186.9" r="3.4"/><circle cx="1285.1" cy="175.0" r="3.4"/><circle cx="1294.4" cy="284.2" r="3.4"/><circle cx="1284.1" cy="227.8" r="3.4"/><circle cx="1280.1" cy="299.5" r="3.4"/><circle cx="1308.9" cy="196.2" r="3.4"/><circle cx="1307.4" cy="314.7" r="3.4"/><circle cx="1304.3" cy="237.3" r="3.4"/><circle cx="1265.9" cy="226.7" r="3.4"/><circle cx="1308.9" cy="211.4" r="3.4"/><circle cx="1280.6" cy="228.8" r="3.4"/><circle cx="1265.4" cy="231.4" r="3.4"/><circle cx="1290.0" cy="261.6" r="3.4"/><circle cx="1275.3" cy="269.6" r="3.4"/><circle cx="1313.2" cy="274.2" r="3.4"/><circle cx="1265.0" cy="212.1" r="3.4"/><circle cx="1321.5" cy="212.6" r="3.4"/><circle cx="1303.4" cy="226.7" r="3.4"/><circle cx="1308.8" cy="192.3" r="3.4"/><circle cx="1312.8" cy="194.0" r="3.4"/><circle cx="1265.6" cy="218.1" r="3.4"/><circle cx="1271.2" cy="163.1" r="3.4"/><circle cx="1270.3" cy="191.8" r="3.4"/><circle cx="1298.3" cy="257.3" r="3.4"/><circle cx="1275.9" cy="218.0" r="3.4"/><circle cx="1312.0" cy="298.0" r="3.4"/><circle cx="1294.4" cy="260.8" r="3.4"/><circle cx="1265.0" cy="119.0" r="3.4"/><circle cx="1284.9" cy="217.5" r="3.4"/><circle cx="1302.8" cy="170.9" r="3.4"/><circle cx="1307.8" cy="270.9" r="3.4"/><circle cx="1307.9" cy="286.2" r="3.4"/><circle cx="1293.5" cy="317.0" r="3.4"/><circle cx="1299.5" cy="239.0" r="3.4"/><circle cx="1294.1" cy="269.6" r="3.4"/><circle cx="1284.3" cy="330.0" r="3.4"/><circle cx="1288.5" cy="252.2" r="3.4"/><circle cx="1294.9" cy="249.8" r="3.4"/><circle cx="1271.3" cy="257.4" r="3.4"/><circle cx="1242.0" cy="96.3" r="3.4"/><circle cx="1293.8" cy="213.0" r="3.4"/><circle cx="1284.0" cy="213.1" r="3.4"/><circle cx="1288.5" cy="215.2" r="3.4"/><circle cx="1303.6" cy="274.8" r="3.4"/><circle cx="1284.5" cy="141.9" r="3.4"/><circle cx="1265.0" cy="109.2" r="3.4"/><circle cx="1290.0" cy="337.7" r="3.4"/><circle cx="1298.8" cy="224.0" r="3.4"/><circle cx="1308.3" cy="248.8" r="3.4"/><circle cx="1289.6" cy="285.3" r="3.4"/><circle cx="1302.8" cy="293.0" r="3.4"/><circle cx="1265.4" cy="297.5" r="3.4"/><circle cx="1307.5" cy="304.1" r="3.4"/><circle cx="1307.4" cy="229.8" r="3.4"/><circle cx="1309.0" cy="220.1" r="3.4"/><circle cx="1299.5" cy="318.6" r="3.4"/><circle cx="1270.0" cy="159.6" r="3.4"/><circle cx="1294.2" cy="204.4" r="3.4"/><circle cx="1265.3" cy="199.2" r="3.4"/><circle cx="1317.6" cy="238.6" r="3.4"/><circle cx="1269.9" cy="323.1" r="3.4"/><circle cx="1303.4" cy="222.5" r="3.4"/><circle cx="1299.3" cy="338.0" r="3.4"/><circle cx="1293.7" cy="246.7" r="3.4"/><circle cx="1299.5" cy="323.6" r="3.4"/><circle cx="1289.7" cy="224.1" r="3.4"/><circle cx="1293.3" cy="311.0" r="3.4"/><circle cx="1317.3" cy="219.3" r="3.4"/><circle cx="1318.0" cy="253.0" r="3.4"/><circle cx="1288.7" cy="272.6" r="3.4"/><circle cx="1269.7" cy="252.7" r="3.4"/><circle cx="1279.5" cy="150.2" r="3.4"/><circle cx="1298.5" cy="205.6" r="3.4"/><circle cx="1303.0" cy="288.1" r="3.4"/><circle cx="1251.6" cy="98.0" r="3.4"/><circle cx="1280.2" cy="169.0" r="3.4"/><circle cx="1308.3" cy="253.1" r="3.4"/><circle cx="1322.9" cy="241.7" r="3.4"/><circle cx="1249.7" cy="106.4" r="3.4"/><circle cx="1266.0" cy="170.1" r="3.4"/><circle cx="1322.7" cy="227.4" r="3.4"/><circle cx="1289.4" cy="220.5" r="3.4"/><circle cx="1307.6" cy="239.2" r="3.4"/><circle cx="1274.7" cy="264.8" r="3.4"/><circle cx="1312.7" cy="269.0" r="3.4"/><circle cx="1280.5" cy="290.8" r="3.4"/><circle cx="1298.0" cy="310.0" r="3.4"/><circle cx="1289.9" cy="239.0" r="3.4"/><circle cx="1304.3" cy="165.3" r="3.4"/><circle cx="1247.3" cy="269.4" r="3.4"/><circle cx="1280.7" cy="252.0" r="3.4"/><circle cx="1290.1" cy="210.8" r="3.4"/><circle cx="1257.0" cy="175.5" r="3.4"/><circle cx="1312.6" cy="216.9" r="3.4"/><circle cx="1279.4" cy="327.9" r="3.4"/><circle cx="1294.5" cy="293.4" r="3.4"/><circle cx="1247.1" cy="208.4" r="3.4"/><circle cx="1312.3" cy="198.8" r="3.4"/><circle cx="1318.2" cy="272.6" r="3.4"/><circle cx="1280.7" cy="183.0" r="3.4"/><circle cx="1313.2" cy="278.0" r="3.4"/><circle cx="1280.6" cy="244.0" r="3.4"/><circle cx="1289.5" cy="229.9" r="3.4"/><circle cx="1318.4" cy="205.2" r="3.4"/><circle cx="1293.7" cy="264.3" r="3.4"/><circle cx="1289.9" cy="318.2" r="3.4"/><circle cx="1276.0" cy="161.9" r="3.4"/><circle cx="1303.7" cy="330.5" r="3.4"/><circle cx="1293.5" cy="278.4" r="3.4"/><circle cx="1289.2" cy="196.6" r="3.4"/><circle cx="1303.4" cy="217.6" r="3.4"/><circle cx="1294.5" cy="176.2" r="3.4"/><circle cx="1312.2" cy="241.3" r="3.4"/><circle cx="1260.8" cy="313.4" r="3.4"/><circle cx="1265.1" cy="237.1" r="3.4"/><circle cx="1299.0" cy="247.3" r="3.4"/><circle cx="1265.3" cy="278.7" r="3.4"/><circle cx="1284.3" cy="240.3" r="3.4"/><circle cx="1275.2" cy="273.4" r="3.4"/><circle cx="1288.6" cy="173.8" r="3.4"/><circle cx="1294.2" cy="221.5" r="3.4"/><circle cx="1275.2" cy="170.8" r="3.4"/><circle cx="1270.1" cy="280.9" r="3.4"/><circle cx="1307.5" cy="173.1" r="3.4"/><circle cx="1247.5" cy="198.2" r="3.4"/><circle cx="1293.6" cy="208.5" r="3.4"/><circle cx="1258.0" cy="124.0" r="3.4"/><circle cx="1280.5" cy="219.5" r="3.4"/><circle cx="1285.1" cy="292.5" r="3.4"/><circle cx="1270.1" cy="211.4" r="3.4"/><circle cx="1316.9" cy="196.1" r="3.4"/><circle cx="1280.3" cy="134.8" r="3.4"/><circle cx="1293.7" cy="230.9" r="3.4"/><circle cx="1318.3" cy="244.0" r="3.4"/><circle cx="1266.7" cy="180.8" r="3.4"/><circle cx="1279.8" cy="173.9" r="3.4"/><circle cx="1280.8" cy="196.0" r="3.4"/><circle cx="1298.4" cy="276.9" r="3.4"/><circle cx="1274.5" cy="241.6" r="3.4"/><circle cx="1280.4" cy="285.1" r="3.4"/><circle cx="1303.8" cy="264.4" r="3.4"/><circle cx="1270.0" cy="186.6" r="3.4"/><circle cx="1283.9" cy="184.4" r="3.4"/><circle cx="1275.8" cy="133.5" r="3.4"/><circle cx="1293.8" cy="171.4" r="3.4"/><circle cx="1307.9" cy="258.2" r="3.4"/><circle cx="1270.5" cy="196.9" r="3.4"/><circle cx="1290.2" cy="266.5" r="3.4"/><circle cx="1318.0" cy="200.3" r="3.4"/><circle cx="1270.8" cy="299.7" r="3.4"/><circle cx="1284.8" cy="316.7" r="3.4"/><circle cx="1269.9" cy="327.2" r="3.4"/><circle cx="1289.6" cy="144.6" r="3.4"/><circle cx="1317.0" cy="229.1" r="3.4"/><circle cx="1303.3" cy="231.0" r="3.4"/><circle cx="1267.4" cy="114.0" r="3.4"/><circle cx="1313.6" cy="183.9" r="3.4"/><circle cx="1247.7" cy="218.1" r="3.4"/><circle cx="1312.9" cy="287.6" r="3.4"/><circle cx="1268.0" cy="118.0" r="3.4"/><circle cx="1289.1" cy="314.0" r="3.4"/><circle cx="1312.7" cy="283.0" r="3.4"/><circle cx="1256.5" cy="306.8" r="3.4"/><circle cx="1294.6" cy="297.2" r="3.4"/><circle cx="1298.2" cy="154.5" r="3.4"/><circle cx="1294.3" cy="235.6" r="3.4"/><circle cx="1285.1" cy="306.9" r="3.4"/><circle cx="1268.5" cy="122.0" r="3.4"/><circle cx="1303.9" cy="203.7" r="3.4"/><circle cx="1257.1" cy="146.3" r="3.4"/><circle cx="1289.3" cy="158.7" r="3.4"/><circle cx="1262.0" cy="148.0" r="3.4"/><circle cx="1285.2" cy="264.5" r="3.4"/><circle cx="1293.4" cy="184.6" r="3.4"/><circle cx="1285.3" cy="278.0" r="3.4"/><circle cx="1289.4" cy="191.1" r="3.4"/><circle cx="1302.8" cy="283.9" r="3.4"/><circle cx="1313.4" cy="231.0" r="3.4"/><circle cx="1299.1" cy="233.7" r="3.4"/><circle cx="1288.6" cy="280.5" r="3.4"/><circle cx="1246.2" cy="231.1" r="3.4"/><circle cx="1304.1" cy="246.7" r="3.4"/><circle cx="1270.0" cy="130.0" r="3.4"/><circle cx="1304.1" cy="270.1" r="3.4"/><circle cx="1299.5" cy="182.7" r="3.4"/><circle cx="1285.1" cy="180.6" r="3.4"/><circle cx="1261.9" cy="201.4" r="3.4"/><circle cx="1288.8" cy="162.9" r="3.4"/><circle cx="1304.2" cy="278.8" r="3.4"/><circle cx="1313.1" cy="249.9" r="3.4"/><circle cx="1280.2" cy="186.8" r="3.4"/><circle cx="1307.8" cy="261.5" r="3.4"/><circle cx="1288.5" cy="201.2" r="3.4"/><circle cx="1270.3" cy="220.8" r="3.4"/><circle cx="1274.9" cy="226.7" r="3.4"/><circle cx="1280.2" cy="318.6" r="3.4"/><circle cx="1279.8" cy="210.7" r="3.4"/><circle cx="1298.6" cy="220.2" r="3.4"/><circle cx="1289.7" cy="186.4" r="3.4"/><circle cx="1312.8" cy="222.1" r="3.4"/><circle cx="1308.5" cy="224.2" r="3.4"/><circle cx="1293.2" cy="331.1" r="3.4"/><circle cx="1250.0" cy="215.0" r="3.4"/><circle cx="1275.2" cy="209.1" r="3.4"/><circle cx="1284.0" cy="274.1" r="3.4"/><circle cx="1294.6" cy="194.5" r="3.4"/><circle cx="1256.9" cy="198.6" r="3.4"/><circle cx="1271.1" cy="143.9" r="3.4"/><circle cx="1247.4" cy="283.4" r="3.4"/><circle cx="1289.8" cy="295.8" r="3.4"/><circle cx="1307.6" cy="201.0" r="3.4"/><circle cx="1280.0" cy="314.4" r="3.4"/><circle cx="1238.0" cy="265.0" r="3.4"/><circle cx="1298.1" cy="261.5" r="3.4"/><circle cx="1260.6" cy="172.4" r="3.4"/><circle cx="1298.6" cy="192.6" r="3.4"/><circle cx="1266.7" cy="222.2" r="3.4"/><circle cx="1317.8" cy="257.6" r="3.4"/><circle cx="1284.3" cy="204.1" r="3.4"/><circle cx="1308.7" cy="323.6" r="3.4"/><circle cx="1266.3" cy="326.5" r="3.4"/><circle cx="1313.1" cy="260.7" r="3.4"/><circle cx="1246.0" cy="248.0" r="3.4"/><circle cx="1270.2" cy="173.8" r="3.4"/><circle cx="1283.2" cy="124.9" r="3.4"/><circle cx="1256.7" cy="104.8" r="3.4"/><circle cx="1294.6" cy="189.2" r="3.4"/><circle cx="1284.2" cy="146.6" r="3.4"/><circle cx="1285.5" cy="208.6" r="3.4"/><circle cx="1294.7" cy="326.2" r="3.4"/><circle cx="1304.3" cy="199.7" r="3.4"/><circle cx="1283.2" cy="129.7" r="3.4"/><circle cx="1294.7" cy="287.6" r="3.4"/><circle cx="1284.8" cy="320.7" r="3.4"/><circle cx="1293.5" cy="217.5" r="3.4"/><circle cx="1322.2" cy="245.8" r="3.4"/><circle cx="1321.6" cy="221.7" r="3.4"/><circle cx="1317.1" cy="187.2" r="3.4"/><circle cx="1265.6" cy="312.1" r="3.4"/><circle cx="1280.0" cy="145.0" r="3.4"/><circle cx="1279.6" cy="304.0" r="3.4"/><circle cx="1261.8" cy="248.9" r="3.4"/><circle cx="1288.5" cy="205.8" r="3.4"/><circle cx="1284.6" cy="245.9" r="3.4"/><circle cx="1283.8" cy="194.6" r="3.4"/><circle cx="1289.1" cy="182.2" r="3.4"/><circle cx="1274.9" cy="301.6" r="3.4"/><circle cx="1312.0" cy="245.3" r="3.4"/><circle cx="1308.5" cy="309.5" r="3.4"/><circle cx="1283.9" cy="237.2" r="3.4"/><circle cx="1270.5" cy="215.1" r="3.4"/><circle cx="1285.2" cy="288.9" r="3.4"/><circle cx="1313.2" cy="203.2" r="3.4"/><circle cx="1280.2" cy="238.3" r="3.4"/><circle cx="1270.5" cy="314.7" r="3.4"/><circle cx="1238.0" cy="338.0" r="3.4"/><circle cx="1256.0" cy="280.0" r="3.4"/><circle cx="1298.0" cy="145.0" r="3.4"/><circle cx="1298.0" cy="148.4" r="3.4"/><circle cx="1298.0" cy="151.8" r="3.4"/><circle cx="1242.5" cy="338.0" r="3.4"/><circle cx="1298.0" cy="155.2" r="3.4"/><circle cx="1298.0" cy="158.6" r="3.4"/><circle cx="1298.0" cy="162.0" r="3.4"/><circle cx="1254.0" cy="310.0" r="3.4"/><circle cx="1247.0" cy="338.0" r="3.4"/><circle cx="1251.5" cy="338.0" r="3.4"/><circle cx="1256.0" cy="338.0" r="3.4"/><circle cx="1260.5" cy="338.0" r="3.4"/><circle cx="1311.0" cy="170.0" r="3.4"/><circle cx="1311.0" cy="173.4" r="3.4"/><circle cx="1311.0" cy="176.9" r="3.4"/><circle cx="1311.0" cy="180.3" r="3.4"/><circle cx="1311.0" cy="183.7" r="3.4"/><circle cx="1265.0" cy="338.0" r="3.4"/><circle cx="1311.0" cy="187.1" r="3.4"/><circle cx="1311.0" cy="190.6" r="3.4"/><circle cx="1311.0" cy="194.0" r="3.4"/><circle cx="1269.5" cy="338.0" r="3.4"/><circle cx="1274.0" cy="338.0" r="3.4"/><circle cx="1278.5" cy="338.0" r="3.4"/><circle cx="1283.0" cy="338.0" r="3.4"/><circle cx="1287.5" cy="338.0" r="3.4"/><circle cx="1292.0" cy="338.0" r="3.4"/><circle cx="1296.5" cy="338.0" r="3.4"/><circle cx="1301.0" cy="338.0" r="3.4"/></g><g class="o"><circle cx="1328.3" cy="230.0" r="3.4"/><circle cx="1324.1" cy="333.3" r="3.4"/><circle cx="1314.6" cy="275.8" r="3.4"/><circle cx="1319.3" cy="297.2" r="3.4"/><circle cx="1323.9" cy="246.7" r="3.4"/><circle cx="1361.6" cy="333.6" r="3.4"/><circle cx="1347.4" cy="331.2" r="3.4"/><circle cx="1323.7" cy="223.3" r="3.4"/><circle cx="1323.4" cy="319.3" r="3.4"/><circle cx="1308.9" cy="331.5" r="3.4"/><circle cx="1308.8" cy="282.9" r="3.4"/><circle cx="1309.2" cy="263.7" r="3.4"/><circle cx="1324.1" cy="295.3" r="3.4"/><circle cx="1333.6" cy="299.8" r="3.4"/><circle cx="1328.7" cy="301.9" r="3.4"/><circle cx="1337.7" cy="283.2" r="3.4"/><circle cx="1319.2" cy="254.6" r="3.4"/><circle cx="1318.3" cy="326.1" r="3.4"/><circle cx="1328.1" cy="331.5" r="3.4"/><circle cx="1309.1" cy="336.1" r="3.4"/><circle cx="1323.4" cy="328.4" r="3.4"/><circle cx="1313.5" cy="300.1" r="3.4"/><circle cx="1338.6" cy="278.4" r="3.4"/><circle cx="1304.8" cy="304.4" r="3.4"/><circle cx="1333.1" cy="238.1" r="3.4"/><circle cx="1304.8" cy="276.1" r="3.4"/><circle cx="1333.0" cy="310.3" r="3.4"/><circle cx="1327.8" cy="255.0" r="3.4"/><circle cx="1318.2" cy="293.0" r="3.4"/><circle cx="1328.9" cy="274.1" r="3.4"/><circle cx="1333.3" cy="319.4" r="3.4"/><circle cx="1328.0" cy="293.5" r="3.4"/><circle cx="1342.4" cy="285.7" r="3.4"/><circle cx="1338.3" cy="263.6" r="3.4"/><circle cx="1309.8" cy="249.1" r="3.4"/><circle cx="1319.3" cy="239.8" r="3.4"/><circle cx="1309.8" cy="302.2" r="3.4"/><circle cx="1319.3" cy="273.2" r="3.4"/><circle cx="1309.1" cy="269.3" r="3.4"/><circle cx="1314.6" cy="256.8" r="3.4"/><circle cx="1337.6" cy="331.4" r="3.4"/><circle cx="1332.9" cy="251.9" r="3.4"/><circle cx="1324.0" cy="314.0" r="3.4"/><circle cx="1314.0" cy="232.3" r="3.4"/><circle cx="1338.4" cy="259.6" r="3.4"/><circle cx="1333.3" cy="295.8" r="3.4"/><circle cx="1304.3" cy="319.6" r="3.4"/><circle cx="1343.3" cy="281.4" r="3.4"/><circle cx="1338.1" cy="335.9" r="3.4"/><circle cx="1309.0" cy="326.5" r="3.4"/><circle cx="1308.8" cy="321.5" r="3.4"/><circle cx="1323.3" cy="252.0" r="3.4"/><circle cx="1352.4" cy="314.5" r="3.4"/><circle cx="1309.2" cy="278.2" r="3.4"/><circle cx="1304.2" cy="338.0" r="3.4"/><circle cx="1352.7" cy="319.7" r="3.4"/><circle cx="1318.8" cy="244.7" r="3.4"/><circle cx="1337.9" cy="287.8" r="3.4"/><circle cx="1318.2" cy="311.6" r="3.4"/><circle cx="1323.8" cy="280.6" r="3.4"/><circle cx="1304.7" cy="271.2" r="3.4"/><circle cx="1357.7" cy="312.3" r="3.4"/><circle cx="1328.3" cy="336.5" r="3.4"/><circle cx="1342.2" cy="276.3" r="3.4"/><circle cx="1323.5" cy="232.5" r="3.4"/><circle cx="1304.7" cy="334.2" r="3.4"/><circle cx="1333.7" cy="275.6" r="3.4"/><circle cx="1333.0" cy="256.6" r="3.4"/><circle cx="1309.2" cy="254.3" r="3.4"/><circle cx="1309.6" cy="307.0" r="3.4"/><circle cx="1352.6" cy="304.4" r="3.4"/><circle cx="1313.5" cy="295.3" r="3.4"/><circle cx="1308.9" cy="234.8" r="3.4"/><circle cx="1362.2" cy="338.0" r="3.4"/><circle cx="1313.8" cy="262.0" r="3.4"/><circle cx="1332.7" cy="338.2" r="3.4"/><circle cx="1323.3" cy="276.1" r="3.4"/><circle cx="1333.0" cy="305.5" r="3.4"/><circle cx="1314.4" cy="314.5" r="3.4"/><circle cx="1328.3" cy="283.1" r="3.4"/><circle cx="1352.0" cy="324.7" r="3.4"/><circle cx="1319.2" cy="322.2" r="3.4"/><circle cx="1356.8" cy="336.3" r="3.4"/><circle cx="1323.3" cy="267.0" r="3.4"/><circle cx="1303.9" cy="247.3" r="3.4"/><circle cx="1309.7" cy="297.8" r="3.4"/><circle cx="1333.4" cy="280.3" r="3.4"/><circle cx="1352.0" cy="299.6" r="3.4"/><circle cx="1318.7" cy="283.4" r="3.4"/><circle cx="1328.3" cy="244.8" r="3.4"/><circle cx="1304.5" cy="242.2" r="3.4"/><circle cx="1308.7" cy="317.4" r="3.4"/><circle cx="1347.3" cy="336.5" r="3.4"/><circle cx="1309.7" cy="240.2" r="3.4"/><circle cx="1314.3" cy="338.1" r="3.4"/><circle cx="1314.0" cy="328.5" r="3.4"/><circle cx="1319.0" cy="307.4" r="3.4"/><circle cx="1328.0" cy="307.2" r="3.4"/><circle cx="1337.6" cy="273.3" r="3.4"/><circle cx="1328.8" cy="235.7" r="3.4"/><circle cx="1333.1" cy="314.5" r="3.4"/><circle cx="1318.4" cy="287.7" r="3.4"/><circle cx="1318.6" cy="331.6" r="3.4"/><circle cx="1304.4" cy="314.0" r="3.4"/><circle cx="1327.9" cy="278.8" r="3.4"/><circle cx="1304.4" cy="252.6" r="3.4"/><circle cx="1352.7" cy="338.2" r="3.4"/><circle cx="1319.2" cy="302.4" r="3.4"/><circle cx="1303.9" cy="280.7" r="3.4"/><circle cx="1342.6" cy="271.7" r="3.4"/><circle cx="1304.8" cy="261.6" r="3.4"/><circle cx="1314.3" cy="304.8" r="3.4"/><circle cx="1328.0" cy="317.3" r="3.4"/><circle cx="1309.2" cy="244.8" r="3.4"/><circle cx="1357.6" cy="330.9" r="3.4"/><circle cx="1304.2" cy="285.8" r="3.4"/><circle cx="1352.5" cy="333.6" r="3.4"/><circle cx="1328.1" cy="221.1" r="3.4"/><circle cx="1356.9" cy="326.4" r="3.4"/><circle cx="1303.8" cy="257.3" r="3.4"/><circle cx="1304.6" cy="329.4" r="3.4"/><circle cx="1309.4" cy="292.8" r="3.4"/><circle cx="1303.9" cy="323.9" r="3.4"/><circle cx="1304.8" cy="309.3" r="3.4"/><circle cx="1323.4" cy="270.9" r="3.4"/><circle cx="1347.8" cy="293.2" r="3.4"/><circle cx="1328.6" cy="288.3" r="3.4"/><circle cx="1323.1" cy="237.5" r="3.4"/><circle cx="1342.4" cy="290.5" r="3.4"/><circle cx="1333.5" cy="329.5" r="3.4"/><circle cx="1323.6" cy="228.3" r="3.4"/><circle cx="1356.8" cy="307.8" r="3.4"/><circle cx="1333.0" cy="333.7" r="3.4"/><circle cx="1338.0" cy="293.4" r="3.4"/><circle cx="1333.4" cy="242.3" r="3.4"/><circle cx="1313.5" cy="323.5" r="3.4"/><circle cx="1328.1" cy="259.3" r="3.4"/><circle cx="1318.3" cy="279.1" r="3.4"/><circle cx="1324.1" cy="300.1" r="3.4"/><circle cx="1328.4" cy="297.9" r="3.4"/><circle cx="1333.7" cy="246.8" r="3.4"/><circle cx="1313.8" cy="319.5" r="3.4"/><circle cx="1313.4" cy="252.0" r="3.4"/><circle cx="1347.3" cy="283.6" r="3.4"/><circle cx="1333.1" cy="285.2" r="3.4"/><circle cx="1319.3" cy="336.5" r="3.4"/><circle cx="1324.0" cy="242.2" r="3.4"/><circle cx="1328.1" cy="240.2" r="3.4"/><circle cx="1313.9" cy="309.1" r="3.4"/><circle cx="1328.3" cy="326.7" r="3.4"/><circle cx="1304.9" cy="295.2" r="3.4"/><circle cx="1343.3" cy="339.1" r="3.4"/><circle cx="1318.5" cy="249.2" r="3.4"/><circle cx="1324.1" cy="285.5" r="3.4"/><circle cx="1304.2" cy="266.5" r="3.4"/><circle cx="1314.1" cy="281.0" r="3.4"/><circle cx="1323.6" cy="323.8" r="3.4"/><circle cx="1314.0" cy="237.9" r="3.4"/><circle cx="1338.2" cy="269.3" r="3.4"/><circle cx="1313.8" cy="242.2" r="3.4"/><circle cx="1323.4" cy="261.9" r="3.4"/><circle cx="1313.8" cy="247.1" r="3.4"/><circle cx="1309.6" cy="288.6" r="3.4"/><circle cx="1318.4" cy="268.5" r="3.4"/><circle cx="1352.0" cy="295.3" r="3.4"/><circle cx="1309.0" cy="312.3" r="3.4"/><circle cx="1347.2" cy="287.7" r="3.4"/><circle cx="1304.2" cy="290.9" r="3.4"/><circle cx="1308.8" cy="259.8" r="3.4"/><circle cx="1328.6" cy="225.4" r="3.4"/><circle cx="1314.4" cy="271.0" r="3.4"/><circle cx="1328.8" cy="250.0" r="3.4"/><circle cx="1328.0" cy="311.9" r="3.4"/><circle cx="1328.0" cy="322.0" r="3.4"/><circle cx="1324.0" cy="291.1" r="3.4"/><circle cx="1357.0" cy="317.2" r="3.4"/><circle cx="1323.6" cy="338.8" r="3.4"/><circle cx="1313.6" cy="285.5" r="3.4"/><circle cx="1351.8" cy="310.2" r="3.4"/><circle cx="1343.2" cy="333.5" r="3.4"/><circle cx="1318.9" cy="264.4" r="3.4"/><circle cx="1319.3" cy="235.8" r="3.4"/><circle cx="1332.9" cy="290.9" r="3.4"/><circle cx="1323.3" cy="305.1" r="3.4"/><circle cx="1323.3" cy="309.4" r="3.4"/><circle cx="1357.4" cy="321.2" r="3.4"/><circle cx="1323.3" cy="256.6" r="3.4"/><circle cx="1337.6" cy="254.7" r="3.4"/><circle cx="1314.3" cy="333.7" r="3.4"/><circle cx="1319.3" cy="258.9" r="3.4"/><circle cx="1333.7" cy="324.5" r="3.4"/><circle cx="1309.7" cy="273.2" r="3.4"/><circle cx="1314.2" cy="266.4" r="3.4"/><circle cx="1318.9" cy="317.1" r="3.4"/><circle cx="1313.9" cy="291.0" r="3.4"/><circle cx="1328.1" cy="263.8" r="3.4"/><circle cx="1352.5" cy="329.0" r="3.4"/><circle cx="1304.7" cy="300.3" r="3.4"/><circle cx="1304.6" cy="237.7" r="3.4"/><circle cx="1473.6" cy="252.3" r="3.4"/><circle cx="1483.3" cy="285.1" r="3.4"/><circle cx="1449.9" cy="240.6" r="3.4"/><circle cx="1407.2" cy="285.6" r="3.4"/><circle cx="1445.4" cy="333.7" r="3.4"/><circle cx="1425.2" cy="324.4" r="3.4"/><circle cx="1469.1" cy="220.5" r="3.4"/><circle cx="1468.4" cy="326.4" r="3.4"/><circle cx="1493.1" cy="309.4" r="3.4"/><circle cx="1444.5" cy="295.6" r="3.4"/><circle cx="1415.9" cy="328.6" r="3.4"/><circle cx="1483.9" cy="232.7" r="3.4"/><circle cx="1406.4" cy="290.4" r="3.4"/><circle cx="1426.0" cy="304.7" r="3.4"/><circle cx="1498.3" cy="278.5" r="3.4"/><circle cx="1449.2" cy="225.9" r="3.4"/><circle cx="1478.0" cy="297.7" r="3.4"/><circle cx="1411.3" cy="307.2" r="3.4"/><circle cx="1459.2" cy="307.4" r="3.4"/><circle cx="1454.4" cy="290.1" r="3.4"/><circle cx="1450.0" cy="316.3" r="3.4"/><circle cx="1487.8" cy="268.6" r="3.4"/><circle cx="1473.9" cy="318.8" r="3.4"/><circle cx="1468.8" cy="302.8" r="3.4"/><circle cx="1454.3" cy="324.0" r="3.4"/><circle cx="1426.1" cy="262.2" r="3.4"/><circle cx="1434.9" cy="285.7" r="3.4"/><circle cx="1488.0" cy="225.8" r="3.4"/><circle cx="1474.1" cy="261.3" r="3.4"/><circle cx="1492.6" cy="324.2" r="3.4"/><circle cx="1435.5" cy="314.6" r="3.4"/><circle cx="1460.0" cy="292.5" r="3.4"/><circle cx="1401.9" cy="283.0" r="3.4"/><circle cx="1416.4" cy="299.6" r="3.4"/><circle cx="1498.3" cy="297.3" r="3.4"/><circle cx="1473.9" cy="208.3" r="3.4"/><circle cx="1440.0" cy="230.1" r="3.4"/><circle cx="1455.0" cy="257.0" r="3.4"/><circle cx="1444.4" cy="319.3" r="3.4"/><circle cx="1450.1" cy="274.0" r="3.4"/><circle cx="1488.8" cy="234.7" r="3.4"/><circle cx="1478.8" cy="259.3" r="3.4"/><circle cx="1479.2" cy="221.4" r="3.4"/><circle cx="1435.4" cy="295.4" r="3.4"/><circle cx="1431.2" cy="221.1" r="3.4"/><circle cx="1488.6" cy="312.5" r="3.4"/><circle cx="1483.0" cy="218.6" r="3.4"/><circle cx="1439.6" cy="335.9" r="3.4"/><circle cx="1392.7" cy="322.2" r="3.4"/><circle cx="1468.7" cy="331.8" r="3.4"/><circle cx="1469.3" cy="269.4" r="3.4"/><circle cx="1463.8" cy="324.2" r="3.4"/><circle cx="1402.1" cy="288.2" r="3.4"/><circle cx="1459.2" cy="264.6" r="3.4"/><circle cx="1449.8" cy="244.6" r="3.4"/><circle cx="1488.3" cy="336.5" r="3.4"/><circle cx="1435.9" cy="304.5" r="3.4"/><circle cx="1425.3" cy="328.4" r="3.4"/><circle cx="1459.7" cy="326.7" r="3.4"/><circle cx="1391.9" cy="293.0" r="3.4"/><circle cx="1468.6" cy="240.3" r="3.4"/><circle cx="1473.7" cy="323.7" r="3.4"/><circle cx="1473.8" cy="315.0" r="3.4"/><circle cx="1468.6" cy="245.4" r="3.4"/><circle cx="1469.5" cy="216.4" r="3.4"/><circle cx="1391.8" cy="306.9" r="3.4"/><circle cx="1445.4" cy="218.4" r="3.4"/><circle cx="1439.6" cy="293.2" r="3.4"/><circle cx="1387.2" cy="333.3" r="3.4"/><circle cx="1464.5" cy="252.2" r="3.4"/><circle cx="1478.1" cy="278.3" r="3.4"/><circle cx="1411.4" cy="239.8" r="3.4"/><circle cx="1473.8" cy="275.8" r="3.4"/><circle cx="1468.6" cy="234.7" r="3.4"/><circle cx="1493.4" cy="252.3" r="3.4"/><circle cx="1440.3" cy="268.8" r="3.4"/><circle cx="1488.2" cy="264.5" r="3.4"/><circle cx="1416.5" cy="275.8" r="3.4"/><circle cx="1420.7" cy="249.5" r="3.4"/><circle cx="1430.9" cy="278.1" r="3.4"/><circle cx="1434.9" cy="280.8" r="3.4"/><circle cx="1444.8" cy="329.5" r="3.4"/><circle cx="1478.1" cy="321.3" r="3.4"/><circle cx="1479.1" cy="331.2" r="3.4"/><circle cx="1426.2" cy="276.4" r="3.4"/><circle cx="1473.7" cy="232.4" r="3.4"/><circle cx="1449.7" cy="269.3" r="3.4"/><circle cx="1420.5" cy="306.8" r="3.4"/><circle cx="1420.7" cy="221.0" r="3.4"/><circle cx="1488.0" cy="297.8" r="3.4"/><circle cx="1497.2" cy="317.0" r="3.4"/><circle cx="1421.3" cy="274.0" r="3.4"/><circle cx="1492.8" cy="315.0" r="3.4"/><circle cx="1387.1" cy="329.1" r="3.4"/><circle cx="1479.1" cy="216.6" r="3.4"/><circle cx="1474.1" cy="285.6" r="3.4"/><circle cx="1459.4" cy="235.8" r="3.4"/><circle cx="1474.2" cy="271.8" r="3.4"/><circle cx="1411.5" cy="244.8" r="3.4"/><circle cx="1440.4" cy="326.7" r="3.4"/><circle cx="1478.0" cy="234.8" r="3.4"/><circle cx="1445.2" cy="300.5" r="3.4"/><circle cx="1473.7" cy="218.4" r="3.4"/><circle cx="1449.4" cy="312.0" r="3.4"/><circle cx="1492.5" cy="319.3" r="3.4"/><circle cx="1444.8" cy="285.2" r="3.4"/><circle cx="1488.5" cy="321.7" r="3.4"/><circle cx="1425.3" cy="314.4" r="3.4"/><circle cx="1483.4" cy="252.4" r="3.4"/><circle cx="1415.9" cy="242.9" r="3.4"/><circle cx="1431.0" cy="225.7" r="3.4"/><circle cx="1440.8" cy="235.8" r="3.4"/><circle cx="1391.6" cy="336.4" r="3.4"/><circle cx="1430.7" cy="307.6" r="3.4"/><circle cx="1435.3" cy="275.9" r="3.4"/><circle cx="1411.5" cy="331.1" r="3.4"/><circle cx="1487.6" cy="244.5" r="3.4"/><circle cx="1459.1" cy="273.3" r="3.4"/><circle cx="1463.8" cy="329.2" r="3.4"/><circle cx="1450.2" cy="326.9" r="3.4"/><circle cx="1478.0" cy="264.6" r="3.4"/><circle cx="1450.0" cy="278.9" r="3.4"/><circle cx="1440.6" cy="221.0" r="3.4"/><circle cx="1482.9" cy="333.7" r="3.4"/><circle cx="1431.1" cy="321.7" r="3.4"/><circle cx="1464.2" cy="305.2" r="3.4"/><circle cx="1444.6" cy="276.7" r="3.4"/><circle cx="1430.7" cy="330.9" r="3.4"/><circle cx="1444.9" cy="290.9" r="3.4"/><circle cx="1411.7" cy="336.2" r="3.4"/><circle cx="1450.2" cy="234.9" r="3.4"/><circle cx="1440.7" cy="278.2" r="3.4"/><circle cx="1455.2" cy="270.7" r="3.4"/><circle cx="1478.5" cy="307.5" r="3.4"/><circle cx="1493.6" cy="271.6" r="3.4"/><circle cx="1449.2" cy="216.7" r="3.4"/><circle cx="1445.6" cy="261.8" r="3.4"/><circle cx="1392.2" cy="317.0" r="3.4"/><circle cx="1440.5" cy="287.6" r="3.4"/><circle cx="1464.5" cy="309.4" r="3.4"/><circle cx="1420.7" cy="244.9" r="3.4"/><circle cx="1497.9" cy="283.1" r="3.4"/><circle cx="1459.9" cy="259.0" r="3.4"/><circle cx="1497.9" cy="326.8" r="3.4"/><circle cx="1415.8" cy="334.3" r="3.4"/><circle cx="1497.3" cy="330.7" r="3.4"/><circle cx="1463.6" cy="338.3" r="3.4"/><circle cx="1407.1" cy="280.9" r="3.4"/><circle cx="1396.7" cy="285.8" r="3.4"/><circle cx="1483.3" cy="324.5" r="3.4"/><circle cx="1450.0" cy="306.7" r="3.4"/><circle cx="1488.5" cy="288.1" r="3.4"/><circle cx="1445.5" cy="257.0" r="3.4"/><circle cx="1487.7" cy="331.7" r="3.4"/><circle cx="1406.8" cy="261.8" r="3.4"/><circle cx="1416.3" cy="304.9" r="3.4"/><circle cx="1488.2" cy="230.8" r="3.4"/><circle cx="1474.1" cy="294.8" r="3.4"/><circle cx="1459.8" cy="269.3" r="3.4"/><circle cx="1483.7" cy="304.5" r="3.4"/><circle cx="1387.1" cy="309.7" r="3.4"/><circle cx="1421.1" cy="230.6" r="3.4"/><circle cx="1435.8" cy="319.1" r="3.4"/><circle cx="1406.3" cy="276.1" r="3.4"/><circle cx="1449.9" cy="331.2" r="3.4"/><circle cx="1444.6" cy="267.1" r="3.4"/><circle cx="1396.8" cy="281.0" r="3.4"/><circle cx="1483.1" cy="300.4" r="3.4"/><circle cx="1469.0" cy="283.8" r="3.4"/><circle cx="1493.5" cy="276.4" r="3.4"/><circle cx="1459.6" cy="278.7" r="3.4"/><circle cx="1463.6" cy="290.2" r="3.4"/><circle cx="1407.2" cy="314.5" r="3.4"/><circle cx="1454.5" cy="314.0" r="3.4"/><circle cx="1459.5" cy="249.7" r="3.4"/><circle cx="1449.2" cy="264.3" r="3.4"/><circle cx="1478.1" cy="211.2" r="3.4"/><circle cx="1434.9" cy="324.4" r="3.4"/><circle cx="1397.1" cy="329.2" r="3.4"/><circle cx="1425.7" cy="252.0" r="3.4"/><circle cx="1455.1" cy="237.8" r="3.4"/><circle cx="1407.1" cy="257.4" r="3.4"/><circle cx="1454.3" cy="275.6" r="3.4"/><circle cx="1440.7" cy="307.2" r="3.4"/><circle cx="1435.8" cy="338.7" r="3.4"/><circle cx="1464.3" cy="295.2" r="3.4"/><circle cx="1430.9" cy="263.9" r="3.4"/><circle cx="1498.0" cy="312.0" r="3.4"/><circle cx="1440.2" cy="249.2" r="3.4"/><circle cx="1449.4" cy="220.4" r="3.4"/><circle cx="1439.9" cy="254.0" r="3.4"/><circle cx="1444.9" cy="223.6" r="3.4"/><circle cx="1479.1" cy="326.0" r="3.4"/><circle cx="1401.9" cy="326.5" r="3.4"/><circle cx="1492.5" cy="295.0" r="3.4"/><circle cx="1402.4" cy="273.8" r="3.4"/><circle cx="1411.9" cy="312.4" r="3.4"/><circle cx="1435.3" cy="227.6" r="3.4"/><circle cx="1430.7" cy="326.2" r="3.4"/><circle cx="1482.9" cy="280.9" r="3.4"/><circle cx="1406.3" cy="299.6" r="3.4"/><circle cx="1473.2" cy="304.4" r="3.4"/><circle cx="1397.2" cy="323.6" r="3.4"/><circle cx="1464.4" cy="257.1" r="3.4"/><circle cx="1482.8" cy="256.8" r="3.4"/><circle cx="1449.8" cy="229.9" r="3.4"/><circle cx="1449.6" cy="293.1" r="3.4"/><circle cx="1450.4" cy="321.2" r="3.4"/><circle cx="1459.6" cy="335.6" r="3.4"/><circle cx="1415.8" cy="246.8" r="3.4"/><circle cx="1430.6" cy="316.9" r="3.4"/><circle cx="1468.5" cy="307.9" r="3.4"/><circle cx="1455.1" cy="242.1" r="3.4"/><circle cx="1468.9" cy="312.7" r="3.4"/><circle cx="1498.4" cy="287.7" r="3.4"/><circle cx="1406.4" cy="318.8" r="3.4"/><circle cx="1469.4" cy="211.6" r="3.4"/><circle cx="1397.2" cy="334.0" r="3.4"/><circle cx="1492.5" cy="338.5" r="3.4"/><circle cx="1455.0" cy="295.0" r="3.4"/><circle cx="1425.9" cy="338.1" r="3.4"/><circle cx="1478.5" cy="250.2" r="3.4"/><circle cx="1474.4" cy="333.4" r="3.4"/><circle cx="1387.5" cy="305.0" r="3.4"/><circle cx="1484.0" cy="270.8" r="3.4"/><circle cx="1469.1" cy="287.5" r="3.4"/><circle cx="1454.1" cy="310.3" r="3.4"/><circle cx="1406.9" cy="333.3" r="3.4"/><circle cx="1460.0" cy="311.7" r="3.4"/><circle cx="1416.8" cy="309.3" r="3.4"/><circle cx="1487.7" cy="273.6" r="3.4"/><circle cx="1488.0" cy="278.1" r="3.4"/><circle cx="1478.1" cy="283.9" r="3.4"/><circle cx="1454.3" cy="227.9" r="3.4"/><circle cx="1444.8" cy="228.4" r="3.4"/><circle cx="1473.8" cy="256.8" r="3.4"/><circle cx="1392.5" cy="327.1" r="3.4"/><circle cx="1483.3" cy="338.1" r="3.4"/><circle cx="1454.8" cy="333.1" r="3.4"/><circle cx="1425.7" cy="257.3" r="3.4"/><circle cx="1473.9" cy="265.9" r="3.4"/><circle cx="1445.2" cy="304.6" r="3.4"/><circle cx="1445.6" cy="232.3" r="3.4"/><circle cx="1445.3" cy="242.0" r="3.4"/><circle cx="1487.9" cy="293.1" r="3.4"/><circle cx="1421.1" cy="282.8" r="3.4"/><circle cx="1473.2" cy="290.4" r="3.4"/><circle cx="1406.0" cy="329.0" r="3.4"/><circle cx="1431.1" cy="336.4" r="3.4"/><circle cx="1439.8" cy="283.5" r="3.4"/><circle cx="1464.2" cy="318.9" r="3.4"/><circle cx="1406.2" cy="309.6" r="3.4"/><circle cx="1396.9" cy="304.4" r="3.4"/><circle cx="1397.6" cy="266.2" r="3.4"/><circle cx="1411.9" cy="327.1" r="3.4"/><circle cx="1498.3" cy="321.6" r="3.4"/><circle cx="1416.1" cy="295.7" r="3.4"/><circle cx="1454.5" cy="319.8" r="3.4"/><circle cx="1426.0" cy="237.8" r="3.4"/><circle cx="1469.6" cy="278.6" r="3.4"/><circle cx="1416.3" cy="237.8" r="3.4"/><circle cx="1479.2" cy="287.9" r="3.4"/><circle cx="1425.6" cy="233.5" r="3.4"/><circle cx="1406.8" cy="251.8" r="3.4"/><circle cx="1454.3" cy="246.9" r="3.4"/><circle cx="1444.9" cy="314.9" r="3.4"/><circle cx="1455.1" cy="222.8" r="3.4"/><circle cx="1439.9" cy="298.2" r="3.4"/><circle cx="1464.5" cy="333.7" r="3.4"/><circle cx="1474.1" cy="243.0" r="3.4"/><circle cx="1469.5" cy="249.7" r="3.4"/><circle cx="1478.1" cy="269.4" r="3.4"/><circle cx="1435.8" cy="266.5" r="3.4"/><circle cx="1391.6" cy="279.0" r="3.4"/><circle cx="1473.6" cy="299.6" r="3.4"/><circle cx="1431.1" cy="302.1" r="3.4"/><circle cx="1469.2" cy="293.5" r="3.4"/><circle cx="1397.0" cy="309.3" r="3.4"/><circle cx="1455.1" cy="338.8" r="3.4"/><circle cx="1478.5" cy="311.7" r="3.4"/><circle cx="1488.2" cy="254.1" r="3.4"/><circle cx="1411.3" cy="263.6" r="3.4"/><circle cx="1420.6" cy="258.8" r="3.4"/><circle cx="1444.8" cy="251.9" r="3.4"/><circle cx="1497.4" cy="274.2" r="3.4"/><circle cx="1483.4" cy="247.4" r="3.4"/><circle cx="1430.6" cy="298.1" r="3.4"/><circle cx="1459.9" cy="244.8" r="3.4"/><circle cx="1468.5" cy="259.4" r="3.4"/><circle cx="1463.6" cy="300.5" r="3.4"/><circle cx="1473.4" cy="309.9" r="3.4"/><circle cx="1483.4" cy="267.0" r="3.4"/><circle cx="1435.3" cy="233.5" r="3.4"/><circle cx="1449.7" cy="283.1" r="3.4"/><circle cx="1411.1" cy="316.9" r="3.4"/><circle cx="1445.2" cy="247.6" r="3.4"/><circle cx="1487.9" cy="303.0" r="3.4"/><circle cx="1435.6" cy="257.5" r="3.4"/><circle cx="1412.0" cy="282.9" r="3.4"/><circle cx="1425.3" cy="218.3" r="3.4"/><circle cx="1487.7" cy="240.3" r="3.4"/><circle cx="1449.3" cy="254.3" r="3.4"/><circle cx="1484.0" cy="290.7" r="3.4"/><circle cx="1397.1" cy="299.6" r="3.4"/><circle cx="1482.9" cy="237.5" r="3.4"/><circle cx="1430.1" cy="216.1" r="3.4"/><circle cx="1386.8" cy="324.7" r="3.4"/><circle cx="1421.5" cy="321.3" r="3.4"/><circle cx="1468.6" cy="322.1" r="3.4"/><circle cx="1478.9" cy="292.8" r="3.4"/><circle cx="1392.3" cy="288.6" r="3.4"/><circle cx="1464.1" cy="238.1" r="3.4"/><circle cx="1430.6" cy="268.4" r="3.4"/><circle cx="1430.5" cy="259.5" r="3.4"/><circle cx="1416.6" cy="324.5" r="3.4"/><circle cx="1473.7" cy="280.6" r="3.4"/><circle cx="1497.8" cy="292.6" r="3.4"/><circle cx="1391.6" cy="302.4" r="3.4"/><circle cx="1411.0" cy="259.3" r="3.4"/><circle cx="1397.5" cy="338.2" r="3.4"/><circle cx="1459.3" cy="239.9" r="3.4"/><circle cx="1454.6" cy="218.9" r="3.4"/><circle cx="1459.3" cy="283.1" r="3.4"/><circle cx="1397.3" cy="271.2" r="3.4"/><circle cx="1468.8" cy="207.0" r="3.4"/><circle cx="1406.3" cy="305.2" r="3.4"/><circle cx="1416.1" cy="286.2" r="3.4"/><circle cx="1411.5" cy="235.3" r="3.4"/><circle cx="1478.6" cy="273.5" r="3.4"/><circle cx="1430.0" cy="311.7" r="3.4"/><circle cx="1479.1" cy="254.9" r="3.4"/><circle cx="1459.3" cy="331.6" r="3.4"/><circle cx="1463.8" cy="266.9" r="3.4"/><circle cx="1439.8" cy="264.2" r="3.4"/><circle cx="1483.9" cy="314.2" r="3.4"/><circle cx="1483.0" cy="261.9" r="3.4"/><circle cx="1401.6" cy="317.1" r="3.4"/><circle cx="1406.1" cy="338.2" r="3.4"/><circle cx="1488.6" cy="326.7" r="3.4"/><circle cx="1401.4" cy="302.5" r="3.4"/><circle cx="1392.5" cy="283.1" r="3.4"/><circle cx="1397.2" cy="319.1" r="3.4"/><circle cx="1421.4" cy="303.0" r="3.4"/><circle cx="1420.6" cy="312.0" r="3.4"/><circle cx="1434.9" cy="299.6" r="3.4"/><circle cx="1435.4" cy="291.0" r="3.4"/><circle cx="1488.7" cy="307.4" r="3.4"/><circle cx="1440.6" cy="259.5" r="3.4"/><circle cx="1421.3" cy="326.7" r="3.4"/><circle cx="1483.5" cy="309.5" r="3.4"/><circle cx="1493.4" cy="305.5" r="3.4"/><circle cx="1483.1" cy="228.1" r="3.4"/><circle cx="1449.8" cy="258.9" r="3.4"/><circle cx="1454.8" cy="305.0" r="3.4"/><circle cx="1401.7" cy="254.5" r="3.4"/><circle cx="1473.4" cy="328.3" r="3.4"/><circle cx="1406.9" cy="323.6" r="3.4"/><circle cx="1440.1" cy="321.2" r="3.4"/><circle cx="1416.3" cy="314.8" r="3.4"/><circle cx="1488.6" cy="249.4" r="3.4"/><circle cx="1431.2" cy="239.8" r="3.4"/><circle cx="1478.9" cy="336.2" r="3.4"/><circle cx="1483.5" cy="242.7" r="3.4"/><circle cx="1445.4" cy="271.0" r="3.4"/><circle cx="1396.8" cy="276.5" r="3.4"/><circle cx="1431.2" cy="287.6" r="3.4"/><circle cx="1478.4" cy="240.6" r="3.4"/><circle cx="1478.8" cy="303.0" r="3.4"/><circle cx="1411.2" cy="298.2" r="3.4"/><circle cx="1454.8" cy="266.8" r="3.4"/><circle cx="1445.4" cy="281.2" r="3.4"/><circle cx="1411.8" cy="292.7" r="3.4"/><circle cx="1479.0" cy="244.9" r="3.4"/><circle cx="1430.0" cy="273.9" r="3.4"/><circle cx="1440.5" cy="331.2" r="3.4"/><circle cx="1468.5" cy="230.2" r="3.4"/><circle cx="1421.4" cy="225.7" r="3.4"/><circle cx="1454.2" cy="328.7" r="3.4"/><circle cx="1415.8" cy="338.1" r="3.4"/><circle cx="1416.1" cy="266.6" r="3.4"/><circle cx="1458.9" cy="302.0" r="3.4"/><circle cx="1464.4" cy="223.4" r="3.4"/><circle cx="1492.7" cy="328.9" r="3.4"/><circle cx="1463.9" cy="315.0" r="3.4"/><circle cx="1401.2" cy="306.8" r="3.4"/><circle cx="1425.6" cy="309.9" r="3.4"/><circle cx="1411.2" cy="302.7" r="3.4"/><circle cx="1498.0" cy="302.3" r="3.4"/><circle cx="1469.2" cy="336.6" r="3.4"/><circle cx="1392.6" cy="298.2" r="3.4"/><circle cx="1401.7" cy="321.2" r="3.4"/><circle cx="1474.1" cy="338.1" r="3.4"/><circle cx="1440.8" cy="244.9" r="3.4"/><circle cx="1435.6" cy="334.2" r="3.4"/><circle cx="1439.6" cy="316.7" r="3.4"/><circle cx="1435.7" cy="251.6" r="3.4"/><circle cx="1464.2" cy="271.7" r="3.4"/><circle cx="1397.0" cy="290.1" r="3.4"/><circle cx="1436.0" cy="261.2" r="3.4"/><circle cx="1435.9" cy="329.4" r="3.4"/><circle cx="1444.4" cy="238.3" r="3.4"/><circle cx="1449.3" cy="302.9" r="3.4"/><circle cx="1459.5" cy="317.5" r="3.4"/><circle cx="1435.3" cy="271.9" r="3.4"/><circle cx="1473.7" cy="247.1" r="3.4"/><circle cx="1406.0" cy="266.1" r="3.4"/><circle cx="1440.3" cy="226.1" r="3.4"/><circle cx="1402.3" cy="336.4" r="3.4"/><circle cx="1468.8" cy="273.6" r="3.4"/><circle cx="1416.7" cy="271.0" r="3.4"/><circle cx="1392.2" cy="330.8" r="3.4"/><circle cx="1439.9" cy="302.7" r="3.4"/><circle cx="1420.8" cy="278.0" r="3.4"/><circle cx="1410.9" cy="322.1" r="3.4"/><circle cx="1493.4" cy="256.7" r="3.4"/><circle cx="1407.2" cy="294.8" r="3.4"/><circle cx="1458.9" cy="254.3" r="3.4"/><circle cx="1474.2" cy="213.5" r="3.4"/><circle cx="1435.3" cy="222.8" r="3.4"/><circle cx="1396.4" cy="295.3" r="3.4"/><circle cx="1454.8" cy="281.5" r="3.4"/><circle cx="1440.6" cy="273.5" r="3.4"/><circle cx="1450.1" cy="336.2" r="3.4"/><circle cx="1497.4" cy="268.5" r="3.4"/><circle cx="1492.5" cy="247.1" r="3.4"/><circle cx="1497.8" cy="336.5" r="3.4"/><circle cx="1415.6" cy="252.5" r="3.4"/><circle cx="1493.3" cy="333.8" r="3.4"/><circle cx="1478.6" cy="317.5" r="3.4"/><circle cx="1401.4" cy="312.0" r="3.4"/><circle cx="1493.0" cy="266.4" r="3.4"/><circle cx="1401.6" cy="331.0" r="3.4"/><circle cx="1493.3" cy="299.7" r="3.4"/><circle cx="1411.9" cy="288.2" r="3.4"/><circle cx="1401.7" cy="297.4" r="3.4"/><circle cx="1483.9" cy="329.5" r="3.4"/><circle cx="1425.6" cy="281.2" r="3.4"/><circle cx="1421.5" cy="335.7" r="3.4"/><circle cx="1415.9" cy="290.0" r="3.4"/><circle cx="1492.9" cy="242.7" r="3.4"/><circle cx="1478.7" cy="230.4" r="3.4"/><circle cx="1488.0" cy="283.1" r="3.4"/><circle cx="1454.1" cy="233.0" r="3.4"/><circle cx="1493.0" cy="262.0" r="3.4"/><circle cx="1454.3" cy="285.6" r="3.4"/><circle cx="1425.9" cy="266.0" r="3.4"/><circle cx="1483.4" cy="275.7" r="3.4"/><circle cx="1411.4" cy="268.5" r="3.4"/><circle cx="1440.3" cy="240.3" r="3.4"/><circle cx="1449.6" cy="288.4" r="3.4"/><circle cx="1473.2" cy="238.0" r="3.4"/><circle cx="1474.2" cy="223.4" r="3.4"/><circle cx="1421.2" cy="331.8" r="3.4"/><circle cx="1459.8" cy="287.9" r="3.4"/><circle cx="1435.6" cy="247.2" r="3.4"/><circle cx="1488.0" cy="259.4" r="3.4"/><circle cx="1464.5" cy="261.5" r="3.4"/><circle cx="1469.3" cy="225.7" r="3.4"/><circle cx="1402.2" cy="292.9" r="3.4"/><circle cx="1468.7" cy="254.5" r="3.4"/><circle cx="1387.9" cy="314.7" r="3.4"/><circle cx="1430.8" cy="282.8" r="3.4"/><circle cx="1464.3" cy="285.3" r="3.4"/><circle cx="1483.2" cy="319.8" r="3.4"/><circle cx="1454.7" cy="251.9" r="3.4"/><circle cx="1435.7" cy="218.3" r="3.4"/><circle cx="1387.5" cy="338.5" r="3.4"/><circle cx="1440.3" cy="311.8" r="3.4"/><circle cx="1415.8" cy="319.0" r="3.4"/><circle cx="1449.9" cy="249.4" r="3.4"/><circle cx="1449.8" cy="297.8" r="3.4"/><circle cx="1468.9" cy="297.1" r="3.4"/><circle cx="1459.7" cy="321.8" r="3.4"/><circle cx="1483.9" cy="223.9" r="3.4"/><circle cx="1469.0" cy="316.4" r="3.4"/><circle cx="1492.8" cy="280.9" r="3.4"/><circle cx="1492.6" cy="289.9" r="3.4"/><circle cx="1401.3" cy="259.0" r="3.4"/><circle cx="1396.8" cy="314.0" r="3.4"/><circle cx="1464.7" cy="227.6" r="3.4"/><circle cx="1445.2" cy="323.6" r="3.4"/><circle cx="1497.3" cy="307.8" r="3.4"/><circle cx="1435.2" cy="309.6" r="3.4"/><circle cx="1391.9" cy="311.9" r="3.4"/><circle cx="1421.0" cy="254.9" r="3.4"/><circle cx="1454.3" cy="300.3" r="3.4"/><circle cx="1473.6" cy="227.7" r="3.4"/><circle cx="1463.9" cy="281.5" r="3.4"/><circle cx="1483.8" cy="294.8" r="3.4"/><circle cx="1469.1" cy="264.6" r="3.4"/><circle cx="1463.8" cy="243.1" r="3.4"/><circle cx="1464.8" cy="276.6" r="3.4"/><circle cx="1445.1" cy="309.7" r="3.4"/><circle cx="1401.5" cy="278.5" r="3.4"/><circle cx="1478.4" cy="225.2" r="3.4"/><circle cx="1459.5" cy="297.3" r="3.4"/><circle cx="1455.0" cy="261.2" r="3.4"/><circle cx="1425.9" cy="333.7" r="3.4"/><circle cx="1445.3" cy="338.5" r="3.4"/><circle cx="1487.7" cy="316.4" r="3.4"/><circle cx="1387.5" cy="319.3" r="3.4"/><circle cx="1425.4" cy="319.0" r="3.4"/><circle cx="1463.6" cy="247.3" r="3.4"/><circle cx="1492.9" cy="286.0" r="3.4"/><circle cx="1430.8" cy="245.0" r="3.4"/><circle cx="1420.5" cy="317.4" r="3.4"/><circle cx="1539.4" cy="334.3" r="3.4"/><circle cx="1544.2" cy="324.6" r="3.4"/><circle cx="1526.9" cy="329.1" r="3.4"/><circle cx="1514.6" cy="330.5" r="3.4"/><circle cx="1544.4" cy="336.6" r="3.4"/><circle cx="1518.0" cy="324.1" r="3.4"/><circle cx="1523.1" cy="318.5" r="3.4"/><circle cx="1526.6" cy="336.8" r="3.4"/><circle cx="1523.2" cy="331.0" r="3.4"/><circle cx="1552.3" cy="336.4" r="3.4"/><circle cx="1536.1" cy="336.8" r="3.4"/><circle cx="1522.5" cy="326.1" r="3.4"/><circle cx="1539.5" cy="338.1" r="3.4"/><circle cx="1539.8" cy="326.4" r="3.4"/><circle cx="1531.5" cy="330.9" r="3.4"/><circle cx="1518.2" cy="321.1" r="3.4"/><circle cx="1552.7" cy="332.6" r="3.4"/><circle cx="1548.7" cy="330.6" r="3.4"/><circle cx="1527.4" cy="332.8" r="3.4"/><circle cx="1540.3" cy="330.6" r="3.4"/><circle cx="1513.9" cy="338.4" r="3.4"/><circle cx="1531.1" cy="338.8" r="3.4"/><circle cx="1544.6" cy="320.8" r="3.4"/><circle cx="1535.2" cy="328.3" r="3.4"/><circle cx="1543.8" cy="333.0" r="3.4"/><circle cx="1544.7" cy="328.5" r="3.4"/><circle cx="1522.5" cy="338.8" r="3.4"/><circle cx="1549.1" cy="338.8" r="3.4"/><circle cx="1518.9" cy="335.9" r="3.4"/><circle cx="1527.0" cy="324.6" r="3.4"/><circle cx="1549.0" cy="326.0" r="3.4"/><circle cx="1552.3" cy="321.0" r="3.4"/><circle cx="1552.3" cy="324.1" r="3.4"/><circle cx="1552.5" cy="327.9" r="3.4"/><circle cx="1549.1" cy="322.1" r="3.4"/><circle cx="1513.9" cy="322.6" r="3.4"/><circle cx="1526.7" cy="320.7" r="3.4"/><circle cx="1531.6" cy="326.9" r="3.4"/><circle cx="1535.7" cy="332.0" r="3.4"/><circle cx="1514.0" cy="334.5" r="3.4"/><circle cx="1540.1" cy="322.7" r="3.4"/><circle cx="1523.0" cy="322.8" r="3.4"/><circle cx="1530.8" cy="334.8" r="3.4"/><circle cx="1543.8" cy="317.1" r="3.4"/><circle cx="1514.6" cy="326.7" r="3.4"/><circle cx="1518.2" cy="332.3" r="3.4"/><circle cx="1548.0" cy="318.3" r="3.4"/><circle cx="1523.3" cy="334.7" r="3.4"/><circle cx="1518.8" cy="328.4" r="3.4"/><circle cx="1548.6" cy="334.2" r="3.4"/><circle cx="1535.0" cy="162.0" r="3.4"/><circle cx="1549.0" cy="122.0" r="3.4"/><circle cx="1535.8" cy="166.2" r="3.4"/><circle cx="1549.6" cy="125.8" r="3.4"/><circle cx="1536.6" cy="170.4" r="3.4"/><circle cx="1524.0" cy="214.0" r="3.4"/><circle cx="1550.2" cy="129.6" r="3.4"/><circle cx="1537.4" cy="174.6" r="3.4"/><circle cx="1525.2" cy="218.2" r="3.4"/><circle cx="1550.8" cy="133.4" r="3.4"/><circle cx="1538.2" cy="178.8" r="3.4"/><circle cx="1551.4" cy="137.2" r="3.4"/><circle cx="1526.5" cy="222.5" r="3.4"/><circle cx="1565.5" cy="94.0" r="3.4"/><circle cx="1539.0" cy="183.0" r="3.4"/><circle cx="1552.0" cy="141.0" r="3.4"/><circle cx="1565.9" cy="98.0" r="3.4"/><circle cx="1527.8" cy="226.8" r="3.4"/><circle cx="1566.2" cy="102.0" r="3.4"/><circle cx="1529.0" cy="231.0" r="3.4"/><circle cx="1566.6" cy="106.0" r="3.4"/><circle cx="1516.5" cy="273.5" r="3.4"/><circle cx="1567.0" cy="110.0" r="3.4"/><circle cx="1519.0" cy="277.3" r="3.4"/><circle cx="1608.2" cy="316.2" r="3.4"/><circle cx="1608.5" cy="324.2" r="3.4"/><circle cx="1521.5" cy="281.2" r="3.4"/><circle cx="1584.0" cy="77.5" r="3.4"/><circle cx="1603.8" cy="326.3" r="3.4"/><circle cx="1584.0" cy="82.8" r="3.4"/><circle cx="1524.0" cy="285.0" r="3.4"/><circle cx="1621.7" cy="334.1" r="3.4"/><circle cx="1621.2" cy="338.6" r="3.4"/><circle cx="1584.0" cy="88.0" r="3.4"/><circle cx="1616.8" cy="316.4" r="3.4"/><circle cx="1603.8" cy="330.5" r="3.4"/><circle cx="1608.1" cy="320.3" r="3.4"/><circle cx="1612.8" cy="322.7" r="3.4"/><circle cx="1616.8" cy="328.6" r="3.4"/><circle cx="1608.8" cy="336.2" r="3.4"/><circle cx="1604.2" cy="338.4" r="3.4"/><circle cx="1616.9" cy="320.3" r="3.4"/><circle cx="1608.7" cy="332.2" r="3.4"/><circle cx="1621.1" cy="330.1" r="3.4"/><circle cx="1617.2" cy="324.4" r="3.4"/><circle cx="1621.0" cy="326.7" r="3.4"/><circle cx="1612.8" cy="338.7" r="3.4"/><circle cx="1604.4" cy="322.3" r="3.4"/><circle cx="1612.6" cy="318.3" r="3.4"/><circle cx="1616.8" cy="336.5" r="3.4"/><circle cx="1608.3" cy="328.3" r="3.4"/><circle cx="1612.4" cy="314.6" r="3.4"/><circle cx="1603.8" cy="334.4" r="3.4"/><circle cx="1621.1" cy="322.6" r="3.4"/><circle cx="1612.6" cy="334.6" r="3.4"/><circle cx="1616.7" cy="332.6" r="3.4"/><circle cx="1603.0" cy="72.5" r="3.4"/><circle cx="1603.0" cy="78.5" r="3.4"/><circle cx="1621.0" cy="77.5" r="3.4"/><circle cx="1639.4" cy="87.9" r="3.4"/><circle cx="1566.3" cy="336.0" r="3.4"/><circle cx="1583.7" cy="337.5" r="3.4"/><circle cx="1656.4" cy="103.0" r="3.4"/><circle cx="1656.4" cy="108.0" r="3.4"/><circle cx="1672.4" cy="126.5" r="3.4"/><circle cx="1672.4" cy="130.5" r="3.4"/><circle cx="1686.3" cy="155.5" r="3.4"/><circle cx="1686.0" cy="159.0" r="3.4"/><circle cx="1639.7" cy="338.0" r="3.4"/><circle cx="1698.6" cy="187.0" r="3.4"/><circle cx="1698.2" cy="190.5" r="3.4"/><circle cx="1657.0" cy="338.0" r="3.4"/><circle cx="1672.6" cy="338.0" r="3.4"/><circle cx="1707.7" cy="223.0" r="3.4"/><circle cx="1707.0" cy="225.5" r="3.4"/><circle cx="1686.7" cy="338.0" r="3.4"/><circle cx="1714.6" cy="260.5" r="3.4"/><circle cx="1714.6" cy="262.0" r="3.4"/><circle cx="1698.2" cy="338.0" r="3.4"/><circle cx="1707.0" cy="338.0" r="3.4"/><circle cx="1718.6" cy="299.5" r="3.4"/><circle cx="1718.6" cy="301.0" r="3.4"/><circle cx="1714.6" cy="338.0" r="3.4"/><circle cx="1720.2" cy="338.0" r="3.4"/></g></g>
<path d="M55 11H573V340H55Z" fill="none" stroke="#1e1e1e" stroke-width="1.5"/><text x="55.0" y="360.8" text-anchor="middle" class="t">0</text><text x="94.8" y="360.8" text-anchor="middle" class="t">2</text><text x="134.7" y="360.8" text-anchor="middle" class="t">4</text><text x="174.5" y="360.8" text-anchor="middle" class="t">6</text><text x="214.4" y="360.8" text-anchor="middle" class="t">8</text><text x="254.2" y="360.8" text-anchor="middle" class="t">10</text><text x="294.0" y="360.8" text-anchor="middle" class="t">12</text><text x="333.9" y="360.8" text-anchor="middle" class="t">14</text><text x="373.7" y="360.8" text-anchor="middle" class="t">16</text><text x="413.6" y="360.8" text-anchor="middle" class="t">18</text><text x="453.4" y="360.8" text-anchor="middle" class="t">20</text><text x="493.2" y="360.8" text-anchor="middle" class="t">22</text><text x="533.1" y="360.8" text-anchor="middle" class="t">24</text><text x="572.9" y="360.8" text-anchor="middle" class="t">26</text><text x="48.8" y="346.2" text-anchor="end" class="t">0.0</text><text x="48.8" y="300.5" text-anchor="end" class="t">0.1</text><text x="48.8" y="254.9" text-anchor="end" class="t">0.2</text><text x="48.8" y="209.2" text-anchor="end" class="t">0.3</text><text x="48.8" y="163.5" text-anchor="end" class="t">0.4</text><text x="48.8" y="117.9" text-anchor="end" class="t">0.5</text><text x="48.8" y="72.2" text-anchor="end" class="t">0.6</text><text x="48.8" y="26.5" text-anchor="end" class="t">0.7</text><path d="M55.0 340v-5.5M74.9 340v-3M94.8 340v-5.5M114.8 340v-3M134.7 340v-5.5M154.6 340v-3M174.5 340v-5.5M194.4 340v-3M214.4 340v-5.5M234.3 340v-3M254.2 340v-5.5M274.1 340v-3M294.0 340v-5.5M314.0 340v-3M333.9 340v-5.5M353.8 340v-3M373.7 340v-5.5M393.6 340v-3M413.6 340v-5.5M433.5 340v-3M453.4 340v-5.5M473.3 340v-3M493.2 340v-5.5M513.2 340v-3M533.1 340v-5.5M553.0 340v-3M55 340.0h5.5M55 317.2h3M55 294.3h5.5M55 271.5h3M55 248.7h5.5M55 225.8h3M55 203.0h5.5M55 180.2h3M55 157.3h5.5M55 134.5h3M55 111.7h5.5M55 88.8h3M55 66.0h5.5M55 43.1h3M55 20.3h5.5" stroke="#1e1e1e" stroke-width="1.4" fill="none"/><text transform="translate(16.0,163.3) rotate(-90)" text-anchor="middle" class="ay">Group velocity (km/s)</text><text x="307.3" y="388" text-anchor="middle" class="ax">Frequency(THz)</text><path d="M652.7 10.5H1162.3V332H652.7Z" fill="none" stroke="#1e1e1e" stroke-width="1.5"/><text x="652.7" y="352.8" text-anchor="middle" class="t">0</text><text x="691.9" y="352.8" text-anchor="middle" class="t">2</text><text x="731.1" y="352.8" text-anchor="middle" class="t">4</text><text x="770.3" y="352.8" text-anchor="middle" class="t">6</text><text x="809.5" y="352.8" text-anchor="middle" class="t">8</text><text x="848.7" y="352.8" text-anchor="middle" class="t">10</text><text x="887.9" y="352.8" text-anchor="middle" class="t">12</text><text x="927.1" y="352.8" text-anchor="middle" class="t">14</text><text x="966.3" y="352.8" text-anchor="middle" class="t">16</text><text x="1005.5" y="352.8" text-anchor="middle" class="t">18</text><text x="1044.7" y="352.8" text-anchor="middle" class="t">20</text><text x="1083.9" y="352.8" text-anchor="middle" class="t">22</text><text x="1123.1" y="352.8" text-anchor="middle" class="t">24</text><text x="1162.3" y="352.8" text-anchor="middle" class="t">26</text><text x="646.5" y="338.2" text-anchor="end" class="t">0.0</text><text x="646.5" y="284.6" text-anchor="end" class="t">0.1</text><text x="646.5" y="231.0" text-anchor="end" class="t">0.2</text><text x="646.5" y="177.4" text-anchor="end" class="t">0.3</text><text x="646.5" y="123.8" text-anchor="end" class="t">0.4</text><text x="646.5" y="70.2" text-anchor="end" class="t">0.5</text><text x="646.5" y="16.6" text-anchor="end" class="t">0.6</text><path d="M652.7 332v-5.5M672.3 332v-3M691.9 332v-5.5M711.5 332v-3M731.1 332v-5.5M750.7 332v-3M770.3 332v-5.5M789.9 332v-3M809.5 332v-5.5M829.1 332v-3M848.7 332v-5.5M868.3 332v-3M887.9 332v-5.5M907.5 332v-3M927.1 332v-5.5M946.7 332v-3M966.3 332v-5.5M985.9 332v-3M1005.5 332v-5.5M1025.1 332v-3M1044.7 332v-5.5M1064.3 332v-3M1083.9 332v-5.5M1103.5 332v-3M1123.1 332v-5.5M1142.7 332v-3M652.7 332.0h5.5M652.7 305.2h3M652.7 278.4h5.5M652.7 251.6h3M652.7 224.8h5.5M652.7 198.0h3M652.7 171.2h5.5M652.7 144.4h3M652.7 117.6h5.5M652.7 90.8h3M652.7 64.0h5.5M652.7 37.2h3" stroke="#1e1e1e" stroke-width="1.4" fill="none"/><text transform="translate(611.5,166.8) rotate(-90)" text-anchor="middle" class="ay">Group velocity (km/s)</text><text x="900.6" y="380.7" text-anchor="middle" class="ax">Frequency(THz)</text><path d="M1234.2 10.5H1752.3V339.6H1234.2Z" fill="none" stroke="#1e1e1e" stroke-width="1.5"/><text x="1234.2" y="360.4" text-anchor="middle" class="t">0</text><text x="1279.3" y="360.4" text-anchor="middle" class="t">2</text><text x="1324.3" y="360.4" text-anchor="middle" class="t">4</text><text x="1369.4" y="360.4" text-anchor="middle" class="t">6</text><text x="1414.4" y="360.4" text-anchor="middle" class="t">8</text><text x="1459.5" y="360.4" text-anchor="middle" class="t">10</text><text x="1504.6" y="360.4" text-anchor="middle" class="t">12</text><text x="1549.6" y="360.4" text-anchor="middle" class="t">14</text><text x="1594.7" y="360.4" text-anchor="middle" class="t">16</text><text x="1639.7" y="360.4" text-anchor="middle" class="t">18</text><text x="1684.8" y="360.4" text-anchor="middle" class="t">20</text><text x="1729.9" y="360.4" text-anchor="middle" class="t">22</text><text x="1228.0" y="345.8" text-anchor="end" class="t">0.0</text><text x="1228.0" y="286.0" text-anchor="end" class="t">0.1</text><text x="1228.0" y="226.2" text-anchor="end" class="t">0.2</text><text x="1228.0" y="166.4" text-anchor="end" class="t">0.3</text><text x="1228.0" y="106.6" text-anchor="end" class="t">0.4</text><text x="1228.0" y="46.8" text-anchor="end" class="t">0.5</text><path d="M1234.2 339.6v-5.5M1256.7 339.6v-3M1279.3 339.6v-5.5M1301.8 339.6v-3M1324.3 339.6v-5.5M1346.9 339.6v-3M1369.4 339.6v-5.5M1391.9 339.6v-3M1414.4 339.6v-5.5M1437.0 339.6v-3M1459.5 339.6v-5.5M1482.0 339.6v-3M1504.6 339.6v-5.5M1527.1 339.6v-3M1549.6 339.6v-5.5M1572.2 339.6v-3M1594.7 339.6v-5.5M1617.2 339.6v-3M1639.7 339.6v-5.5M1662.3 339.6v-3M1684.8 339.6v-5.5M1707.3 339.6v-3M1729.9 339.6v-5.5M1234.2 339.6h5.5M1234.2 309.7h3M1234.2 279.8h5.5M1234.2 249.9h3M1234.2 220.0h5.5M1234.2 190.1h3M1234.2 160.2h5.5M1234.2 130.3h3M1234.2 100.4h5.5M1234.2 70.5h3M1234.2 40.6h5.5" stroke="#1e1e1e" stroke-width="1.4" fill="none"/><text transform="translate(1195.5,163) rotate(-90)" text-anchor="middle" class="ay">Group velocity (km/s)</text><text x="1487" y="388" text-anchor="middle" class="ax">Frequency(THz)</text>
<circle class="Lr" cx="288.2" cy="34" r="3.1"/><circle class="Lb" cx="352.6" cy="34" r="3.1"/><circle class="Lm" cx="412.4" cy="34" r="3.1"/><circle class="Lo" cx="469.8" cy="34" r="3.1"/><text x="308.3" y="40.1" class="lg">TA<tspan class="sub" dx="0.8" dy="4.6">1</tspan></text><text x="372.7" y="40.1" class="lg">TA<tspan class="sub" dx="0.8" dy="4.6">2</tspan></text><text x="432.8" y="40.1" class="lg">LA</text><text x="489.8" y="40.1" class="lg">Optical</text><circle class="Lr" cx="882.6" cy="32.6" r="3.1"/><circle class="Lb" cx="945.9" cy="32.6" r="3.1"/><circle class="Lm" cx="1004.4" cy="32.6" r="3.1"/><circle class="Lo" cx="1061.3" cy="32.6" r="3.1"/><text x="903.1" y="39.4" class="lg">TA<tspan class="sub" dx="0.8" dy="4.6">1</tspan></text><text x="966.3" y="39.4" class="lg">TA<tspan class="sub" dx="0.8" dy="4.6">2</tspan></text><text x="1025.0" y="39.4" class="lg">LA</text><text x="1081.4" y="39.4" class="lg">Optical</text><circle class="Lr" cx="1467.6" cy="32.9" r="3.1"/><circle class="Lb" cx="1532" cy="32.9" r="3.1"/><circle class="Lm" cx="1591.8" cy="32.9" r="3.1"/><circle class="Lo" cx="1649.6" cy="32.9" r="3.1"/><text x="1487.9" y="39.8" class="lg">TA<tspan class="sub" dx="0.8" dy="4.6">1</tspan></text><text x="1552" y="39.8" class="lg">TA<tspan class="sub" dx="0.8" dy="4.6">2</tspan></text><text x="1611.6" y="39.8" class="lg">LA</text><text x="1669.7" y="39.8" class="lg">Optical</text>
<text x="313.5" y="429.8" text-anchor="middle" class="pl">(a)</text><text x="906.2" y="429.8" text-anchor="middle" class="pl">(b)</text><text x="1490.1" y="429.8" text-anchor="middle" class="pl">(c)</text>
</svg></body></html>
